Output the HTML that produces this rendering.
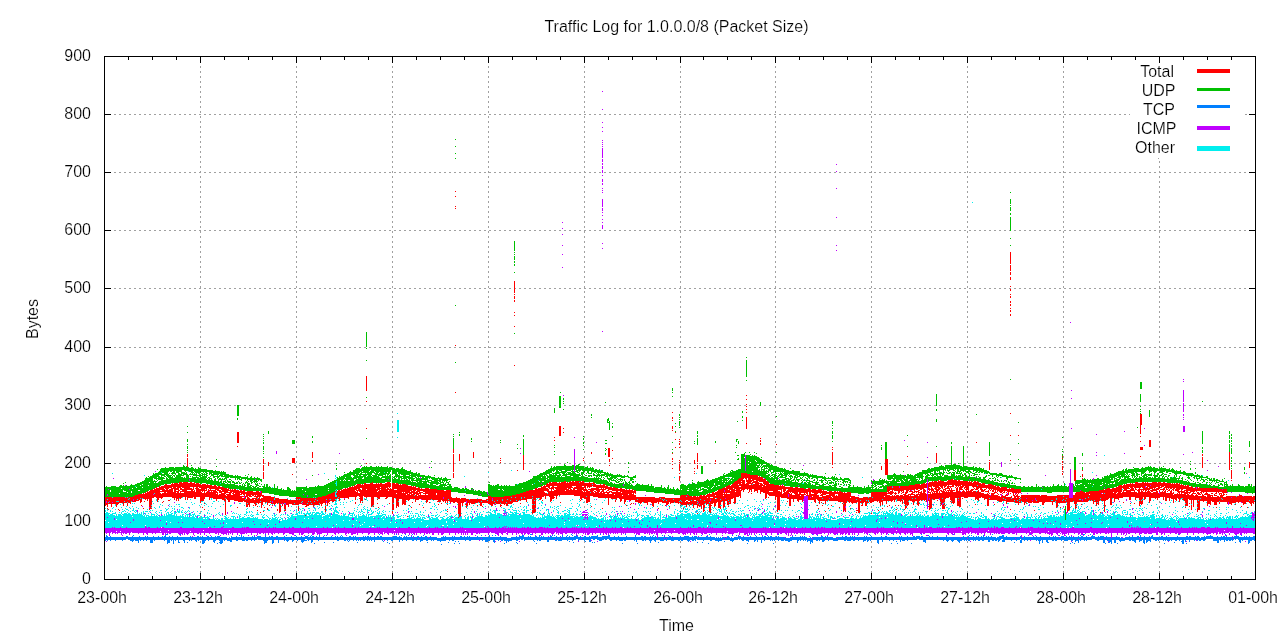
<!DOCTYPE html>
<html><head><meta charset="utf-8"><title>Traffic Log for 1.0.0.0/8 (Packet Size)</title>
<style>
html,body{margin:0;padding:0;background:#fff;overflow:hidden}
svg{display:block}
text{font-family:"Liberation Sans",Arial,Helvetica,sans-serif;font-size:16px;fill:#000;stroke:#fff;stroke-width:.2px}
</style></head><body>
<svg width="1280" height="640" viewBox="0 0 1280 640">
<rect width="1280" height="640" fill="#fff"/>
<g shape-rendering="crispEdges">
<path d="M114 521.5H1255M114 463.5H1255M114 405.5H1255M114 347.5H1255M114 288.5H1255M114 230.5H1255M114 172.5H1255M114 114.5H1255" stroke="#a0a0a0" stroke-dasharray="2 3" fill="none"/>
<path d="M200.5 61V579M296.5 61V579M392.5 61V579M488.5 61V579M584.5 61V579M680.5 61V579M775.5 61V579M871.5 61V579M967.5 61V579M1063.5 61V579M1159.5 61V579" stroke="#a0a0a0" stroke-dasharray="2 3" fill="none"/>
<rect x="1130" y="57" width="115" height="101" fill="#fff"/><path d="M1245 114.5h2M1158 158.5h1" stroke="#a0a0a0" fill="none"/>
<path d="M200.5 579v-6M200.5 57v6M296.5 579v-6M296.5 57v6M392.5 579v-6M392.5 57v6M488.5 579v-6M488.5 57v6M584.5 579v-6M584.5 57v6M680.5 579v-6M680.5 57v6M775.5 579v-6M775.5 57v6M871.5 579v-6M871.5 57v6M967.5 579v-6M967.5 57v6M1063.5 579v-6M1063.5 57v6M1159.5 579v-6M1159.5 57v6M128.5 579v-3M128.5 57v3M152.5 579v-3M152.5 57v3M176.5 579v-3M176.5 57v3M224.5 579v-3M224.5 57v3M248.5 579v-3M248.5 57v3M272.5 579v-3M272.5 57v3M320.5 579v-3M320.5 57v3M344.5 579v-3M344.5 57v3M368.5 579v-3M368.5 57v3M416.5 579v-3M416.5 57v3M440.5 579v-3M440.5 57v3M464.5 579v-3M464.5 57v3M512.5 579v-3M512.5 57v3M536.5 579v-3M536.5 57v3M560.5 579v-3M560.5 57v3M608.5 579v-3M608.5 57v3M632.5 579v-3M632.5 57v3M656.5 579v-3M656.5 57v3M703.5 579v-3M703.5 57v3M727.5 579v-3M727.5 57v3M751.5 579v-3M751.5 57v3M799.5 579v-3M799.5 57v3M823.5 579v-3M823.5 57v3M847.5 579v-3M847.5 57v3M895.5 579v-3M895.5 57v3M919.5 579v-3M919.5 57v3M943.5 579v-3M943.5 57v3M991.5 579v-3M991.5 57v3M1015.5 579v-3M1015.5 57v3M1039.5 579v-3M1039.5 57v3M1087.5 579v-3M1087.5 57v3M1111.5 579v-3M1111.5 57v3M1135.5 579v-3M1135.5 57v3M1183.5 579v-3M1183.5 57v3M1207.5 579v-3M1207.5 57v3M1231.5 579v-3M1231.5 57v3M105 521.5h6M1255 521.5h-6M105 463.5h6M1255 463.5h-6M105 405.5h6M1255 405.5h-6M105 347.5h6M1255 347.5h-6M105 288.5h6M1255 288.5h-6M105 230.5h6M1255 230.5h-6M105 172.5h6M1255 172.5h-6M105 114.5h6M1255 114.5h-6" stroke="#000" fill="none"/>
<g fill="none" stroke-width="1">
<path stroke="#ff0000" d="M105.5 497v9M106.5 497v4m0 2v2M107.5 497v2m0 1v7m0 1v1M108.5 497v5m0 1v1m0 5v1M109.5 497v4m0 1v2M110.5 497v7M111.5 497v10M112.5 498v4m0 1v1M113.5 497v7M114.5 497v7M115.5 497v7M116.5 497v4m0 1v5M117.5 497v4m0 1v3M118.5 497v4m0 1v2m0 5v1M119.5 497v6m0 7v1M120.5 497v6M121.5 497v6M122.5 497v6M123.5 497v9M124.5 497v4m0 1v1M125.5 498v5M126.5 497v6M127.5 498v4m0 1v3M128.5 497v2m0 1v3M129.5 497v1m0 1v4M130.5 497v7M131.5 497v4M132.5 497v5M133.5 496v3m0 2v1M134.5 496v6M135.5 495v7M136.5 495v6M137.5 495v4m0 1v1M138.5 494v7M139.5 494v6M140.5 494v4m0 1v4M141.5 494v8m0 3v1M142.5 494v4M143.5 493v6m0 9v1M144.5 494v5m0 2v1M145.5 492v8M146.5 493v6M147.5 491v10M148.5 492v7M149.5 491v16m0 1v2M150.5 490v19M151.5 490v15m0 1v1m0 1v1M152.5 489v9M153.5 490v4m0 1v3M154.5 488v5m0 1v3M155.5 489v8M156.5 487v11M157.5 488v14M158.5 488v12M159.5 486v12M160.5 487v3m0 1v1m0 1v5M161.5 486v4m0 1v1m0 2v5M162.5 486v6m0 1v5m0 4v1M163.5 486v6m0 1v4m0 4v1M164.5 485v3m0 1v8M165.5 484v5m0 1v7M166.5 484v8m0 1v4M167.5 485v12M168.5 485v4m0 1v7m0 3v1M169.5 485v3m0 1v8m0 3v1M170.5 485v3m0 1v8M171.5 484v13M172.5 483v4m0 1v10M173.5 484v5m0 3v6M174.5 483v17M175.5 483v15M176.5 483v4m0 1v2m0 1v1m0 1v8M177.5 483v7m0 1v8M178.5 484v17M179.5 482v6m0 2v1m0 2v5M180.5 482v8m0 1v8M181.5 482v5m0 1v2m0 1v1m0 1v5M182.5 483v5m0 1v3m0 1v4M183.5 482v6m0 1v3m0 1v4M184.5 482v15M185.5 482v18M186.5 482v15M187.5 454v3m0 1v9m0 15v8m0 1v9M188.5 483v7m0 1v7M189.5 483v7m0 1v7M190.5 482v5m0 1v2m0 1v7M191.5 482v5m0 1v10M192.5 483v4m0 2v9M193.5 483v7m0 1v6M194.5 482v5m0 3v9M195.5 484v3m0 1v1m0 3v7M196.5 483v14M197.5 483v14M198.5 483v4m0 1v9M199.5 484v4m0 1v8M200.5 484v4m0 1v14M201.5 485v6m0 1v9M202.5 484v8m0 1v8m0 6v1M203.5 484v7m0 2v8M204.5 484v15m0 4v1m0 5v1M205.5 484v5m0 1v1m0 2v4M206.5 485v6m0 1v5M207.5 484v4m0 3v6M208.5 485v3m0 1v8M209.5 485v4m0 1v1m0 1v8M210.5 485v6m0 1v6M211.5 485v4m0 1v8M212.5 486v3m0 1v1m0 1v6M213.5 486v3m0 1v9M214.5 485v4m0 1v9M215.5 485v14M216.5 486v4m0 1v2m0 1v7M217.5 487v4m0 1v7M218.5 486v5m0 4v4M219.5 486v3m0 1v3m0 1v5M220.5 487v2m0 1v3m0 1v5M221.5 487v3m0 1v8M222.5 487v5m0 1v7M223.5 487v5m0 1v7M224.5 488v13M225.5 488v6m0 1v3m0 1v16M226.5 488v5m0 1v1m0 1v3M227.5 489v4m0 1v6M228.5 488v3m0 1v1m0 1v8M229.5 490v1m0 1v10M230.5 489v11M231.5 490v3m0 2v5M232.5 489v3m0 1v1m0 1v5M233.5 490v10M234.5 489v4m0 1v7M235.5 489v12M236.5 490v11M237.5 432v11m0 3v1m0 43v11m0 6v1M238.5 432v11m0 47v12M239.5 491v11M240.5 490v3m0 1v1m0 1v6M241.5 490v5m0 1v6M242.5 491v3m0 2v1m0 1v4M243.5 490v5m0 1v1m0 1v3M244.5 490v6m0 2v4M245.5 492v2m0 2v3m0 1v2M246.5 492v5m0 2v8M247.5 491v12m0 1v3M248.5 491v5m0 1v8M249.5 491v6m0 1v9M250.5 491v6m0 2v4M251.5 491v4m0 1v1m0 2v4M252.5 491v5m0 2v5M253.5 492v4m0 2v5m0 2v1M254.5 492v3m0 1v1m0 1v1m0 1v4M255.5 492v5m0 1v8M256.5 491v4m0 1v7m0 1v1M257.5 491v7m0 1v4m0 3v1m0 3v1M258.5 491v6m0 1v6M259.5 492v11M260.5 493v4m0 2v2m0 1v1m0 9v1M261.5 491v5m0 2v10M262.5 495v2m0 1v7M263.5 459v5m0 1v6m0 1v7m0 16v7m0 9v1M264.5 496v6m0 5v1M265.5 496v7M266.5 496v6M267.5 496v9m0 3v2M268.5 462v4m0 30v7M269.5 496v7m0 2v1M270.5 496v5m0 1v1M271.5 497v7M272.5 497v4m0 2v1m0 1v1M273.5 497v7M274.5 497v1m0 2v5M275.5 498v6M276.5 498v5M277.5 498v6m0 5v2M278.5 498v5M279.5 499v14M280.5 499v5m0 1v7M281.5 499v5M282.5 499v4m0 1v2M283.5 499v5M284.5 499v4m0 1v5m0 1v1M285.5 499v4m0 2v6M286.5 499v6M287.5 499v6M288.5 500v7M289.5 500v4M290.5 500v4M291.5 500v4M292.5 458v5m0 11v1m0 25v5M293.5 458v5m0 37v5M294.5 458v5m0 37v3m0 1v1M295.5 500v5M296.5 497v8M297.5 497v2m0 1v5M298.5 497v8m0 1v5M299.5 497v2m0 1v4M300.5 497v7M301.5 498v4m0 1v1M302.5 498v3m0 1v1m0 1v1M303.5 498v7M304.5 498v7M305.5 498v7m0 1v1m0 8v1M306.5 498v9M307.5 498v5m0 1v2M308.5 498v3m0 1v4M309.5 498v7M310.5 498v3m0 1v3M311.5 498v5m0 1v1M312.5 452v6m0 2v2m0 36v7M313.5 498v9M314.5 498v3m0 1v3M315.5 498v1m0 1v5M316.5 498v7M317.5 498v2m0 1v4M318.5 497v8M319.5 497v6m0 1v1M320.5 497v7M321.5 497v9M322.5 496v8M323.5 496v7M324.5 496v7M325.5 496v9m0 1v6M326.5 495v4m0 1v1M327.5 495v11M328.5 494v9M329.5 494v5m0 1v2m0 1v1M330.5 494v5m0 1v1M331.5 493v8M332.5 493v9M333.5 492v10M334.5 492v9M335.5 491v1m0 5v2m0 1v1M336.5 493v2m0 2v2M337.5 491v7M338.5 490v7m0 1v1M339.5 490v11M340.5 491v7M341.5 489v9M342.5 490v8M343.5 489v9M344.5 489v9m0 1v1M345.5 488v10M346.5 489v9M347.5 488v10M348.5 488v11M349.5 487v10M350.5 487v10M351.5 487v10M352.5 486v11M353.5 487v10M354.5 485v12M355.5 486v4m0 1v9m0 2v2M356.5 485v6m0 1v5M357.5 484v5m0 1v6M358.5 484v7m0 2v3M359.5 484v8m0 1v4m0 1v1M360.5 484v4m0 1v14M361.5 485v3m0 2v11M362.5 484v17m0 1v1M363.5 485v11M364.5 483v14M365.5 483v14m0 2v1M366.5 376v15m0 10v1m0 26v1m0 34v1m0 20v5m0 1v8M367.5 484v13M368.5 484v13M369.5 484v13M370.5 483v14M371.5 483v24M372.5 482v24M373.5 484v21m0 1v1M374.5 484v13M375.5 484v13M376.5 483v5m0 1v8M377.5 484v7m0 1v6m0 1v1m0 3v1M378.5 483v7m0 1v8m0 8v1M379.5 484v15M380.5 483v4m0 1v1m0 1v7M381.5 483v14M382.5 484v13M383.5 484v13M384.5 484v13M385.5 483v14m0 1v1M386.5 483v5m0 1v10M387.5 482v16M388.5 482v5m0 1v2m0 1v6M389.5 482v6m0 1v8m0 6v1M390.5 483v4m0 1v9M391.5 489v8M392.5 483v27m0 1v3M393.5 483v20m0 1v6M394.5 483v6m0 1v8M395.5 484v5m0 1v8M396.5 483v6m0 1v3m0 1v14M397.5 483v23M398.5 484v17m0 1v5M399.5 485v14M400.5 484v15M401.5 485v14M402.5 484v8m0 1v12M403.5 484v20M404.5 484v8m0 1v12M405.5 484v21M406.5 485v9m0 1v5M407.5 485v15m0 16v1M408.5 486v7m0 1v7M409.5 486v14m0 5v1M410.5 486v5m0 1v2m0 1v4M411.5 486v13m0 8v1M412.5 487v3m0 1v2m0 1v5m0 3v1M413.5 486v13M414.5 487v8m0 1v3M415.5 486v5m0 1v2m0 1v7M416.5 488v2m0 1v9M417.5 488v7m0 1v4M418.5 487v5m0 1v7M419.5 488v6m0 1v4m0 5v1M420.5 489v2m0 1v7M421.5 488v3m0 1v1m0 2v4M422.5 489v2m0 1v1m0 2v5M423.5 489v3m0 1v1m0 1v5m0 7v1M424.5 489v3m0 1v1m0 1v5M425.5 488v12M426.5 488v6m0 1v8M427.5 488v6m0 1v7M428.5 488v12M429.5 489v11m0 2v1M430.5 489v11M431.5 489v10M432.5 489v11M433.5 489v11M434.5 489v11M435.5 489v11M436.5 489v4m0 2v5M437.5 490v10m0 1v1M438.5 490v12m0 2v1M439.5 490v12M440.5 490v12M441.5 490v10m0 3v1M442.5 490v11M443.5 490v7m0 2v3M444.5 491v10M445.5 491v12M446.5 490v11M447.5 490v13m0 1v1m0 4v1m0 1v1M448.5 490v9m0 1v1M449.5 490v11M450.5 490v13M451.5 497v5M452.5 498v4M453.5 449v4m0 1v18m0 1v5m0 20v5M454.5 498v5M455.5 191v1m0 4v1m0 9v1m0 1v1m0 136v1m0 46v1m0 105v4M456.5 497v5M457.5 498v5M458.5 498v16m0 3v1M459.5 454v7m0 37v19M460.5 499v17M461.5 498v5M462.5 498v8M463.5 498v5M464.5 498v4M465.5 498v4m0 2v1M466.5 499v2m0 2v5M467.5 499v7M468.5 499v4M469.5 500v5M470.5 499v4M471.5 499v5M472.5 499v5M473.5 452v6m0 41v5M474.5 499v5M475.5 499v4M476.5 499v4M477.5 499v4m0 2v1M478.5 499v3M479.5 499v4M480.5 499v7M481.5 499v2m0 1v4M482.5 500v3m0 3v1M483.5 500v3M484.5 500v3M485.5 500v3M486.5 499v4M487.5 499v1m0 1v2M488.5 496v8M489.5 496v8M490.5 496v9M491.5 497v9M492.5 497v1m0 3v5M493.5 497v7M494.5 497v4m0 1v2M495.5 497v6m0 1v1M496.5 497v7M497.5 497v3m0 1v3M498.5 497v7M499.5 497v7M500.5 458v1m0 1v1m0 1v1m0 34v6m0 1v3M501.5 497v7m0 1v1M502.5 497v2m0 2v3M503.5 497v7M504.5 496v9M505.5 496v8M506.5 496v6m0 1v3M507.5 496v3m0 1v6M508.5 496v8M509.5 496v8M510.5 496v4m0 1v3M511.5 496v1m0 1v6M512.5 495v8M513.5 495v7M514.5 281v12m0 1v1m0 1v3m0 1v2m0 10v1m0 2v1m0 10v1m0 38v1m0 129v7M515.5 495v2m0 1v4M516.5 494v6m0 1v1M517.5 470v1m0 23v8M518.5 494v7M519.5 494v6M520.5 493v8m0 2v1M521.5 493v4m0 2v1M522.5 493v7M523.5 455v15m0 22v8M524.5 492v5m0 1v2M525.5 492v8M526.5 491v11M527.5 491v8M528.5 491v8M529.5 490v9M530.5 490v9M531.5 490v9M532.5 490v6m0 1v1m0 1v5m0 1v4m0 1v4M533.5 490v23M534.5 490v10m0 1v3m0 1v8M535.5 488v20m0 1v3M536.5 488v10M537.5 489v9M538.5 488v10M539.5 488v10m0 1v1M540.5 488v12M541.5 486v13M542.5 487v10m0 3v1M543.5 486v11M544.5 485v6m0 1v4M545.5 486v5m0 2v6M546.5 484v3m0 1v3m0 2v3M547.5 483v4m0 1v4m0 2v2M548.5 484v4m0 1v7M549.5 482v7m0 2v6M550.5 482v4m0 2v1m0 2v11M551.5 483v3m0 1v14M552.5 482v7m0 2v8M553.5 482v8m0 1v8M554.5 437v1m0 2v1m0 41v4m0 1v1m0 2v6m0 1v1M555.5 482v4m0 1v2m0 1v6M556.5 482v4m0 1v12M557.5 483v13M558.5 483v12M559.5 426v10m0 46v14M560.5 426v10m0 47v12m0 7v1M561.5 482v13M562.5 482v13M563.5 428v1m0 3v1m0 49v13M564.5 481v14M565.5 481v9m0 1v4M566.5 483v12M567.5 482v6m0 1v6M568.5 483v12M569.5 482v7m0 1v5M570.5 481v14M571.5 482v6m0 1v6M572.5 481v5m0 1v1m0 2v5M573.5 481v5m0 2v7M574.5 482v4m0 1v9M575.5 481v5m0 1v2m0 1v6M576.5 481v8m0 1v6M577.5 481v15M578.5 481v15M579.5 481v1m0 1v13M580.5 481v18m0 1v1M581.5 482v18M582.5 481v5m0 1v3m0 1v7M583.5 458v1m0 1v1m0 20v5m0 1v4m0 1v6M584.5 483v5m0 1v10M585.5 483v8m0 1v7M586.5 483v3m0 3v7m0 1v6M587.5 483v5m0 2v13M588.5 483v4m0 2v1m0 1v11M589.5 482v6m0 1v1m0 1v11M590.5 483v4m0 2v3m0 1v3M591.5 452v2m0 29v4m0 1v8m0 10v1M592.5 483v1m0 1v1m0 2v8M593.5 482v5m0 1v3m0 1v5M594.5 483v4m0 1v2m0 1v1m0 1v4M595.5 484v3m0 1v2m0 1v6M596.5 485v6m0 1v5M597.5 485v12M598.5 485v13M599.5 485v3m0 1v3m0 1v5M600.5 484v4m0 1v1m0 2v6M601.5 485v5m0 1v7M602.5 485v3m0 1v3m0 1v5m0 10v1M603.5 484v14M604.5 484v4m0 1v1m0 2v6M605.5 486v4m0 2v1m0 1v4M606.5 485v4m0 2v2m0 1v4M607.5 486v3m0 1v1m0 1v6M608.5 448v9m0 30v4m0 1v13M609.5 448v9m0 2v3m0 3v1m0 21v3m0 1v2m0 1v4M610.5 487v3m0 1v1m0 2v4M611.5 487v3m0 1v2m0 1v5M612.5 450v1m0 7v1m0 29v3m0 1v7M613.5 487v4m0 1v7M614.5 487v4m0 1v2m0 1v4M615.5 488v3m0 1v7m0 1v2M616.5 488v12M617.5 488v10M618.5 489v2m0 1v6M619.5 489v2m0 1v7M620.5 488v14M621.5 488v4m0 1v8M622.5 489v6m0 1v3M623.5 489v10M624.5 489v15M625.5 490v12M626.5 489v11m0 5v1M627.5 490v10M628.5 490v4m0 1v5M629.5 489v11M630.5 490v11m0 3v1M631.5 490v10m0 3v1M632.5 489v4m0 1v6M633.5 491v9m0 3v1M634.5 490v3m0 2v5M635.5 490v4m0 1v7M636.5 497v5M637.5 497v2m0 1v2M638.5 497v6M639.5 497v6M640.5 497v7M641.5 497v6M642.5 497v5M643.5 497v5M644.5 497v6M645.5 497v6M646.5 497v6M647.5 497v8M648.5 497v5M649.5 497v5M650.5 497v5M651.5 497v6M652.5 497v9M653.5 497v10M654.5 497v6M655.5 498v5M656.5 498v5M657.5 498v4M658.5 498v6m0 4v1M659.5 497v5M660.5 497v1m0 1v3M661.5 497v5M662.5 497v2m0 1v3M663.5 497v3m0 1v2M664.5 497v2m0 1v3M665.5 498v5m0 2v1M666.5 498v2m0 1v4M667.5 498v7M668.5 498v6M669.5 498v4m0 4v1M670.5 498v6M671.5 498v5M672.5 412v1m0 4v2m0 1v1m0 5v3m0 1v1m0 22v1m0 4v2m0 1v1m0 2v1m0 3v1m0 29v5M673.5 498v1m0 1v3M674.5 498v4M675.5 432v1m0 6v1m0 7v1m0 50v5M676.5 498v5M677.5 498v5M678.5 498v6M679.5 439v1m0 1v1m0 1v2m0 2v1m0 12v1m0 1v1m0 1v7m0 2v1m0 2v5m0 17v3m0 1v1M680.5 496v4m0 1v3m0 1v1M681.5 495v6m0 1v3M682.5 495v10M683.5 495v10m0 3v1M684.5 495v10M685.5 495v6m0 1v3M686.5 495v1m0 1v3m0 1v6M687.5 495v5m0 1v3M688.5 495v6m0 1v3M689.5 496v5m0 1v2m0 1v1M690.5 496v9M691.5 496v4m0 1v4M692.5 497v7M693.5 496v12M694.5 460v4m0 4v1m0 2v1m0 1v1m0 22v4m0 1v4M695.5 496v4m0 1v4M696.5 497v8M697.5 453v9m0 1v1m0 1v4m0 27v5m0 1v1m0 1v4m0 5v1M698.5 497v5m0 1v3M699.5 496v8m0 1v2M700.5 495v4m0 1v6M701.5 495v14M702.5 496v9M703.5 495v17M704.5 495v5m0 1v3m0 1v3m0 2v1M705.5 496v7M706.5 495v10M707.5 494v3m0 1v6M708.5 494v10M709.5 493v9m0 1v9M710.5 494v3m0 1v1m0 2v12M711.5 494v3m0 1v6m0 1v1M712.5 492v5m0 1v6M713.5 492v11M714.5 493v14M715.5 460v2m0 1v1m0 28v3m0 1v2m0 1v7M716.5 492v6m0 1v4M717.5 491v11M718.5 490v18M719.5 489v19M720.5 489v10m0 1v5m0 1v3M721.5 489v13M722.5 488v13M723.5 488v5m0 1v1m0 1v12M724.5 487v3m0 2v15M725.5 488v5m0 1v4m0 1v2M726.5 486v15m0 9v1M727.5 486v7m0 1v11M728.5 485v4m0 1v3m0 1v6m0 1v4m0 1v1M729.5 485v8m0 1v8m0 1v1M730.5 486v4m0 1v13M731.5 485v14M732.5 484v15M733.5 483v5m0 1v9m0 4v1M734.5 482v22M735.5 481v8m0 1v1m0 1v11M736.5 481v16M737.5 480v17M738.5 479v5m0 1v12M739.5 478v8m0 1v9M740.5 478v8m0 1v2m0 1v8M741.5 473v8m0 1v1m0 1v7M742.5 473v17M743.5 473v6m0 1v12M744.5 473v5m0 2v10M745.5 473v6m0 5v5M746.5 395v1m0 3v1m0 4v1m0 1v1m0 2v1m0 2v1m0 4v12m0 14v1m0 29v9m0 1v6M747.5 474v4m0 2v10M748.5 474v15m0 3v1M749.5 474v10m0 1v7M750.5 475v9m0 1v5M751.5 475v4m0 1v2m0 1v9m0 1v1M752.5 475v6m0 1v2m0 1v4M753.5 475v8m0 1v5M754.5 475v5m0 1v2m0 1v8M755.5 475v5m0 1v10M756.5 475v16M757.5 475v18M758.5 477v4m0 1v8M759.5 476v6m0 1v1m0 1v5M760.5 438v1m0 1v2m0 1v2m0 32v5m0 1v11M761.5 477v5m0 1v9M762.5 477v5m0 2v2m0 1v5M763.5 479v5m0 1v8M764.5 479v14M765.5 479v6m0 1v13M766.5 481v17M767.5 481v13M768.5 482v13m0 2v1M769.5 484v7m0 1v4M770.5 484v7m0 1v4M771.5 484v7m0 1v4M772.5 484v7m0 1v4M773.5 484v12M774.5 485v11M775.5 485v15M776.5 444v1m0 40v12M777.5 485v27M778.5 485v5m0 1v19M779.5 486v4m0 1v19M780.5 485v5m0 2v5M781.5 486v12M782.5 485v4m0 5v4M783.5 486v6m0 1v5M784.5 486v12M785.5 487v4m0 1v6M786.5 487v2m0 2v7M787.5 487v2m0 1v9m0 2v1M788.5 487v7m0 3v2M789.5 487v5m0 1v13M790.5 487v6m0 1v12M791.5 487v5m0 1v6M792.5 487v6m0 2v4M793.5 488v5m0 2v7M794.5 488v6m0 1v4M795.5 487v12M796.5 487v12M797.5 487v14M798.5 488v4m0 2v8M799.5 488v12M800.5 488v7m0 1v4M801.5 488v5m0 1v6M802.5 488v5m0 1v8M803.5 488v5m0 1v5M804.5 489v6M805.5 489v4m0 1v1M806.5 489v5m0 1v1M807.5 489v7M808.5 488v4m0 3v5M809.5 488v12M810.5 489v8m0 1v2M811.5 490v2m0 2v6M812.5 489v4m0 1v2m0 1v3M813.5 489v4m0 1v6M814.5 489v13M815.5 489v14M816.5 490v9M817.5 490v4m0 1v5m0 5v1M818.5 489v4m0 2v6m0 7v1M819.5 489v4m0 4v7M820.5 489v5m0 1v1m0 1v4M821.5 489v4m0 1v2m0 1v4m0 1v1M822.5 491v7m0 1v2m0 4v1M823.5 490v5m0 1v5m0 2v1M824.5 491v4m0 1v5M825.5 491v4m0 1v8m0 7v1M826.5 491v3m0 1v6M827.5 492v2m0 1v6M828.5 492v2m0 1v5m0 8v1M829.5 491v7m0 1v2M830.5 491v10M831.5 491v5m0 1v4m0 4v1M832.5 447v1m0 1v1m0 2v13m0 2v1m0 24v5m0 1v3M833.5 492v9M834.5 491v10M835.5 491v3m0 2v5M836.5 492v2m0 1v6M837.5 491v3m0 2v5M838.5 492v10M839.5 491v11m0 5v1M840.5 491v11M841.5 492v10M842.5 492v10m0 1v1M843.5 493v10m0 1v8M844.5 492v18M845.5 493v13m0 2v4M846.5 493v10M847.5 492v9M848.5 492v10M849.5 492v11M850.5 492v5m0 1v4m0 6v1M851.5 496v7M852.5 496v8M853.5 496v7M854.5 496v7M855.5 497v6M856.5 497v2m0 1v3m0 7v1m0 1v1M857.5 497v5m0 8v1M858.5 497v16M859.5 498v15M860.5 498v2m0 1v2M861.5 498v5m0 2v1M862.5 498v8M863.5 497v6M864.5 497v5M865.5 497v9M866.5 497v3m0 1v5M867.5 497v6M868.5 498v2m0 2v1M869.5 497v5M870.5 497v6M871.5 492v11m0 10v1M872.5 492v5m0 1v4M873.5 492v10M874.5 492v9M875.5 492v9M876.5 492v9M877.5 492v10M878.5 492v9m0 9v1M879.5 492v11M880.5 492v14M881.5 466v4m0 22v10M882.5 492v7m0 1v5m0 3v1M883.5 492v9M884.5 492v4m0 1v4M885.5 459v16m0 17v9M886.5 459v16m0 17v12M887.5 459v16m0 11v6m0 1v1m0 1v6m0 5v1M888.5 487v7m0 1v6M889.5 486v5m0 1v2m0 1v6m0 4v1M890.5 486v4m0 1v4m0 1v5M891.5 486v4m0 1v4m0 1v6M892.5 488v6m0 1v6M893.5 486v4m0 2v1m0 3v4M894.5 486v5m0 2v1m0 1v7M895.5 486v5m0 1v3m0 1v4m0 5v1M896.5 486v5m0 2v1m0 1v4m0 10v1M897.5 486v5m0 4v6M898.5 486v8m0 1v6m0 4v1M899.5 488v5m0 3v5M900.5 486v5m0 4v7M901.5 486v6m0 1v1m0 1v6M902.5 486v5m0 1v1m0 2v4m0 1v4M903.5 486v7m0 1v1m0 1v4M904.5 486v4m0 4v10m0 5v1M905.5 486v4m0 2v17M906.5 486v8m0 1v10m0 1v2M907.5 456v1m0 7v1m0 21v7m0 2v11M908.5 486v5m0 3v7m0 1v3M909.5 485v5m0 1v1m0 2v1m0 1v4M910.5 485v7m0 2v7M911.5 485v5m0 1v1m0 1v2m0 1v5M912.5 485v5m0 1v4m0 1v2m0 1v3M913.5 485v5m0 2v1m0 1v1m0 1v9M914.5 485v8m0 1v8M915.5 484v5m0 2v1m0 3v3m0 1v2M916.5 484v6m0 1v2m0 1v7M917.5 484v6m0 1v1m0 2v11M918.5 484v5m0 1v5m0 1v10M919.5 484v5m0 1v1m0 1v1m0 1v7m0 2v1M920.5 485v5m0 2v8M921.5 484v6m0 1v10M922.5 484v5m0 4v7M923.5 483v17M924.5 483v5m0 1v12M925.5 484v4m0 2v2m0 1v7M926.5 483v5m0 6v8M928.5 483v7m0 1v2m0 1v7m0 5v1M929.5 482v5m0 1v3m0 1v1m0 1v4m0 2v10M930.5 482v5m0 2v1m0 2v17M931.5 482v10m0 2v14M932.5 481v5m0 2v3m0 1v7M933.5 482v5m0 2v3m0 1v7M934.5 481v6m0 1v1m0 2v9M935.5 481v9m0 1v1m0 1v6M936.5 453v10m0 18v18M937.5 482v6m0 1v10m0 1v1M938.5 480v11m0 2v6M939.5 481v5m0 1v3m0 1v7M940.5 480v7m0 1v1m0 1v1m0 2v9m0 1v1m0 1v1M941.5 481v7m0 2v2m0 1v12M942.5 481v8m0 2v7m0 1v4m0 2v4M943.5 481v5m0 3v14m0 1v5M944.5 482v6m0 1v1m0 1v11m0 1v2m0 1v3M945.5 482v5m0 1v3m0 1v7m0 6v1M946.5 482v4m0 2v1m0 2v7M947.5 481v4m0 1v3m0 1v1m0 1v6M948.5 480v9m0 1v8M949.5 480v5m0 1v1m0 1v3m0 1v5M950.5 480v5m0 1v2m0 2v10m0 1v1M951.5 479v6m0 1v1m0 1v13m0 1v1M952.5 479v8m0 3v13M953.5 480v7m0 3v1m0 1v12M954.5 480v5m0 5v1m0 1v11M955.5 480v6m0 1v1m0 4v6M956.5 480v7m0 1v10M957.5 481v5m0 1v19M958.5 480v7m0 4v7m0 1v1m0 1v5M959.5 480v6m0 1v20M960.5 481v9m0 2v15M961.5 481v4m0 1v4m0 2v5M962.5 481v7m0 1v1m0 1v6m0 1v1M963.5 481v6m0 3v7M964.5 481v5m0 1v2m0 2v7M965.5 481v7m0 1v1m0 2v6M966.5 481v17M967.5 481v9m0 1v7M968.5 482v15M969.5 481v5m0 5v6M970.5 482v4m0 4v7M971.5 481v5m0 3v8M972.5 483v4m0 2v2m0 1v5M973.5 482v6m0 1v1m0 1v6M974.5 481v6m0 1v1m0 2v6M975.5 481v6m0 2v1m0 1v9m0 4v1M976.5 442v1m0 39v8m0 2v7M977.5 481v4m0 1v4m0 1v9M978.5 482v7m0 1v11M979.5 483v5m0 4v6M980.5 483v7m0 2v6M981.5 484v8m0 1v4M982.5 483v5m0 1v3m0 1v5M983.5 483v5m0 2v2m0 1v5M984.5 483v5m0 1v2m0 3v6M985.5 485v3m0 1v1m0 1v1m0 2v5M986.5 485v4m0 2v1m0 2v5M987.5 485v3m0 3v1m0 1v13M988.5 484v5m0 1v3m0 1v12M989.5 460v1m0 1v8m0 14v6m0 3v1m0 1v3m0 1v1M990.5 484v5m0 1v1m0 5v4M991.5 484v6m0 3v7M992.5 485v4m0 1v2m0 1v7M993.5 485v7m0 1v7M994.5 486v4m0 2v2m0 1v5m0 4v1M995.5 485v8m0 2v5M996.5 487v3m0 2v1m0 2v5M997.5 486v6m0 1v1m0 1v6M998.5 486v5m0 3v1m0 1v5M999.5 487v5m0 4v6M1000.5 488v5m0 1v1m0 2v5M1001.5 487v6m0 3v6M1002.5 487v5m0 1v1m0 1v6M1003.5 487v4m0 1v1m0 3v2m0 1v2M1004.5 487v6m0 3v5M1005.5 487v4m0 4v4m0 1v1M1006.5 487v4m0 1v1m0 1v2m0 1v7M1007.5 489v3m0 3v1m0 1v5M1008.5 489v6m0 2v5M1009.5 488v4m0 5v5M1010.5 252v12m0 1v6m0 1v3m0 2v3m0 6v1m0 2v2m0 3v1m0 1v2m0 3v2m0 1v2m0 2v1m0 1v2m0 2v2m0 97v1m0 21v1m0 24v1m0 28v3m0 1v1m0 3v5m0 7v1M1011.5 488v4m0 4v2m0 1v3M1012.5 488v5m0 5v4M1013.5 488v8m0 2v4M1014.5 489v4m0 2v5m0 1v1M1015.5 489v4m0 1v1m0 1v7M1016.5 489v5m0 1v2m0 1v5M1017.5 489v4m0 1v6m0 1v2M1018.5 435v1m0 53v5m0 2v9M1019.5 489v4m0 3v1m0 1v1m0 1v1m0 1v1M1020.5 489v4m0 4v1m0 1v4M1021.5 495v6M1022.5 495v7M1023.5 495v7M1024.5 495v10M1025.5 495v8M1026.5 495v3m0 1v3m0 1v1M1027.5 495v7M1028.5 495v8M1029.5 495v8M1030.5 495v8M1031.5 495v8M1032.5 495v5m0 1v1M1033.5 495v8M1034.5 495v8m0 7v1M1035.5 495v3m0 2v3M1036.5 495v5m0 1v2M1037.5 495v8M1038.5 495v8M1039.5 495v7M1040.5 496v6M1041.5 495v7M1042.5 495v10M1043.5 495v10M1044.5 495v8M1045.5 495v7M1046.5 495v7M1047.5 496v6M1048.5 496v6M1049.5 496v6M1050.5 496v6M1051.5 496v4m0 1v1M1052.5 496v4m0 1v4M1053.5 496v6M1054.5 496v6M1055.5 496v5M1056.5 496v2m0 2v8M1057.5 495v12M1058.5 495v8M1059.5 495v8M1060.5 495v8m0 4v1M1061.5 495v8M1062.5 456v1m0 1v1m0 2v2m0 1v1m0 1v4m0 1v1m0 1v2m0 20v5m0 1v2M1063.5 495v1m0 1v2m0 1v3M1064.5 495v8m0 6v1M1065.5 495v5m0 1v2M1066.5 495v3m0 1v3M1067.5 495v17M1068.5 495v16M1069.5 498v12M1070.5 498v4M1071.5 498v4M1072.5 498v4M1073.5 495v6M1074.5 470v11m0 14v9M1075.5 470v11m0 12v16M1076.5 492v12m0 1v1m0 1v1M1077.5 492v10M1078.5 492v10M1079.5 492v7m0 1v2M1080.5 491v8m0 1v2M1081.5 491v11m0 2v1M1082.5 470v1m0 3v3m0 1v1m0 12v8m0 2v1M1083.5 492v10M1084.5 492v10M1085.5 493v5m0 1v3M1086.5 492v10M1087.5 492v10M1088.5 492v5m0 1v3M1089.5 491v3m0 1v5M1090.5 491v10M1091.5 491v9M1092.5 491v10M1093.5 491v13M1094.5 491v9m0 1v1M1095.5 491v11M1096.5 491v15M1097.5 491v11m0 1v1M1098.5 491v14M1099.5 490v11M1100.5 490v8m0 1v1m0 12v1M1101.5 490v3m0 1v7M1102.5 490v3m0 1v7M1103.5 489v12M1104.5 490v3m0 1v18M1105.5 489v12m0 4v1M1106.5 489v11M1107.5 488v12M1108.5 488v11M1109.5 488v10M1110.5 489v16M1111.5 489v16M1112.5 488v10M1113.5 488v4m0 1v5M1114.5 488v14M1115.5 488v11M1116.5 487v6m0 1v5M1117.5 487v5m0 1v6M1118.5 486v14M1119.5 485v13M1120.5 485v13M1121.5 485v7m0 1v5M1122.5 486v2m0 4v6M1123.5 485v4m0 1v7m0 5v1M1124.5 484v7m0 1v5M1125.5 485v6m0 1v5M1126.5 484v13M1127.5 484v5m0 1v7M1128.5 484v5m0 1v7M1129.5 484v3m0 1v1m0 1v10M1130.5 483v5m0 1v11m0 3v1M1131.5 484v7m0 1v5M1132.5 483v8m0 1v5M1133.5 484v3m0 1v3m0 1v5M1134.5 484v4m0 2v7m0 6v1M1135.5 482v8m0 2v8M1136.5 482v6m0 1v1m0 2v6M1137.5 482v6m0 2v1m0 2v5M1138.5 483v5m0 1v9M1139.5 483v17m0 1v5M1140.5 414v20m0 2v1m0 4v1m0 5v3m0 6v1m0 26v5m0 1v1m0 2v12M1141.5 414v11m0 22v3m0 33v4m0 2v11m0 1v4M1142.5 447v3m0 32v6m0 1v1m0 1v8m0 1v4M1143.5 482v9m0 1v5M1144.5 483v7m0 2v8M1145.5 482v4m0 2v11M1146.5 483v3m0 1v4m0 1v5M1147.5 482v8m0 1v6M1148.5 483v4m0 1v9M1149.5 440v7m0 36v7m0 1v12M1150.5 440v7m0 36v2m0 1v3m0 1v1m0 1v9M1151.5 483v6m0 1v2m0 1v5M1152.5 482v10m0 1v5M1153.5 482v6m0 1v2m0 1v6M1154.5 482v9m0 1v6M1155.5 482v6m0 1v2m0 1v7M1156.5 482v5m0 1v10M1157.5 483v4m0 1v2m0 1v9M1158.5 482v8m0 3v5M1159.5 482v7m0 1v2m0 2v4M1160.5 482v4m0 1v1m0 1v1m0 2v5M1161.5 483v5m0 1v1m0 2v5M1162.5 483v4m0 2v1m0 1v6M1163.5 482v5m0 1v3m0 1v8M1164.5 482v4m0 1v3m0 1v6M1165.5 483v5m0 2v11M1166.5 483v7m0 3v8M1167.5 483v5m0 1v1m0 1v1m0 1v5M1168.5 483v6m0 1v1m0 2v5M1169.5 483v5m0 1v2m0 2v8M1170.5 483v6m0 2v7M1171.5 484v5m0 1v9M1172.5 483v5m0 1v1m0 3v6M1173.5 484v7m0 1v2m0 1v8M1174.5 483v6m0 5v5M1175.5 484v4m0 1v2m0 3v6M1176.5 483v8m0 3v7M1177.5 483v9m0 1v5M1178.5 484v9m0 1v5M1179.5 483v7m0 1v11M1180.5 485v4m0 2v1m0 2v5M1181.5 484v14M1182.5 485v5m0 1v2m0 1v4m0 1v1M1183.5 485v4m0 2v2m0 1v6M1184.5 486v3m0 1v11M1185.5 485v4m0 1v1m0 1v11m0 1v2m0 1v1M1186.5 486v8m0 1v11M1187.5 485v21M1188.5 485v6m0 1v1m0 1v5M1189.5 487v4m0 1v2m0 1v5m0 3v1m0 2v1M1190.5 487v6m0 2v5M1191.5 486v6m0 2v10m0 1v5M1192.5 487v5m0 1v7M1193.5 488v6m0 1v12M1194.5 488v4m0 1v1m0 2v4M1195.5 487v4m0 2v1m0 1v5M1196.5 489v3m0 2v6M1197.5 487v4m0 1v2m0 1v8m0 1v3m0 1v4M1198.5 488v3m0 1v3m0 1v4m0 1v9M1199.5 487v4m0 2v2m0 1v14M1200.5 488v3m0 1v1m0 1v1m0 1v2m0 1v2M1201.5 488v6m0 2v5M1202.5 454v2m0 1v11m0 20v4m0 2v7M1203.5 488v5m0 2v7M1204.5 488v4m0 2v1m0 1v5M1205.5 488v4m0 1v2m0 1v5M1206.5 488v7m0 2v4M1207.5 488v4m0 1v13M1208.5 488v4m0 2v10M1209.5 488v4m0 2v10M1210.5 488v4m0 3v10M1211.5 488v4m0 1v1m0 1v1m0 1v4M1212.5 488v4m0 1v1m0 1v7M1213.5 488v4m0 5v5M1214.5 488v4m0 2v2m0 1v8M1215.5 488v4m0 1v1m0 1v1m0 1v8M1216.5 488v6m0 1v1m0 1v8m0 2v1M1217.5 488v4m0 4v6M1218.5 489v4m0 3v6M1219.5 489v3m0 1v2m0 2v4m0 1v2M1220.5 489v3m0 1v1m0 1v7M1221.5 489v3m0 1v5m0 1v3M1222.5 490v3m0 2v4m0 1v2M1223.5 489v7m0 1v5M1224.5 489v4m0 1v1m0 2v5M1225.5 489v4m0 4v5M1226.5 489v4m0 1v1m0 1v6M1227.5 496v8M1228.5 496v6M1229.5 452v18m0 26v8M1230.5 496v8M1231.5 470v9m0 1v1m0 15v1m0 1v7M1232.5 496v7M1233.5 496v7M1234.5 496v7M1235.5 496v7m0 1v1M1236.5 497v5M1237.5 496v6M1238.5 496v7M1239.5 495v7M1240.5 495v7M1241.5 495v7m0 4v1M1242.5 496v7M1243.5 497v8M1244.5 496v8M1245.5 496v8M1246.5 496v6M1247.5 496v6m0 5v1M1248.5 496v6M1249.5 462v6m0 28v4m0 1v2M1250.5 496v8M1251.5 496v10M1252.5 497v6M1253.5 496v8M1254.5 496v4m0 1v1"/>
<path stroke="#00c000" d="M105.5 487v10M106.5 486v11M107.5 487v7m0 2v1M108.5 487v2m0 1v7M109.5 487v10M110.5 487v3m0 2v5M111.5 486v11M112.5 486v11M113.5 486v11M114.5 486v11M115.5 486v11M116.5 487v10M117.5 487v10M118.5 487v10M119.5 486v7m0 1v3M120.5 485v12M121.5 485v3m0 1v8M122.5 486v11M123.5 483v1m0 1v5m0 2v5M124.5 486v5m0 1v5M125.5 482v1m0 3v5m0 1v5M126.5 485v12M127.5 486v6m0 1v4M128.5 486v11M129.5 486v3m0 1v7M130.5 485v12M131.5 484v7m0 2v4M132.5 485v3m0 1v8M133.5 485v11M134.5 485v11M135.5 484v2m0 1v8M136.5 484v3m0 1v7M137.5 483v12M138.5 483v7m0 1v3M139.5 483v7m0 1v3M140.5 482v3m0 1v8M141.5 482v12M142.5 481v3m0 1v2m0 1v5M143.5 481v12M144.5 480v13M145.5 478v14M146.5 477v15M147.5 478v13M148.5 476v1m0 1v7m0 1v5M149.5 477v5m0 1v7M150.5 476v14M151.5 476v14M152.5 475v14M153.5 473v5m0 3v8M154.5 474v5m0 1v2m0 1v5M155.5 473v6m0 2v7M156.5 473v7m0 1v1m0 1v4M157.5 469v1m0 3v4m0 1v1m0 1v1m0 2v4M158.5 472v8m0 2v5M159.5 471v4m0 1v4m0 1v5M160.5 469v6m0 2v3m0 1v5M161.5 468v4m0 1v12M162.5 468v5m0 1v2m0 1v8M163.5 468v5m0 1v2m0 1v2m0 1v5M164.5 468v9m0 1v1m0 1v4M165.5 467v8m0 1v1m0 3v4M166.5 468v8m0 1v7M167.5 468v9m0 1v6M168.5 468v4m0 2v4m0 1v5M169.5 467v4m0 2v1m0 1v9M170.5 467v5m0 3v9M171.5 467v5m0 1v1m0 1v1m0 1v6M172.5 467v4m0 1v3m0 1v7M173.5 467v7m0 1v1m0 2v5M174.5 468v6m0 1v2m0 1v5M175.5 467v4m0 2v2m0 2v6M176.5 467v6m0 2v8M177.5 467v6m0 2v8M178.5 467v16M179.5 467v5m0 1v9M180.5 467v5m0 2v8M181.5 467v9m0 1v5M182.5 467v3m0 2v2m0 1v1m0 1v5M183.5 465v5m0 2v4m0 2v4M184.5 466v5m0 1v3m0 2v5M185.5 467v5m0 1v2m0 3v4M186.5 466v5m0 1v10M187.5 426v1m0 5v1m0 6v3m0 2v1m0 1v3m0 1v1m0 1v1m0 14v4m0 3v8M188.5 467v4m0 4v7M189.5 468v4m0 2v1m0 3v1m0 2v1M190.5 468v4m0 1v2m0 1v1m0 1v4M191.5 465v1m0 1v6m0 1v1m0 3v4M192.5 467v8m0 1v6M193.5 468v3m0 1v1m0 1v2m0 1v5M194.5 469v3m0 1v3m0 1v5M195.5 468v5m0 1v2m0 1v6M196.5 469v9m0 1v4M197.5 469v4m0 2v1m0 1v6M198.5 467v7m0 1v1m0 1v6M199.5 468v9m0 1v5M200.5 468v5m0 1v10M201.5 469v3m0 1v1m0 1v1m0 1v7M202.5 469v3m0 1v10M203.5 469v4m0 1v1m0 1v7M204.5 469v3m0 1v10M205.5 469v4m0 1v1m0 1v7M206.5 469v9m0 1v5M207.5 470v2m0 1v1m0 1v1m0 2v1m0 1v4M208.5 470v2m0 5v1m0 1v5M209.5 470v5m0 2v7M210.5 470v4m0 2v1m0 1v1m0 1v5M211.5 470v6m0 2v7M212.5 470v3m0 1v2m0 4v5M213.5 471v7m0 3v4M214.5 471v4m0 1v2m0 1v6M215.5 470v5m0 1v1m0 1v7M216.5 459v1m0 6v1m0 4v4m0 1v1m0 4v4M217.5 471v8m0 2v5M218.5 471v4m0 1v2m0 1v7M219.5 471v3m0 1v2m0 1v2m0 2v4M220.5 472v4m0 2v2m0 1v2m0 1v2M221.5 471v6m0 2v7M222.5 472v5m0 1v2m0 3v4M223.5 471v4m0 1v1m0 2v1m0 1v6M224.5 472v5m0 1v2m0 1v1m0 1v5M225.5 472v7m0 1v3m0 1v4M226.5 474v6m0 2v1m0 1v4M227.5 474v4m0 2v2m0 1v5M228.5 474v4m0 3v2m0 1v4M229.5 475v2m0 2v1m0 1v2m0 1v5M230.5 475v3m0 1v1m0 1v8M231.5 475v3m0 2v1m0 3v5M232.5 475v3m0 3v2m0 1v5M233.5 476v2m0 3v2m0 1v5M234.5 476v2m0 4v7M235.5 475v5m0 3v1m0 1v4M236.5 476v2m0 4v2m0 1v4M237.5 405v11m0 2v2m0 55v5m0 2v2m0 1v4M238.5 405v11m0 60v3m0 2v1m0 4v3M239.5 476v4m0 2v2m0 1v5M240.5 476v2m0 1v1m0 3v1m0 1v5M241.5 477v4m0 1v1m0 3v4M242.5 477v2m0 5v6M243.5 477v2m0 4v1m0 2v4M244.5 477v2m0 5v6M245.5 475v1m0 1v3m0 2v2m0 1v1m0 1v4M246.5 477v2m0 2v2m0 4v4M247.5 476v5m0 1v9M248.5 474v1m0 3v2m0 1v1m0 1v8M249.5 478v2m0 3v2m0 1v5M250.5 477v5m0 3v6M251.5 476v8m0 1v1m0 1v4M252.5 478v3m0 1v1m0 3v1m0 1v3M253.5 478v2m0 1v1m0 4v5M254.5 477v6m0 4v4M255.5 478v1m0 1v2m0 1v2m0 1v5M256.5 478v5m0 1v3m0 1v3M257.5 477v3m0 1v1m0 1v3m0 1v4M258.5 478v3m0 4v1m0 1v4M259.5 478v2m0 3v1m0 2v1m0 1v3M260.5 479v2m0 5v1m0 1v3M261.5 479v3m0 2v1m0 3v3M262.5 486v1m0 1v5M263.5 434v1m0 1v1m0 1v1m0 1v1m0 1v2m0 2v4m0 1v1m0 1v1m0 3v1m0 28v7M264.5 484v9M265.5 487v6M266.5 484v9M267.5 484v9M268.5 431v3m0 53v6M269.5 486v8M270.5 487v7M271.5 488v6M272.5 488v6M273.5 488v6M274.5 484v11M275.5 488v7M276.5 488v7M277.5 486v9M278.5 489v6M279.5 489v7M280.5 489v7M281.5 488v8M282.5 490v6M283.5 489v7M284.5 490v6M285.5 490v6M286.5 490v6M287.5 487v9M288.5 487v9M289.5 488v9M290.5 489v8M291.5 491v6M292.5 440v4m0 46v7M293.5 440v4m0 47v6M294.5 440v4m0 46v7M295.5 491v6M296.5 487v10M297.5 487v10M298.5 487v10M299.5 487v10M300.5 487v10M301.5 487v11M302.5 487v2m0 1v8M303.5 487v7m0 1v3M304.5 487v11M305.5 487v4m0 1v6M306.5 486v12M307.5 488v7m0 2v1M308.5 488v10M309.5 487v11M310.5 487v11M311.5 487v11M312.5 436v2m0 3v2m0 32v1m0 11v11M313.5 487v10M314.5 487v11M315.5 486v8m0 1v2M316.5 487v7m0 1v3M317.5 486v12M318.5 485v12M319.5 486v11M320.5 486v11M321.5 486v11M322.5 486v10M323.5 486v10M324.5 485v11M325.5 485v11M326.5 484v11M327.5 484v11M328.5 479v1m0 3v5m0 1v1m0 1v3M329.5 483v11M330.5 482v12M331.5 482v11M332.5 481v12M333.5 481v11M334.5 480v12M335.5 480v3m0 1v6M336.5 463v1m0 1v1m0 2v2m0 10v1m0 5v3m0 1v1M337.5 477v13M338.5 478v12M339.5 476v14M340.5 477v3m0 1v9M341.5 476v13M342.5 476v13M343.5 475v5m0 1v7M344.5 472v1m0 1v5m0 1v8M345.5 474v3m0 1v2m0 1v7M346.5 474v14M347.5 473v15M348.5 473v7m0 1v6M349.5 472v8m0 1v6M350.5 471v16M351.5 472v3m0 2v9M352.5 472v3m0 3v8M353.5 470v6m0 1v9M354.5 470v9m0 2v4M355.5 469v5m0 1v4m0 1v5M356.5 468v16M357.5 468v10m0 1v5M358.5 468v7m0 1v8M359.5 468v5m0 1v10M360.5 469v3m0 1v11M361.5 465v1m0 2v7m0 1v8M362.5 467v4m0 1v1m0 1v1m0 1v2m0 1v5M363.5 467v6m0 1v3m0 2v5M364.5 466v7m0 1v9M365.5 467v16M366.5 332v15m0 1v1m0 11v1m0 36v1m0 40v1m0 27v7m0 1v2m0 1v6M367.5 467v8m0 1v7M368.5 467v16M369.5 467v4m0 1v11M370.5 466v4m0 1v12M371.5 466v9m0 1v7M372.5 467v6m0 2v1m0 1v5M373.5 467v6m0 2v8M374.5 467v4m0 1v2m0 1v8M375.5 467v5m0 1v10M376.5 466v17M377.5 467v8m0 1v7M378.5 466v7m0 1v9M379.5 467v5m0 1v3m0 1v6M380.5 467v9m0 2v5M381.5 466v10m0 1v6M382.5 467v11m0 1v4M383.5 467v8m0 1v2m0 1v4M384.5 467v5m0 1v2m0 1v2m0 1v4M385.5 467v15M386.5 467v7m0 2v6M387.5 466v6m0 1v9M388.5 468v7m0 1v3m0 1v2M389.5 467v7m0 1v7M390.5 467v5m0 2v8M391.5 467v3M392.5 468v7m0 1v1m0 1v5M393.5 468v6m0 3v1m0 1v4M394.5 468v6m0 2v7M395.5 469v8m0 1v5M396.5 468v10m0 1v4M397.5 468v4m0 2v3m0 2v4M398.5 468v6m0 1v9M399.5 469v15M400.5 469v5m0 2v2m0 2v4M401.5 468v7m0 1v8M402.5 467v8m0 1v1m0 1v1m0 1v4M403.5 469v10m0 1v4M404.5 469v15M405.5 470v9m0 1v4M406.5 470v5m0 1v9M407.5 471v4m0 1v2m0 1v6M408.5 471v4m0 1v3m0 1v5M409.5 471v14M410.5 470v4m0 1v1m0 1v2m0 2v4M411.5 472v9m0 1v4M412.5 472v14M413.5 473v4m0 1v3m0 1v4M414.5 473v4m0 1v1m0 1v1m0 1v4M415.5 473v5m0 2v1m0 1v4M416.5 472v4m0 1v5m0 1v4M417.5 474v3m0 1v9M418.5 473v8m0 1v5M419.5 473v4m0 1v10M420.5 475v2m0 2v9M421.5 475v2m0 1v10M422.5 475v5m0 1v1m0 1v5M423.5 475v5m0 1v7M424.5 475v2m0 1v2m0 1v7M425.5 476v12M426.5 476v4m0 1v7M427.5 476v6m0 2v4M428.5 475v3m0 2v3m0 1v4M429.5 476v3m0 1v1m0 1v1m0 2v3M430.5 476v2m0 2v1m0 1v7M431.5 461v1m0 5v1m0 9v2m0 1v9M432.5 477v3m0 1v8M433.5 477v3m0 1v3m0 1v4M434.5 475v1m0 1v7m0 1v4M435.5 478v6m0 1v4M436.5 478v7m0 1v3M437.5 478v7m0 1v4M438.5 477v2m0 1v1m0 1v2m0 2v4M439.5 478v4m0 1v1m0 1v5M440.5 478v12M441.5 477v3m0 2v1m0 1v6M442.5 479v4m0 1v6M443.5 478v3m0 1v4m0 1v3M444.5 478v4m0 2v6M445.5 477v4m0 2v3m0 1v3M446.5 478v5m0 2v1m0 1v3M447.5 479v2m0 1v1m0 1v1m0 1v4M448.5 479v1m0 2v3m0 1v4M449.5 479v1m0 1v1m0 2v6M450.5 479v1m0 4v6M451.5 486v6M452.5 488v4M453.5 434v1m0 1v1m0 1v11m0 39v4M454.5 487v5M455.5 139v1m0 6v1m0 6v1m0 4v1m0 146v1m0 56v1m0 124v5M456.5 487v5M457.5 487v5M458.5 488v5M459.5 432v1m0 1v2m0 52v5M460.5 489v4M461.5 489v4M462.5 488v5M463.5 488v5M464.5 489v4M465.5 488v2m0 1v2M466.5 488v6M467.5 489v5M468.5 489v5M469.5 490v4M470.5 490v4M471.5 438v2m0 1v1m0 46v6M472.5 488v1m0 1v4M473.5 489v6M474.5 491v4M475.5 490v5M476.5 491v4M477.5 491v4M478.5 490v6M479.5 490v6M480.5 491v3m0 1v1M481.5 491v5M482.5 492v5M483.5 491v6M484.5 491v6M485.5 492v5M486.5 492v5M487.5 494v3M488.5 484v10m0 1v1M489.5 482v1m0 1v12M490.5 485v11M491.5 485v12M492.5 486v11M493.5 485v12M494.5 486v11M495.5 485v12M496.5 485v12M497.5 484v13M498.5 484v5m0 1v7M499.5 486v3m0 1v7M500.5 440v1m0 1v1m0 43v11M501.5 485v12M502.5 486v3m0 1v7M503.5 486v4m0 1v6M504.5 485v11M505.5 486v10M506.5 485v11M507.5 486v10M508.5 486v10M509.5 485v11M510.5 486v10M511.5 486v10M512.5 486v9M513.5 486v9M514.5 241v10m0 1v1m0 1v1m0 1v4m0 1v2m0 1v2m0 6v1m0 60v1m0 152v9M515.5 484v11M516.5 484v10M517.5 444v1m0 3v1m0 36v9M518.5 484v10M519.5 483v11M520.5 483v10M521.5 483v10M522.5 483v5m0 1v4M523.5 435v2m0 2v16m0 27v10M524.5 482v10M525.5 482v10M526.5 481v10M527.5 481v10M528.5 480v11M529.5 480v10M530.5 479v11M531.5 479v11M532.5 478v6m0 1v5M533.5 476v13M534.5 476v7m0 1v5M535.5 476v12M536.5 476v12M537.5 475v13M538.5 475v5m0 1v6M539.5 474v7m0 1v5M540.5 473v14M541.5 473v4m0 1v5m0 1v2M542.5 473v8m0 1v4M543.5 472v3m0 1v5m0 1v3M544.5 472v13M545.5 471v4m0 1v9M546.5 470v6m0 2v1m0 1v4M547.5 470v4m0 1v8M548.5 469v5m0 2v2m0 1v4M549.5 469v13M550.5 468v5m0 1v8M551.5 466v7m0 1v8M552.5 468v3m0 2v1m0 1v7M553.5 467v5m0 1v9M554.5 408v5m0 32v1m0 1v1m0 3v1m0 2v1m0 11v5m0 2v1m0 1v7M555.5 467v3m0 2v10M556.5 466v10m0 1v5M557.5 466v8m0 1v7M558.5 466v4m0 1v3m0 1v7M559.5 396v12m0 58v5m0 1v10M560.5 392v1m0 3v12m0 58v5m0 1v1m0 1v2m0 1v5M561.5 466v7m0 3v6M562.5 466v4m0 1v3m0 1v1m0 1v5M563.5 398v2m0 1v1m0 1v1m0 5v1m0 56v4m0 1v5m0 1v5M564.5 464v6m0 1v5m0 1v4M565.5 465v8m0 1v7M566.5 466v6m0 1v9M567.5 462v1m0 3v5m0 1v1m0 1v1m0 1v6M568.5 466v5m0 1v3m0 1v6M569.5 466v5m0 1v3m0 1v6M570.5 466v5m0 1v9M571.5 466v4m0 1v1m0 1v3m0 1v4M572.5 465v11m0 1v4M573.5 465v5m0 1v10M574.5 472v9M575.5 466v4m0 1v1m0 1v8M576.5 465v7m0 2v7M577.5 465v4m0 1v3m0 1v7M578.5 464v7m0 1v1m0 1v7M579.5 464v1m0 1v6m0 1v3m0 1v4M580.5 466v5m0 4v1m0 1v4M581.5 466v4m0 2v3m0 1v5M582.5 466v5m0 1v9M583.5 436v1m0 1v2m0 2v2m0 1v1m0 3v1m0 16v8m0 2v5M584.5 468v4m0 2v1m0 2v5M585.5 467v4m0 4v1m0 1v5M586.5 467v4m0 2v1m0 1v1m0 1v5M587.5 466v7m0 4v5M588.5 468v6m0 1v2m0 1v4M589.5 468v3m0 2v1m0 1v2m0 1v4M590.5 467v4m0 2v1m0 1v1m0 2v4M591.5 414v2m0 1v1m0 50v6m0 1v2m0 1v4M592.5 467v5m0 6v4M593.5 468v4m0 1v3m0 2v4M594.5 470v3m0 1v2m0 1v6M595.5 469v4m0 2v1m0 2v5M596.5 469v3m0 1v1m0 1v9M597.5 470v3m0 1v3m0 1v6M598.5 470v6m0 1v7M599.5 469v4m0 1v3m0 1v1m0 1v4M600.5 471v3m0 1v1m0 2v6M601.5 470v3m0 1v4m0 1v5M602.5 470v3m0 1v2m0 4v4M603.5 472v1m0 1v2m0 1v1m0 1v5M604.5 472v4m0 2v1m0 1v4M605.5 402v1m0 37v1m0 2v1m0 4v1m0 1v1m0 2v2m0 17v3m0 1v1m0 3v5M606.5 440v1m0 2v1m0 5v1m0 23v4m0 3v5M607.5 419v4m0 49v7m0 2v5M608.5 418v3m0 1v1m0 50v3m0 2v2m0 2v4M609.5 421v9m0 44v3m0 1v4m0 1v3M610.5 473v3m0 1v3m0 2v5M611.5 474v7m0 1v5M612.5 423v1m0 2v2m0 8v1m0 37v5m0 1v1m0 2v4M613.5 475v3m0 1v2m0 3v3M614.5 475v4m0 1v1m0 2v4M615.5 475v4m0 1v2m0 2v4M616.5 475v3m0 1v1m0 1v2m0 1v4M617.5 474v3m0 1v1m0 1v1m0 1v1m0 1v4M618.5 475v2m0 2v1m0 1v2m0 1v4M619.5 474v3m0 2v1m0 1v1m0 1v5M620.5 475v2m0 1v3m0 2v5M621.5 475v3m0 1v1m0 1v1m0 1v5M622.5 476v2m0 1v2m0 2v5M623.5 476v2m0 4v2m0 2v2M624.5 475v3m0 1v2m0 3v4M625.5 476v1m0 4v8M626.5 476v1m0 5v7M627.5 475v2m0 6v6M628.5 462v2m0 3v1m0 3v2m0 3v2m0 4v1m0 1v5M629.5 477v1m0 3v8M630.5 477v4m0 2v1m0 1v4M631.5 477v4m0 3v5M632.5 477v3m0 1v2m0 2v4M633.5 476v2m0 1v1m0 1v2m0 3v4M634.5 476v2m0 8v4M635.5 475v3m0 3v1m0 3v5M636.5 484v7M637.5 483v8M638.5 484v7M639.5 484v7M640.5 485v6M641.5 485v6M642.5 484v7M643.5 485v6M644.5 485v6M645.5 485v6M646.5 485v7M647.5 485v7M648.5 484v8M649.5 486v6M650.5 486v6M651.5 484v8M652.5 486v6M653.5 486v6M654.5 488v5M655.5 487v6M656.5 487v6M657.5 487v6M658.5 487v6M659.5 487v6M660.5 487v6M661.5 485v8M662.5 488v5M663.5 488v5M664.5 487v6M665.5 488v6M666.5 489v5M667.5 487v7M668.5 485v9M669.5 489v5M670.5 488v6M671.5 489v5M672.5 388v3m0 1v1m0 3v1m0 45v1m0 6v1m0 2v1m0 36v5M673.5 487v7M674.5 489v6M675.5 423v1m0 2v1m0 4v1m0 58v5M676.5 489v6M677.5 488v7M678.5 489v6M679.5 414v2m0 1v1m0 1v1m0 1v5m0 1v1m0 62v5M680.5 485v11M681.5 484v5m0 1v5M682.5 484v11M683.5 484v11M684.5 485v10M685.5 485v10M686.5 486v9M687.5 485v5m0 1v3M688.5 484v4m0 1v1m0 1v4M689.5 484v12M690.5 484v12M691.5 484v12M692.5 480v1m0 1v8m0 1v5M693.5 483v13M694.5 441v1m0 1v1m0 39v13M695.5 484v12M696.5 484v4m0 1v7M697.5 431v3m0 1v2m0 1v7m0 37v14M698.5 481v8m0 1v6M699.5 482v6m0 2v1m0 1v4M700.5 482v9m0 1v3M701.5 466v8m0 8v5m0 2v1m0 2v3M702.5 466v8m0 8v5m0 1v2m0 1v4M703.5 482v5m0 1v7M704.5 481v7m0 1v6M705.5 481v7m0 1v6M706.5 480v8m0 1v5M707.5 479v10m0 1v4M708.5 480v6m0 1v6M709.5 481v12M710.5 480v13M711.5 480v8m0 1v4M712.5 479v8m0 1v4M713.5 479v7m0 1v5M714.5 479v4m0 2v7M715.5 441v2m0 35v13M716.5 478v8m0 1v4M717.5 478v12M718.5 477v3m0 1v4m0 1v4M719.5 477v8m0 1v3M720.5 476v13M721.5 476v13M722.5 476v3m0 1v1m0 1v6M723.5 474v14M724.5 473v1m0 1v8m0 1v3M725.5 475v2m0 1v3m0 1v5M726.5 474v3m0 1v8M727.5 474v3m0 1v1m0 1v1m0 1v4M728.5 473v4m0 1v2m0 1v4M729.5 473v4m0 1v1m0 1v5M730.5 471v6m0 2v6M731.5 470v1m0 1v5m0 1v2m0 1v3M732.5 470v14M733.5 471v7m0 1v4M734.5 471v11M735.5 452v1m0 18v10M736.5 439v3m0 3v1m0 1v1m0 22v11M737.5 421v1m0 17v1m0 15v1m0 3v1m0 10v10M738.5 441v3m0 11v1m0 2v2m0 9v10M739.5 469v9M740.5 469v9M741.5 454v19M742.5 411v2m0 3v2m0 2v1m0 33v19M743.5 454v19M744.5 453v4m0 1v15M745.5 452v1m0 18v2M746.5 357v1m0 2v17m0 3v1m0 74v18M747.5 455v19M748.5 455v6m0 1v2m0 1v9M749.5 452v1m0 2v19M750.5 454v1m0 1v6m0 1v12M751.5 456v19M752.5 455v16m0 1v3M753.5 456v19M754.5 452v1m0 2v20M755.5 456v4m0 1v14M756.5 453v1m0 2v5m0 1v4m0 1v8M757.5 457v7m0 1v10M758.5 457v7m0 1v3m0 2v6M759.5 458v8m0 1v1m0 1v7M760.5 402v4m0 53v5m0 2v1m0 4v5M761.5 457v1m0 1v7m0 1v10M762.5 460v5m0 1v2m0 1v1m0 1v6M763.5 460v4m0 1v2m0 2v9M764.5 461v3m0 1v13M765.5 462v2m0 1v2m0 1v1m0 2v8M766.5 462v7m0 1v4m0 1v5M767.5 463v4m0 1v1m0 2v1m0 1v1m0 1v6M768.5 463v5m0 1v4m0 1v8M769.5 464v7m0 3v2m0 1v6M770.5 465v7m0 4v1m0 1v6M771.5 464v6m0 2v2m0 1v1m0 1v7M772.5 465v5m0 2v1m0 1v2m0 1v7M773.5 466v7m0 1v1m0 1v1m0 1v6M774.5 466v6m0 2v11M775.5 466v13m0 1v5M776.5 416v1m0 35v1m0 13v6m0 1v1m0 1v1m0 1v8M777.5 467v5m0 4v9M778.5 467v5m0 1v1m0 1v2m0 3v5M779.5 468v4m0 2v2m0 1v1m0 1v6M780.5 468v7m0 1v2m0 2v5M781.5 468v4m0 1v5m0 2v5M782.5 468v5m0 1v4m0 1v5M783.5 469v3m0 1v1m0 1v1m0 1v1m0 1v6M784.5 468v8m0 1v1m0 1v7M785.5 469v11m0 1v2m0 1v2M786.5 470v7m0 1v8M787.5 470v5m0 3v1m0 1v6M788.5 470v4m0 1v1m0 2v8M789.5 471v4m0 1v1m0 2v7M790.5 468v1m0 2v3m0 1v5m0 1v6M791.5 471v3m0 1v2m0 1v1m0 1v7M792.5 470v4m0 2v2m0 2v1m0 1v5M793.5 470v5m0 4v2m0 1v5M794.5 471v4m0 1v4m0 2v5M795.5 471v7m0 2v7M796.5 471v5m0 1v3m0 2v5M797.5 471v7m0 1v2m0 1v5M798.5 471v4m0 1v1m0 2v3m0 1v2m0 1v1M799.5 471v6m0 2v1m0 3v4M800.5 473v3m0 1v2m0 4v5M801.5 473v3m0 2v1m0 1v1m0 1v6M802.5 469v1m0 3v3m0 1v1m0 1v1m0 1v2m0 1v4M803.5 473v4m0 3v1m0 3v4M804.5 472v4m0 3v2m0 1v7M805.5 473v3m0 1v1m0 4v7M806.5 473v3m0 2v1m0 1v2m0 1v5M807.5 473v4m0 1v3m0 1v1m0 1v4M808.5 474v4m0 2v1m0 1v6M809.5 475v4m0 1v8M810.5 474v3m0 4v1m0 1v6M811.5 475v2m0 1v1m0 2v1m0 3v4M812.5 474v5m0 2v2m0 1v5M813.5 475v3m0 2v1m0 1v1m0 2v4M814.5 475v3m0 1v2m0 1v1m0 2v4M815.5 475v3m0 4v7M816.5 475v4m0 2v4m0 1v3M817.5 476v5m0 1v3m0 1v3M818.5 476v2m0 4v1m0 1v1m0 1v3M819.5 476v2m0 2v1m0 3v5M820.5 476v2m0 2v1m0 4v4M821.5 476v2m0 1v4m0 2v4M822.5 476v3m0 1v3m0 1v6M823.5 477v2m0 1v1m0 2v7M824.5 476v4m0 4v1m0 1v4M825.5 473v1m0 3v4m0 1v1m0 1v1m0 1v4M826.5 478v1m0 1v1m0 2v1m0 2v4M827.5 478v1m0 2v3m0 2v5M828.5 477v2m0 1v1m0 3v1m0 1v5M829.5 478v1m0 1v1m0 1v2m0 1v6M830.5 478v1m0 1v1m0 1v2m0 1v6M831.5 477v2m0 2v3m0 2v5M832.5 421v3m0 1v1m0 2v1m0 2v3m0 1v4m0 2v1m0 34v4m0 2v1m0 2v1m0 1v4M833.5 477v4m0 1v2m0 1v1m0 1v4M834.5 476v5m0 3v7M835.5 474v1m0 3v2m0 1v10M836.5 477v3m0 1v1m0 1v3m0 1v4M837.5 478v3m0 7v3M838.5 479v1m0 1v1m0 1v2m0 3v3M839.5 479v1m0 6v1m0 1v3M840.5 477v3m0 1v1m0 2v1m0 1v1m0 1v3M841.5 478v2m0 4v1m0 2v5M842.5 479v2m0 1v1m0 4v5M843.5 479v5m0 1v1m0 2v4M844.5 478v4m0 2v1m0 3v4M845.5 478v2m0 1v2m0 5v4M846.5 478v2m0 1v1m0 2v2m0 2v4M847.5 478v2m0 1v2m0 5v4M848.5 478v3m0 3v1m0 1v6M849.5 479v2m0 1v1m0 1v8M850.5 480v4m0 1v1m0 1v5M851.5 487v6M852.5 487v6M853.5 485v8M854.5 487v6M855.5 487v6M856.5 487v6M857.5 486v7M858.5 487v7M859.5 487v7M860.5 487v7M861.5 487v7M862.5 488v6M863.5 488v6M864.5 486v7M865.5 488v5M866.5 487v7M867.5 487v7M868.5 485v9M869.5 487v6M870.5 487v6M871.5 480v2m0 3v1m0 1v1m0 1v3M872.5 481v11M873.5 481v3m0 1v1m0 1v1m0 1v3M874.5 480v5m0 1v1m0 2v3M875.5 481v6m0 1v4M876.5 481v3m0 1v1m0 1v5M877.5 481v4m0 4v3M878.5 481v4m0 1v1m0 1v4M879.5 479v6m0 2v1m0 1v3M880.5 478v1m0 1v5m0 1v2m0 1v3M881.5 445v1m0 1v3m0 30v5m0 1v2m0 1v3M882.5 479v8m0 2v3M883.5 480v4m0 1v7M884.5 479v4m0 3v6M885.5 442v17m0 22v2m0 2v7M886.5 442v17m0 21v4m0 1v7M887.5 475v4m0 2v5M888.5 475v5m0 1v6M889.5 475v5m0 1v1m0 1v3M890.5 475v5m0 1v5M891.5 475v4m0 2v5M892.5 475v4m0 1v6M893.5 474v3m0 1v8M894.5 473v13M895.5 474v5m0 2v5M896.5 475v11M897.5 475v7m0 1v3M898.5 475v7m0 1v3M899.5 475v5m0 1v1m0 1v3M900.5 474v7m0 2v3M901.5 475v11M902.5 475v4m0 1v6M903.5 471v1m0 3v5m0 1v5M904.5 476v5m0 1v4M905.5 475v3m0 1v7M906.5 476v10M907.5 435v1m0 10v1m0 27v12M908.5 474v5m0 2v5M909.5 475v4m0 1v5M910.5 474v7m0 1v3M911.5 475v10M912.5 475v10M913.5 476v9M914.5 475v10M915.5 474v10M916.5 474v2m0 1v1m0 1v5M917.5 473v5m0 1v1m0 1v3M918.5 473v5m0 2v4M919.5 472v8m0 1v3M920.5 472v6m0 3v3M921.5 472v7m0 1v4M922.5 470v14M923.5 470v4m0 2v1m0 3v3M924.5 470v4m0 5v4M925.5 470v5m0 1v7M926.5 470v4m0 1v7M927.5 469v10M928.5 468v5m0 1v2m0 1v5M929.5 468v5m0 2v1m0 1v4M930.5 469v6m0 2v4M931.5 468v4m0 1v1m0 1v1m0 1v4M932.5 468v4m0 1v8M933.5 468v3m0 3v2m0 1v4M934.5 467v8m0 1v5M935.5 467v8m0 1v5M936.5 394v12m0 3v2m0 8v3m0 24v1m0 20v4m0 2v3m0 1v4M937.5 467v5m0 1v8M938.5 467v4m0 2v1m0 2v4M939.5 466v9m0 1v4M940.5 466v4m0 2v8M941.5 465v5m0 2v2m0 2v5M942.5 466v4m0 3v3m0 1v4M943.5 466v9m0 2v4M944.5 467v3m0 2v1m0 2v6M945.5 465v6m0 4v6M946.5 465v4m0 3v1m0 2v6M947.5 465v6m0 2v1m0 1v5M948.5 465v4m0 1v2m0 1v1m0 2v4M949.5 465v6m0 1v2m0 2v4M950.5 465v5m0 2v1m0 3v4M951.5 442v2m0 2v24m0 3v6M952.5 465v5m0 2v1m0 1v5M953.5 464v7m0 1v7M954.5 464v5m0 1v1m0 1v8M955.5 464v6m0 1v1m0 4v2m0 1v1M956.5 465v4m0 3v2m0 1v5M957.5 465v9m0 2v4M958.5 463v1m0 1v7m0 1v1m0 1v5M959.5 465v4m0 2v3m0 1v5M960.5 466v6m0 1v7M961.5 466v5m0 1v2m0 2v4M962.5 467v4m0 3v6M963.5 446v26m0 3v1m0 1v4M964.5 466v5m0 2v2m0 2v4M965.5 466v6m0 1v8M966.5 466v4m0 1v2m0 2v6M967.5 467v3m0 1v2m0 4v4M968.5 467v7m0 2v5M969.5 467v5m0 1v6m0 1v1M970.5 467v3m0 1v2m0 4v4M971.5 467v3m0 2v1m0 2v1m0 1v4M972.5 467v3m0 3v1m0 3v5M973.5 466v6m0 1v1m0 1v1m0 1v4M974.5 468v3m0 2v3m0 1v4M975.5 467v4m0 1v1m0 1v1m0 3v3M976.5 414v1m0 52v6m0 1v1m0 1v5M977.5 468v4m0 2v1m0 3v3M978.5 468v3m0 1v1m0 3v1m0 1v4M979.5 467v6m0 1v1m0 2v5M980.5 468v4m0 5v5M981.5 468v5m0 6v4M982.5 469v4m0 6v4M983.5 468v4m0 5v6M984.5 470v4m0 3v6M985.5 470v3m0 3v2m0 1v5M986.5 470v4m0 1v2m0 3v4M987.5 471v3m0 6v4M988.5 471v2m0 2v1m0 3v5M989.5 442v14m0 16v2m0 1v1m0 2v1m0 1v4M990.5 473v2m0 3v1m0 2v3M991.5 473v2m0 6v3M992.5 473v4m0 1v1m0 1v5M993.5 473v2m0 3v1m0 2v4M994.5 473v2m0 2v1m0 2v1m0 1v3M995.5 473v2m0 3v3m0 1v3M996.5 473v4m0 5v4M997.5 474v2m0 1v1m0 1v2m0 1v4M998.5 474v3m0 3v1m0 2v3M999.5 473v3m0 5v1m0 1v3M1000.5 473v3m0 1v1m0 5v4M1001.5 473v3m0 4v2m0 1v4M1002.5 474v3m0 6v4M1003.5 475v2m0 4v1m0 1v4M1004.5 475v2m0 3v1m0 2v4M1005.5 475v2m0 7v3M1006.5 475v4m0 1v2m0 2v3M1007.5 476v4m0 3v5M1008.5 476v2m0 3v2m0 1v4M1009.5 475v3m0 4v6M1010.5 192v1m0 6v5m0 1v1m0 1v4m0 2v2m0 2v14m0 7v1m0 6v1m0 133v1m0 74v1m0 21v2m0 2v1m0 4v3M1011.5 475v3m0 5v1m0 1v3M1012.5 476v2m0 4v2m0 1v3M1013.5 477v1m0 7v3M1014.5 477v2m0 4v1m0 1v4M1015.5 477v3m0 5v4M1016.5 477v2m0 7v3M1017.5 478v1m0 7v3M1018.5 422v1m0 20v1m0 15v1m0 5v1m0 12v1m0 7v3M1019.5 478v1m0 7v3M1020.5 478v2m0 2v1m0 3v3M1021.5 487v5M1022.5 487v5M1023.5 486v6M1024.5 486v6M1025.5 487v5M1026.5 487v5M1027.5 487v5M1028.5 486v6M1029.5 487v5M1030.5 487v5M1031.5 486v6M1032.5 486v6M1033.5 487v5M1034.5 487v5M1035.5 487v5M1036.5 484v8M1037.5 487v5M1038.5 486v6M1039.5 487v5M1040.5 487v5M1041.5 487v2m0 1v2M1042.5 486v1m0 1v4M1043.5 486v6M1044.5 486v6M1045.5 487v5M1046.5 487v5M1047.5 486v7M1048.5 487v6M1049.5 487v6M1050.5 486v7M1051.5 487v6M1052.5 486v6M1053.5 484v8M1054.5 486v6M1055.5 486v6M1056.5 486v6M1057.5 485v7M1058.5 484v8M1059.5 486v6M1060.5 486v6M1061.5 485v7M1062.5 437v1m0 11v1m0 1v1m0 2v2m0 1v1m0 1v1m0 26v6M1063.5 486v6M1064.5 483v9M1065.5 486v6m0 14v14M1066.5 486v6M1067.5 487v5M1068.5 486v6M1073.5 484v8M1074.5 457v13m0 16v6M1075.5 457v13m0 11v5m0 1v5M1076.5 480v4m0 1v7M1077.5 480v12M1078.5 480v4m0 1v7M1079.5 480v4m0 1v7M1080.5 476v1m0 3v3m0 1v6M1081.5 480v3m0 1v7M1082.5 453v3m0 7v1m0 3v3m0 9v12M1083.5 479v13M1084.5 478v7m0 1v6M1085.5 479v8m0 1v4M1086.5 480v7m0 1v4M1087.5 479v13M1088.5 480v3m0 1v8M1089.5 480v11M1090.5 479v4m0 1v7M1091.5 480v11M1092.5 479v7m0 1v4M1093.5 480v4m0 1v6M1094.5 479v12M1095.5 479v12M1096.5 479v12M1097.5 478v13M1098.5 478v13M1099.5 479v11M1100.5 479v6m0 1v4M1101.5 479v6m0 1v4M1102.5 477v5m0 1v1m0 1v5M1103.5 478v11M1104.5 476v11m0 1v1M1105.5 476v7m0 1v5M1106.5 476v13M1107.5 475v13M1108.5 476v8m0 1v3M1109.5 475v13M1110.5 473v5m0 1v4m0 1v4M1111.5 474v6m0 1v2m0 1v4M1112.5 474v6m0 1v7M1113.5 474v4m0 3v2m0 1v4M1114.5 473v9m0 2v3M1115.5 473v4m0 1v1m0 1v7M1116.5 472v5m0 1v9M1117.5 472v4m0 1v1m0 1v7M1118.5 471v7m0 1v2m0 1v4M1119.5 471v9m0 1v4M1120.5 471v4m0 1v3m0 1v5M1121.5 471v6m0 2v6M1122.5 470v8m0 1v6M1123.5 469v8m0 2v5M1124.5 471v13M1125.5 469v4m0 1v1m0 1v8M1126.5 468v6m0 1v3m0 1v5M1127.5 470v5m0 1v7M1128.5 469v4m0 2v8M1129.5 469v4m0 1v1m0 1v1m0 1v5M1130.5 469v4m0 5v5M1131.5 469v5m0 1v1m0 3v4M1132.5 469v9m0 1v4M1133.5 467v1m0 1v7m0 2v5M1134.5 468v4m0 1v5m0 1v4M1135.5 468v5m0 3v1m0 1v4M1136.5 468v8m0 1v5M1137.5 427v1m0 40v4m0 1v4m0 1v4M1138.5 468v4m0 2v1m0 3v4M1139.5 469v3m0 2v1m0 1v6M1140.5 382v7m0 5v8m0 4v1m0 2v1m0 1v1m0 1v1m0 55v3m0 5v5M1141.5 382v7m0 79v8m0 1v5M1142.5 467v7m0 2v1m0 1v4M1143.5 468v6m0 1v7M1144.5 468v5m0 1v8M1145.5 467v5m0 1v3m0 1v5M1146.5 467v4m0 3v8M1147.5 467v3m0 4v1m0 1v1m0 1v4M1148.5 466v5m0 3v2m0 1v5M1149.5 410v7m0 50v6m0 1v2m0 1v5M1150.5 466v6m0 2v2m0 1v5M1151.5 467v5m0 1v3m0 2v4M1152.5 468v3m0 6v5M1153.5 467v5m0 3v1m0 2v4M1154.5 467v15M1155.5 468v5m0 2v7M1156.5 468v4m0 3v2m0 1v4M1157.5 468v3m0 2v4m0 1v4M1158.5 469v2m0 2v2m0 2v5M1159.5 467v4m0 1v1m0 2v7M1160.5 468v5m0 2v1m0 2v4M1161.5 467v6m0 1v2m0 2v4M1162.5 468v7m0 1v6M1163.5 466v1m0 1v4m0 1v1m0 1v2m0 1v4M1164.5 468v4m0 2v1m0 2v5M1165.5 468v3m0 3v1m0 1v1m0 2v3M1166.5 469v4m0 1v1m0 1v1m0 2v3M1167.5 469v4m0 4v6M1168.5 469v3m0 3v2m0 1v5M1169.5 468v4m0 1v1m0 1v1m0 3v4M1170.5 470v2m0 1v1m0 3v6M1171.5 469v3m0 5v6M1172.5 468v5m0 5v5M1173.5 469v4m0 4v6M1174.5 470v4m0 1v8M1175.5 471v4m0 2v6M1176.5 470v7m0 1v5M1177.5 471v3m0 4v1m0 1v3M1178.5 471v3m0 4v5M1179.5 471v3m0 2v3m0 1v3M1180.5 467v1m0 2v4m0 1v1m0 4v4M1181.5 472v2m0 4v1m0 1v4M1182.5 472v2m0 3v7M1183.5 471v4m0 6v4M1184.5 471v4m0 6v4M1185.5 472v3m0 4v1m0 1v4M1186.5 473v3m0 5v4M1187.5 473v3m0 1v1m0 2v1m0 1v3M1188.5 473v6m0 2v4M1189.5 473v3m0 1v2m0 3v4M1190.5 461v1m0 2v1m0 3v2m0 3v3m0 3v1m0 3v3M1191.5 473v4m0 3v1m0 2v3M1192.5 473v3m0 7v4M1193.5 474v2m0 1v1m0 3v1m0 1v4M1194.5 475v4m0 4v4M1195.5 468v1m0 3v2m0 1v2m0 5v5M1196.5 475v4m0 5v3M1197.5 474v3m0 1v3m0 1v1m0 1v3M1198.5 475v2m0 1v1m0 3v1m0 1v3M1199.5 475v4m0 4v4M1200.5 476v2m0 2v1m0 2v5M1201.5 475v5m0 4v4M1202.5 401v1m0 29v13m0 3v2m0 1v3m0 23v2m0 1v1m0 2v1m0 1v4M1203.5 477v1m0 1v3m0 2v4M1204.5 477v1m0 2v2m0 2v4M1205.5 477v1m0 1v1m0 4v4M1206.5 476v2m0 1v1m0 2v6M1207.5 476v3m0 1v1m0 1v1m0 2v3M1208.5 478v1m0 6v3M1209.5 478v3m0 1v1m0 1v4M1210.5 479v2m0 2v1m0 1v3M1211.5 478v3m0 1v1m0 1v1m0 1v2M1212.5 480v2m0 4v2M1213.5 478v3m0 4v3M1214.5 478v4m0 3v3M1215.5 480v1m0 2v1m0 2v2M1216.5 479v4m0 3v2M1217.5 479v2m0 1v1m0 3v2M1218.5 480v1m0 1v1m0 1v5M1219.5 480v2m0 3v1m0 1v2M1220.5 481v1m0 1v2m0 2v2M1221.5 481v1m0 1v2m0 2v2M1222.5 479v3m0 2v2m0 1v2M1223.5 481v1m0 5v2M1224.5 478v1m0 3v7M1225.5 482v1m0 1v1m0 1v3M1226.5 481v8M1227.5 484v8M1228.5 486v6M1229.5 431v3m0 1v4m0 1v3m0 1v8m0 34v6M1230.5 485v7M1231.5 434v2m0 1v2m0 1v2m0 1v1m0 1v2m0 1v6m0 3v2m0 1v2m0 1v1m0 1v2m0 1v1m0 17v6M1232.5 484v8M1233.5 486v6M1234.5 486v6M1235.5 486v6M1236.5 486v6M1237.5 486v6M1238.5 484v8M1239.5 485v7M1240.5 486v6M1241.5 486v6M1242.5 486v6M1243.5 486v6M1244.5 467v3m0 2v2m0 13v5M1245.5 486v7M1246.5 486v7M1247.5 486v7M1248.5 484v9M1249.5 441v6m0 4v1m0 32v9M1250.5 486v7M1251.5 484v9M1252.5 487v7M1253.5 486v7M1254.5 486v7"/>
<path stroke="#0080ff" d="M105.5 537v4M106.5 535v5M107.5 536v5M108.5 537v3M109.5 537v3M110.5 536v5M111.5 537v3M112.5 537v3M113.5 537v3M114.5 537v3M115.5 537v4M116.5 537v3M117.5 537v3M118.5 537v3M119.5 537v3M120.5 537v3M121.5 537v3M122.5 537v4M123.5 537v3M124.5 537v3M125.5 537v3M126.5 536v3M127.5 536v3M128.5 537v3M129.5 537v3M130.5 537v4M131.5 537v4M132.5 536v6M133.5 535v1m0 1v4M134.5 537v3M135.5 537v4M136.5 537v4M137.5 537v4M138.5 537v6M139.5 536v4M140.5 537v4M141.5 537v3M142.5 537v3M143.5 537v4M144.5 537v3M145.5 536v4M146.5 537v4M147.5 536v4M148.5 537v3M149.5 537v3M150.5 537v6M151.5 537v6M152.5 537v6M153.5 536v4M154.5 537v4M155.5 537v3M156.5 537v3M157.5 537v3M158.5 536v4M159.5 537v3M160.5 537v2M161.5 537v3M162.5 536v4M163.5 537v3M164.5 536v5M165.5 535v5M166.5 534v1m0 2v3M167.5 534v1m0 2v7M168.5 537v6M169.5 536v7M170.5 537v3M171.5 537v4M172.5 536v4M173.5 537v7M174.5 537v3M175.5 537v4M176.5 537v3M177.5 536v4M178.5 537v6M179.5 537v3m0 2v1M180.5 534v1m0 2v3M181.5 537v3M182.5 537v3M183.5 537v4M184.5 537v6M185.5 537v3M186.5 537v3M187.5 537v3m0 2v1M188.5 537v3M189.5 537v4M190.5 536v4M191.5 537v4M192.5 537v3M193.5 537v3M194.5 537v3M195.5 537v4M196.5 537v5M197.5 536v4M198.5 536v5M199.5 537v3M200.5 537v3M201.5 537v3M202.5 536v8M203.5 537v7M204.5 537v6M205.5 537v4M206.5 537v3M207.5 536v4M208.5 536v5M209.5 537v3M210.5 537v3M211.5 536v4M212.5 537v3M213.5 537v5M214.5 537v6M215.5 536v5M216.5 537v3M217.5 536v4m0 3v1M218.5 536v4M219.5 536v5m0 1v1M220.5 537v7M221.5 537v7M222.5 537v6M223.5 537v3M224.5 537v4M225.5 537v3M226.5 537v3M227.5 538v3M228.5 538v3M229.5 537v4M230.5 538v4M231.5 536v6M232.5 537v3M233.5 537v3M234.5 537v3M235.5 537v3M236.5 536v5M237.5 537v4M238.5 537v3M239.5 535v1m0 1v3M240.5 537v3M241.5 535v5M242.5 537v4M243.5 536v5M244.5 537v4M245.5 537v3M246.5 537v4M247.5 537v4M248.5 537v3M249.5 537v3M250.5 537v3M251.5 537v4M252.5 536v4M253.5 537v3M254.5 536v5M255.5 537v3M256.5 537v3M257.5 536v3M258.5 536v4M259.5 536v4M260.5 536v4M261.5 537v3M262.5 537v3M263.5 537v4M264.5 537v7M265.5 534v1m0 1v7M266.5 537v6M267.5 537v4M268.5 537v3M269.5 536v4M270.5 537v3M271.5 536v4M272.5 536v8M273.5 537v6M274.5 537v3M275.5 537v2M276.5 536v4M277.5 536v4M278.5 537v6M279.5 537v3M280.5 537v3M281.5 537v3M282.5 537v3M283.5 537v2M284.5 536v5M285.5 537v3M286.5 535v1m0 1v4M287.5 537v5M288.5 537v4M289.5 537v3M290.5 537v3M291.5 536v4M292.5 537v5M293.5 537v4M294.5 537v3M295.5 535v1m0 1v3M296.5 536v4M297.5 537v4M298.5 537v3M299.5 537v3M300.5 537v3M301.5 536v6M302.5 537v6M303.5 537v5M304.5 537v4M305.5 536v3m0 1v1M306.5 536v3m0 1v1M307.5 536v4M308.5 535v1m0 1v4M309.5 537v3M310.5 536v4M311.5 535v1m0 1v6M312.5 536v6M313.5 536v4M314.5 537v1m0 1v1m0 3v1M315.5 537v3M316.5 536v4M317.5 537v3M318.5 537v4M319.5 535v5M320.5 537v3M321.5 537v3M322.5 537v3M323.5 536v4M324.5 537v3m0 2v1M325.5 537v3M326.5 535v1m0 1v3M327.5 537v3M328.5 537v3M329.5 537v3M330.5 537v3M331.5 536v4M332.5 537v3M333.5 537v3m0 2v1M334.5 537v3M335.5 536v4M336.5 537v3M337.5 536v5M338.5 537v4M339.5 537v3M340.5 536v4M341.5 535v1m0 1v3M342.5 536v4M343.5 537v3M344.5 537v4M345.5 537v4M346.5 537v3M347.5 537v4M348.5 537v3m0 1v1M349.5 536v5M350.5 536v4M351.5 537v3M352.5 537v3M353.5 536v5M354.5 537v3M355.5 536v4M356.5 537v4M357.5 537v3m0 2v1M358.5 537v4M359.5 537v1m0 1v1M360.5 537v4M361.5 537v3M362.5 537v3M363.5 536v5M364.5 537v4M365.5 536v4M366.5 537v3M367.5 536v5M368.5 536v4M369.5 537v4M370.5 536v4M371.5 537v4M372.5 537v3M373.5 537v3M374.5 536v6M375.5 537v3M376.5 537v3M377.5 536v4M378.5 536v4M379.5 534v1m0 2v3M380.5 536v4M381.5 536v4M382.5 537v4M383.5 537v3m0 1v1M384.5 537v3M385.5 537v3M386.5 537v3M387.5 537v4m0 1v1M388.5 537v3M389.5 537v3m0 3v1M390.5 537v3M391.5 537v4M392.5 537v4M393.5 536v4M394.5 536v4M395.5 536v4M396.5 534v1m0 1v4M397.5 537v3M398.5 537v3M399.5 536v6M400.5 537v3M401.5 535v1m0 1v3M402.5 538v3M403.5 537v3M404.5 536v4M405.5 534v1m0 2v3M406.5 536v5M407.5 537v3M408.5 535v1m0 1v3M409.5 537v3M410.5 537v3M411.5 536v4M412.5 534v1m0 2v4M413.5 536v1m0 1v3M414.5 537v3M415.5 537v3M416.5 537v4M417.5 536v4M418.5 536v2m0 1v1M419.5 537v3M420.5 537v5M421.5 536v5M422.5 537v4M423.5 535v1m0 1v3M424.5 537v3M425.5 536v4M426.5 536v5M427.5 537v4m0 1v1M428.5 538v2M429.5 537v3M430.5 536v4M431.5 537v4M432.5 537v3M433.5 537v4M434.5 537v3M435.5 537v3M436.5 537v3M437.5 538v3M438.5 538v3M439.5 538v3M440.5 538v4M441.5 537v4m0 3v1M442.5 537v4M443.5 536v5M444.5 537v4M445.5 536v5M446.5 537v3M447.5 537v3M448.5 537v3m0 2v1M449.5 537v4M450.5 537v3M451.5 537v3M452.5 536v5M453.5 537v4M454.5 536v4m0 3v1M455.5 537v3m0 1v1M456.5 537v3M457.5 537v3M458.5 537v3m0 1v1M459.5 537v3m0 3v1M460.5 536v4M461.5 536v4M462.5 537v3M463.5 537v3M464.5 536v4M465.5 537v4M466.5 537v3M467.5 536v4M468.5 537v3M469.5 536v5M470.5 537v4M471.5 537v3M472.5 537v3M473.5 537v3M474.5 537v3M475.5 537v3M476.5 537v3M477.5 536v4M478.5 537v3M479.5 537v3M480.5 537v3M481.5 535v1m0 1v1m0 1v1M482.5 537v4M483.5 537v3M484.5 537v3M485.5 537v5M486.5 537v5M487.5 537v5M488.5 537v4M489.5 535v6M490.5 537v3M491.5 537v3M492.5 535v1m0 1v3M493.5 537v5M494.5 537v6M495.5 535v1m0 1v3M496.5 537v3M497.5 537v3M498.5 537v4M499.5 537v3M500.5 536v4M501.5 537v4M502.5 537v4M503.5 537v3M504.5 537v4m0 2v1M505.5 537v4M506.5 537v6M507.5 538v3M508.5 538v4M509.5 538v3M510.5 538v3M511.5 537v4M512.5 537v3M513.5 537v3M514.5 537v3M515.5 537v3M516.5 536v5m0 1v1M517.5 537v4m0 2v1M518.5 537v3M519.5 536v4M520.5 536v3M521.5 536v4M522.5 535v5M523.5 535v4M524.5 537v4M525.5 537v3M526.5 537v3M527.5 537v3M528.5 536v4M529.5 537v3M530.5 534v1m0 1v4M531.5 534v1m0 2v3M532.5 537v3M533.5 537v4M534.5 537v3m0 1v1M535.5 536v4M536.5 536v4m0 3v1M537.5 537v4M538.5 537v3M539.5 535v6M540.5 537v4M541.5 536v4M542.5 537v3M543.5 536v4M544.5 537v3M545.5 537v3M546.5 537v3M547.5 537v5M548.5 537v5M549.5 537v3M550.5 536v4M551.5 536v4M552.5 535v1m0 1v3M553.5 537v3M554.5 535v1m0 1v3M555.5 537v2m0 1v1M556.5 536v5M557.5 537v3M558.5 537v4M559.5 537v4M560.5 536v1m0 1v3M561.5 537v4M562.5 535v5M563.5 537v3M564.5 537v3M565.5 537v3M566.5 536v4M567.5 535v1m0 1v4M568.5 537v3M569.5 536v4m0 1v1M570.5 537v3M571.5 534v1m0 2v3M572.5 535v1m0 1v4M573.5 537v3m0 2v1M574.5 536v4M575.5 536v4M576.5 535v4M577.5 536v3M578.5 537v4M579.5 537v3M580.5 536v4M581.5 537v1m0 1v1M582.5 537v3M583.5 537v3M584.5 536v5M585.5 536v4m0 1v1M586.5 537v3M587.5 537v3M588.5 537v3M589.5 536v6M590.5 537v5M591.5 536v3M592.5 536v3m0 3v1M593.5 536v4M594.5 536v4m0 2v1M595.5 536v3M596.5 536v3M597.5 535v5M598.5 537v3M599.5 537v4M600.5 534v1m0 2v4M601.5 537v4M602.5 536v4M603.5 536v4M604.5 536v3M605.5 536v4M606.5 536v4M607.5 536v3M608.5 535v4M609.5 535v5M610.5 537v4M611.5 537v4M612.5 537v3M613.5 537v3M614.5 536v4M615.5 537v3M616.5 537v4M617.5 537v3M618.5 536v4M619.5 537v4M620.5 537v4M621.5 537v4M622.5 537v4m0 2v1M623.5 537v3M624.5 537v4M625.5 534v1m0 2v4M626.5 536v4M627.5 537v3M628.5 537v3M629.5 537v3M630.5 537v3M631.5 537v3M632.5 537v3M633.5 537v3M634.5 537v4M635.5 535v5M636.5 537v5M637.5 537v3m0 3v1M638.5 537v3M639.5 537v3M640.5 537v3M641.5 536v4M642.5 536v5M643.5 537v4M644.5 536v4M645.5 536v5M646.5 537v3M647.5 537v3M648.5 537v3M649.5 537v4M650.5 536v7M651.5 537v4M652.5 536v4M653.5 535v1m0 1v3M654.5 537v4M655.5 536v6M656.5 537v3M657.5 538v2M658.5 537v3m0 2v1M659.5 537v3M660.5 537v4M661.5 537v4M662.5 535v1m0 1v4M663.5 537v4M664.5 536v2m0 1v1M665.5 537v3M666.5 537v1m0 1v2M667.5 537v3M668.5 535v1m0 1v3M669.5 536v4M670.5 536v4M671.5 537v4M672.5 537v4M673.5 537v4M674.5 537v3M675.5 537v3M676.5 537v3M677.5 537v3M678.5 537v4M679.5 537v4M680.5 536v4M681.5 537v4M682.5 537v4M683.5 537v3M684.5 536v4M685.5 536v4M686.5 536v4M687.5 536v5M688.5 536v6M689.5 537v4M690.5 537v3M691.5 537v3M692.5 536v5M693.5 537v4M694.5 536v4M695.5 536v5M696.5 536v3M697.5 537v3m0 2v1M698.5 537v3M699.5 537v3M700.5 537v3M701.5 535v1m0 1v3M702.5 537v3m0 2v1M703.5 537v4M704.5 537v3M705.5 537v3M706.5 536v4M707.5 536v4M708.5 537v3m0 3v1M709.5 534v1m0 2v3M710.5 536v5M711.5 537v4M712.5 537v3M713.5 537v3M714.5 537v3M715.5 538v3M716.5 537v4M717.5 538v3M718.5 537v5M719.5 538v3M720.5 537v4M721.5 538v3M722.5 537v3M723.5 537v2M724.5 538v2m0 1v1M725.5 537v3M726.5 538v2M727.5 536v4M728.5 536v4M729.5 537v3M730.5 538v3M731.5 537v4M732.5 535v1m0 2v4M733.5 538v3M734.5 537v3M735.5 537v3M736.5 535v1m0 1v3M737.5 537v3M738.5 536v3M739.5 536v4M740.5 536v3M741.5 537v3M742.5 537v4M743.5 536v5M744.5 537v3M745.5 537v3M746.5 537v4M747.5 537v4m0 2v1M748.5 537v5M749.5 534v1m0 2v3M750.5 536v4M751.5 537v3M752.5 537v3M753.5 537v3M754.5 537v5M755.5 535v1m0 1v4M756.5 536v4M757.5 537v5M758.5 537v3M759.5 534v1m0 2v3M760.5 537v3M761.5 537v6M762.5 536v4M763.5 537v3M764.5 536v5M765.5 536v4M766.5 537v3M767.5 535v1m0 1v3M768.5 536v4M769.5 537v3M770.5 536v5M771.5 536v4M772.5 537v4M773.5 537v3m0 3v1M774.5 537v4M775.5 537v3M776.5 536v4M777.5 537v3M778.5 534v1m0 1v5M779.5 537v3M780.5 537v3M781.5 537v4M782.5 537v4M783.5 537v4M784.5 538v2M785.5 537v4M786.5 538v3M787.5 538v3M788.5 538v4M789.5 538v4M790.5 537v4M791.5 537v4M792.5 536v4M793.5 537v3M794.5 537v3M795.5 535v1m0 1v3M796.5 537v3M797.5 537v6M798.5 537v4M799.5 537v3M800.5 536v5M801.5 537v3M802.5 536v4M803.5 537v4M804.5 536v4M805.5 537v4M806.5 537v3M807.5 538v4M808.5 538v3M809.5 538v3M810.5 537v7M811.5 538v4M812.5 534v1m0 2v1m0 1v4M813.5 537v3M814.5 537v3M815.5 537v3M816.5 537v4M817.5 535v1m0 1v4M818.5 537v3M819.5 537v4M820.5 537v3M821.5 536v4M822.5 536v6M823.5 537v5M824.5 537v4M825.5 536v2m0 1v1M826.5 537v3M827.5 536v4M828.5 537v4M829.5 537v3M830.5 537v3M831.5 537v3M832.5 537v3M833.5 538v3M834.5 538v3M835.5 538v3M836.5 537v4M837.5 534v1m0 2v1m0 1v2M838.5 537v3M839.5 537v3M840.5 537v3M841.5 537v3M842.5 536v4M843.5 537v3M844.5 537v4M845.5 536v5M846.5 536v4M847.5 537v4M848.5 537v4M849.5 537v4M850.5 536v5M851.5 537v3M852.5 536v4M853.5 537v4M854.5 536v2m0 1v2M855.5 537v3M856.5 537v3M857.5 535v1m0 1v3M858.5 537v4M859.5 537v3M860.5 537v3M861.5 537v3M862.5 537v3M863.5 537v5M864.5 536v5M865.5 537v4M866.5 536v4M867.5 537v5M868.5 537v4M869.5 534v1m0 2v3M870.5 535v1m0 1v4M871.5 536v4M872.5 537v3M873.5 537v3M874.5 537v3M875.5 537v3M876.5 537v3M877.5 537v6M878.5 537v7M879.5 537v3M880.5 537v3M881.5 536v4M882.5 537v5M883.5 537v3M884.5 537v3M885.5 536v4M886.5 536v4M887.5 537v3M888.5 534v1m0 2v3M889.5 537v4M890.5 537v3M891.5 537v3m0 3v1M892.5 537v3M893.5 534v1m0 2v4M894.5 537v3M895.5 537v3M896.5 537v3m0 1v1M897.5 537v2m0 4v1M898.5 537v3M899.5 536v4M900.5 537v5M901.5 536v4M902.5 537v4M903.5 537v4M904.5 537v4M905.5 537v3M906.5 537v3M907.5 536v5M908.5 537v3M909.5 537v3M910.5 537v3M911.5 537v3m0 3v1M912.5 537v3M913.5 536v4M914.5 536v4M915.5 537v3M916.5 536v4M917.5 536v3M918.5 536v3M919.5 536v4M920.5 537v3M921.5 534v1m0 1v4M922.5 536v4M923.5 537v5M924.5 537v5M925.5 537v6M926.5 537v3M927.5 537v3M928.5 535v1m0 1v3M929.5 536v4M930.5 537v3M931.5 537v3M932.5 536v4M933.5 537v3M934.5 537v3M935.5 537v3M936.5 537v3M937.5 536v4M938.5 537v3M939.5 537v2M940.5 537v3M941.5 537v3M942.5 537v3M943.5 537v4M944.5 537v3M945.5 537v3M946.5 536v5M947.5 537v5M948.5 537v4M949.5 537v3M950.5 537v3M951.5 537v4M952.5 537v5M953.5 534v1m0 2v4M954.5 537v3M955.5 537v3M956.5 537v3M957.5 537v4M958.5 537v5M959.5 537v6M960.5 538v3M961.5 537v4M962.5 537v3M963.5 536v4M964.5 537v4M965.5 537v3M966.5 537v4M967.5 537v1m0 1v1M968.5 536v5M969.5 535v1m0 1v4M970.5 537v3M971.5 535v1m0 1v3M972.5 537v3M973.5 536v5M974.5 537v3M975.5 537v4M976.5 536v4M977.5 537v3M978.5 536v5M979.5 537v4M980.5 537v3M981.5 536v4M982.5 537v4M983.5 535v6M984.5 537v3M985.5 537v3M986.5 536v4M987.5 537v3M988.5 536v6M989.5 537v5M990.5 537v3M991.5 536v4M992.5 534v1m0 2v4M993.5 537v4M994.5 537v3M995.5 537v4M996.5 538v3M997.5 537v3M998.5 537v5M999.5 536v5M1000.5 536v4M1001.5 536v3M1002.5 535v4m0 1v2M1003.5 535v7M1004.5 537v5M1005.5 537v3M1006.5 536v4M1007.5 537v3M1008.5 537v3M1009.5 537v3M1010.5 537v3M1011.5 537v4M1012.5 537v3M1013.5 537v3M1014.5 537v3m0 2v1M1015.5 537v1m0 1v1M1016.5 537v4M1017.5 537v3M1018.5 537v3M1019.5 537v3M1020.5 536v3m0 1v3M1021.5 537v6M1022.5 538v2M1023.5 537v3M1024.5 536v5M1025.5 537v3M1026.5 537v3M1027.5 537v4M1028.5 537v3M1029.5 537v3M1030.5 534v1m0 2v3M1031.5 537v3M1032.5 537v3M1033.5 536v4M1034.5 537v3M1035.5 537v3M1036.5 536v5M1037.5 537v3M1038.5 537v4M1039.5 537v7M1040.5 536v5M1041.5 537v3M1042.5 537v6M1043.5 537v3M1044.5 537v3M1045.5 537v3M1046.5 537v5M1047.5 537v6M1048.5 537v3m0 2v1M1049.5 536v4M1050.5 537v3M1051.5 537v3M1052.5 537v4M1053.5 536v5M1054.5 537v3M1055.5 536v5M1056.5 537v4M1057.5 537v3M1058.5 537v3M1059.5 535v1m0 2v2M1060.5 537v3M1061.5 536v5M1062.5 536v4M1063.5 536v4M1064.5 537v4M1065.5 537v4M1066.5 536v5M1067.5 537v4M1068.5 537v3M1069.5 536v4M1070.5 537v3m0 3v1M1071.5 536v5M1072.5 537v4m0 1v1M1073.5 537v3M1074.5 537v3m0 3v1M1075.5 537v5M1076.5 537v4M1077.5 537v4M1078.5 536v3m0 1v3M1079.5 537v3M1080.5 535v1m0 1v4M1081.5 536v4M1082.5 536v4M1083.5 534v1m0 2v3M1084.5 534v1m0 2v4M1085.5 537v3M1086.5 536v5M1087.5 537v3M1088.5 537v3M1089.5 537v3M1090.5 534v1m0 2v3M1091.5 536v4M1092.5 535v4M1093.5 536v3M1094.5 536v3M1095.5 537v3M1096.5 537v3M1097.5 537v4M1098.5 536v5M1099.5 537v3M1100.5 536v4M1101.5 536v4M1102.5 536v4M1103.5 536v7M1104.5 537v1m0 1v4M1105.5 537v3m0 3v1M1106.5 536v4M1107.5 537v4M1108.5 537v4m0 1v1M1109.5 537v6M1110.5 537v5M1111.5 538v6M1112.5 537v3M1113.5 537v3M1114.5 537v6M1115.5 537v6M1116.5 536v4M1117.5 537v3m0 3v1M1118.5 537v3M1119.5 537v4M1120.5 538v4M1121.5 537v4M1122.5 538v3M1123.5 538v3M1124.5 538v3M1125.5 537v3M1126.5 537v3M1127.5 537v3M1128.5 537v3M1129.5 536v5M1130.5 537v4M1131.5 537v3M1132.5 536v5M1133.5 537v4M1134.5 537v5M1135.5 537v6M1136.5 537v3M1137.5 536v4M1138.5 536v4M1139.5 537v1m0 1v3M1140.5 535v6M1141.5 537v4M1142.5 537v3M1143.5 537v6M1144.5 536v8M1145.5 537v3M1146.5 537v6M1147.5 537v5M1148.5 537v4M1149.5 536v5M1150.5 537v5M1151.5 536v3M1152.5 535v4M1153.5 537v3M1154.5 537v3M1155.5 537v4M1156.5 537v4M1157.5 537v3M1158.5 537v4M1159.5 537v3M1160.5 537v3M1161.5 536v4M1162.5 536v4M1163.5 537v4M1164.5 537v3m0 3v1M1165.5 537v4M1166.5 536v4M1167.5 537v4M1168.5 537v4M1169.5 537v4M1170.5 537v3M1171.5 537v4M1172.5 537v3M1173.5 537v3M1174.5 537v3m0 2v1M1175.5 537v4M1176.5 537v4M1177.5 536v4M1178.5 534v1m0 2v3M1179.5 537v4M1180.5 537v3M1181.5 537v3m0 1v1M1182.5 537v7M1183.5 537v7M1184.5 537v3M1185.5 537v5M1186.5 536v4m0 3v1M1187.5 536v4M1188.5 537v3M1189.5 536v6M1190.5 536v4M1191.5 537v3M1192.5 537v3M1193.5 537v3M1194.5 537v4M1195.5 536v4M1196.5 537v3M1197.5 536v5M1198.5 536v4M1199.5 537v4M1200.5 538v3M1201.5 537v3M1202.5 537v3M1203.5 537v4M1204.5 536v5M1205.5 537v3M1206.5 536v3M1207.5 536v3M1208.5 536v3M1209.5 536v3M1210.5 535v4M1211.5 536v3M1212.5 536v3M1213.5 537v4M1214.5 537v4M1215.5 537v4M1216.5 537v4M1217.5 536v7M1218.5 537v6M1219.5 537v3M1220.5 537v4M1221.5 536v4M1222.5 537v3M1223.5 536v4M1224.5 536v6M1225.5 534v1m0 2v3M1226.5 536v5M1227.5 537v4M1228.5 537v3M1229.5 537v4M1230.5 537v4M1231.5 537v3M1232.5 537v4M1233.5 537v1m0 1v1M1234.5 536v3M1235.5 536v4m0 2v1M1236.5 535v4M1237.5 536v3M1238.5 536v4M1239.5 537v5M1240.5 537v6M1241.5 535v1m0 1v3M1242.5 537v4M1243.5 537v3M1244.5 536v4M1245.5 537v3M1246.5 536v4M1247.5 537v3M1248.5 537v7M1249.5 536v7M1250.5 537v4M1251.5 537v4M1252.5 537v3M1253.5 536v4M1254.5 536v5"/>
<path stroke="#c000ff" d="M105.5 528v5M106.5 501v2m0 25v6m0 7v1M107.5 494v2m0 21v1m0 10v5M108.5 489v1m0 38v5M109.5 501v1m0 26v8M110.5 528v5M111.5 528v4M112.5 502v1m0 24v7M113.5 478v1m0 49v5M114.5 518v2m0 7v6M115.5 528v6M116.5 528v3m0 1v1M117.5 528v6M118.5 528v5M119.5 528v5M120.5 527v4m0 1v1M121.5 528v7M122.5 528v5m0 2v1M123.5 528v6M124.5 528v5M125.5 485v1m0 42v6M126.5 527v7M127.5 528v5M128.5 528v5M129.5 489v1m0 38v7M130.5 522v1m0 5v5M131.5 528v4M132.5 528v5M133.5 499v2m0 18v2m0 7v5M134.5 528v5M135.5 528v5M136.5 528v5M137.5 510v2m0 16v5M138.5 528v6M139.5 528v5M140.5 528v5M141.5 528v5M142.5 506v1m0 21v5M143.5 528v7M144.5 513v1m0 14v5M145.5 526v7M146.5 527v7M147.5 528v7M148.5 527v6M149.5 507v1m0 19v6M150.5 512v1m0 15v5M151.5 528v5M152.5 528v6M153.5 494v1m0 33v5M154.5 528v5M155.5 471v1m0 56v6M156.5 528v5M157.5 527v6M158.5 528v5M159.5 515v1m0 12v5M160.5 520v1m0 6v4m0 1v1m0 6v1M161.5 514v2m0 12v5M162.5 527v8M163.5 527v8M164.5 528v5M165.5 528v7M166.5 523v2m0 3v5M167.5 528v6M168.5 505v1m0 22v2m0 1v2M169.5 528v6M170.5 528v6M171.5 528v5M172.5 528v5M173.5 528v5M174.5 502v1m0 25v5M175.5 511v1m0 16v5M176.5 528v5M177.5 509v1m0 18v5M178.5 522v1m0 5v6M179.5 528v7M180.5 527v7m0 1v1M181.5 527v7M182.5 522v1m0 5v7M183.5 528v5M184.5 528v7M185.5 513v1m0 14v5M186.5 528v6M187.5 528v7M188.5 507v1m0 20v6M189.5 479v2m0 32v2m0 1v1m0 11v5M190.5 528v3m0 1v1M191.5 528v5M192.5 512v1m0 15v5m0 3v1M193.5 527v8M194.5 528v5m0 2v1M195.5 528v5M196.5 528v5M197.5 516v2m0 10v6M198.5 528v6M199.5 528v5M200.5 528v7M201.5 528v5M202.5 521v1m0 6v5M203.5 528v2m0 1v2M204.5 515v2m0 6v1m0 4v7M205.5 528v5M206.5 528v5m0 2v1M207.5 528v5M208.5 528v5M209.5 491v1m0 27v1m0 7v7M210.5 527v6m0 2v1M211.5 528v5M212.5 528v5M213.5 515v2m0 11v5M214.5 526v1m0 1v5M215.5 528v6M216.5 528v6M217.5 528v5M218.5 528v7M219.5 528v5M220.5 523v1m0 4v5m0 2v1M221.5 527v7M222.5 513v2m0 12v7M223.5 522v2m0 2v1m0 1v7M224.5 528v6M225.5 528v6M226.5 528v7M227.5 512v2m0 14v5M228.5 528v7M229.5 528v2m0 1v2M230.5 528v6M231.5 511v1m0 16v5M232.5 527v8M233.5 527v6M234.5 502v2m0 24v5M235.5 528v5M236.5 528v5M237.5 517v1m0 10v7M238.5 528v5M239.5 528v5M240.5 528v6M241.5 528v7M242.5 527v7M243.5 528v6M244.5 496v2m0 29v7M245.5 528v5M246.5 527v7M247.5 527v6M248.5 527v6m0 2v1M249.5 528v5M250.5 528v5M251.5 528v7M252.5 528v5M253.5 521v1m0 6v5M254.5 524v1m0 3v5m0 2v1M255.5 479v1m0 48v5M256.5 528v5m0 2v1M257.5 528v7M258.5 528v5M259.5 528v6M260.5 491v2m0 31v1m0 3v6M261.5 528v5M262.5 528v5M263.5 528v6M264.5 528v5M265.5 527v7m0 1v1M266.5 528v5M267.5 525v1m0 2v5M268.5 528v7M269.5 527v6M270.5 528v5M271.5 507v1m0 20v6M272.5 501v2m0 25v7M273.5 527v6M274.5 505v1m0 7v1m0 14v6M275.5 524v1m0 2v6m0 6v1M276.5 451v3m0 74v5M277.5 528v5M278.5 528v6M279.5 521v2m0 5v5M280.5 528v5M281.5 528v5M282.5 503v1m0 24v5M283.5 528v7m0 4v1M284.5 527v7M285.5 503v2m0 7v2m0 4v1m0 9v5M286.5 528v5M287.5 528v5M288.5 528v5M289.5 527v7M290.5 528v6M291.5 513v1m0 14v6M292.5 527v8M293.5 527v8M294.5 510v1m0 17v5m0 2v1M295.5 518v2m0 8v5M296.5 528v5M297.5 528v5M298.5 528v5M299.5 528v7M300.5 527v6M301.5 528v7M302.5 503v1m0 18v1m0 5v7M303.5 494v1m0 33v6M304.5 509v2m0 17v5m0 2v1M305.5 528v5M306.5 479v1m0 47v6M307.5 495v2m0 31v5M308.5 527v7M309.5 528v5M310.5 528v5M311.5 528v5M312.5 518v1m0 9v7M313.5 528v7M314.5 507v1m0 20v6m0 4v1M315.5 528v4M316.5 528v5M317.5 528v7M318.5 474v1m0 53v6M319.5 528v7M320.5 528v6M321.5 528v6M322.5 528v5M323.5 527v6M324.5 528v5m0 2v1M325.5 528v5M326.5 501v2m0 25v5M327.5 527v8M328.5 528v5M329.5 499v1m0 28v5M330.5 528v5M331.5 508v1m0 4v2m0 13v5M332.5 528v5m0 2v1M333.5 525v1m0 2v5M334.5 528v6M335.5 527v8M336.5 528v5M337.5 528v5M338.5 527v7M339.5 453v1m0 74v5M340.5 528v5M341.5 513v1m0 14v5M342.5 528v5M343.5 528v5M344.5 498v1m0 28v6M345.5 528v7M346.5 528v6m0 1v1M347.5 528v5M348.5 528v6M349.5 512v2m0 14v5M350.5 528v5M351.5 528v7M352.5 518v2m0 5v2m0 1v7M353.5 518v2m0 8v6M354.5 528v6M355.5 527v7M356.5 528v5M357.5 528v7M358.5 527v6M359.5 522v1m0 5v5m0 5v1M360.5 466v1m0 61v5M361.5 528v5M362.5 528v6M363.5 459v1m0 68v5M364.5 528v5M365.5 528v5M366.5 528v5M367.5 528v5M368.5 512v1m0 15v7M369.5 528v6M370.5 527v6M371.5 528v5M372.5 528v5M373.5 528v5M374.5 518v1m0 6v1m0 2v7M375.5 528v5M376.5 528v5M377.5 527v6M378.5 518v1m0 9v6M379.5 527v6M380.5 528v6M381.5 528v6M382.5 528v7M383.5 528v4M384.5 506v1m0 21v6m0 6v1M385.5 528v5M386.5 517v1m0 10v5M387.5 527v7M388.5 479v1m0 48v7M389.5 528v5M390.5 528v5M391.5 518v1m0 1v1m0 7v5M392.5 528v6M393.5 514v2m0 12v5M394.5 528v2m0 1v4M395.5 528v5M396.5 522v1m0 5v6M397.5 512v1m0 15v5M398.5 528v7M399.5 527v6M400.5 520v1m0 7v5M401.5 528v5M402.5 522v2m0 4v6M403.5 528v5M404.5 528v6M405.5 528v6M406.5 528v5M407.5 528v5M408.5 511v2m0 14v6M409.5 527v8M410.5 528v5M411.5 528v6m0 1v1M412.5 528v5M413.5 528v6m0 3v1M414.5 528v7M415.5 528v5M416.5 528v7M417.5 528v5M418.5 527v6m0 5v1M419.5 528v5M420.5 477v2m0 49v6M421.5 499v1m0 28v5M422.5 528v5M423.5 528v5M424.5 528v7M425.5 528v5M426.5 528v6M427.5 528v6M428.5 515v2m0 11v5m0 4v1M429.5 467v1m0 59v7M430.5 512v1m0 15v5M431.5 528v5M432.5 528v7M433.5 528v7M434.5 528v5M435.5 527v6M436.5 528v5M437.5 527v6M438.5 528v7M439.5 528v5M440.5 528v5M441.5 526v1m0 1v7M442.5 528v7M443.5 497v2m0 28v7M444.5 528v5M445.5 528v5M446.5 528v5M447.5 527v6M448.5 528v5M449.5 528v7M450.5 503v1m0 24v5M451.5 517v1m0 10v5M452.5 517v1m0 10v5M453.5 506v1m0 21v5M454.5 520v2m0 6v5M455.5 506v2m0 20v7M456.5 528v5M457.5 528v5M458.5 528v6M459.5 528v5M460.5 516v1m0 10v6M461.5 528v7M462.5 527v6M463.5 528v7M464.5 495v1m0 32v5M465.5 486v2m0 40v2m0 1v4M466.5 501v2m0 25v5M467.5 528v7M468.5 528v5M469.5 528v5M470.5 528v5M471.5 520v1m0 7v7M472.5 489v1m0 26v2m0 10v7M473.5 528v5M474.5 511v2m0 15v5M475.5 528v5m0 2v1M476.5 528v6M477.5 514v1m0 13v6M478.5 528v5M479.5 528v6m0 6v1M480.5 494v1m0 33v5M481.5 528v5m0 5v1M482.5 528v5M483.5 528v5M484.5 528v5M485.5 508v1m0 18v6m0 2v1M486.5 528v5M487.5 492v2m0 32v1m0 1v5M488.5 494v1m0 32v8M489.5 528v5M490.5 528v4M491.5 528v5M492.5 498v2m0 28v5M493.5 528v5M494.5 504v1m0 23v5M495.5 527v7m0 7v1M496.5 508v3m0 17v6M497.5 528v7M498.5 528v8M499.5 517v1m0 9v6M500.5 528v5m0 8v1M501.5 528v6M502.5 527v8M503.5 510v1m0 2v1m0 1v1m0 11v6M504.5 513v2m0 11v1m0 1v5M505.5 511v1m0 1v1m0 1v1m0 11v6M506.5 512v1m0 1v1m0 11v1m0 1v4m0 1v1M507.5 528v7M508.5 527v6M509.5 528v5M510.5 527v6M511.5 528v5M512.5 527v8M513.5 528v5M514.5 527v6M515.5 528v5M516.5 527v8M517.5 528v5M518.5 528v6M519.5 514v1m0 13v5m0 2v1m0 5v1M520.5 448v1m0 4v1m0 74v5M521.5 528v6M522.5 527v8M523.5 528v5M524.5 527v8M525.5 528v6M526.5 528v5M527.5 527v7M528.5 505v1m0 21v8M529.5 471v1m0 56v6M530.5 527v6M531.5 528v5M532.5 528v7M533.5 528v5M534.5 528v5M535.5 527v7m0 1v1M536.5 528v5M537.5 508v1m0 19v5M538.5 528v5M539.5 527v6M540.5 527v6m0 2v1M541.5 483v1m0 43v8M542.5 527v8M543.5 513v1m0 14v5M544.5 527v6M545.5 504v1m0 23v6M546.5 528v5M547.5 527v6M548.5 509v1m0 18v6m0 2v1M549.5 525v1m0 2v5M550.5 528v5m0 2v1M551.5 512v1m0 15v6M552.5 528v7M553.5 528v6M554.5 528v5M555.5 528v4m0 7v1M556.5 527v7M557.5 527v6M558.5 528v7M559.5 528v5M560.5 528v6m0 3v1M561.5 527v7M562.5 222v1m0 5v1m0 5v1m0 10v1m0 8v1m0 12v1m0 250v1m0 9v7M563.5 395v1m0 132v5M564.5 528v5M565.5 520v1m0 7v6M566.5 527v7M567.5 528v5M568.5 518v1m0 9v5M569.5 528v5M570.5 528v5M571.5 528v5M572.5 527v7M573.5 528v5M574.5 437v1m0 11v23m0 55v7M575.5 528v5M576.5 527v8M577.5 525v1m0 2v5m0 2v1M578.5 528v6m0 7v1M579.5 528v5M580.5 528v5M581.5 527v6m0 5v1M582.5 512v1m0 1v2m0 12v5m0 2v1M583.5 511v2m0 1v2m0 3v1m0 8v6M584.5 511v2m0 1v1m0 2v1m0 1v1m0 7v6M585.5 510v1m0 1v1m0 1v2m0 1v2m0 9v7M586.5 510v1m0 1v1m0 1v2m0 1v1m0 10v5M587.5 512v1m0 1v1m0 1v4m0 8v7M588.5 528v7M589.5 527v7M590.5 528v5M591.5 528v5m0 7v1M592.5 528v7M593.5 528v5M594.5 528v5M595.5 528v6M596.5 442v1m0 56v1m0 15v1m0 11v6M597.5 528v5m0 8v1M598.5 528v5M599.5 525v2m0 1v5M600.5 528v6M601.5 521v1m0 6v5M602.5 91v1m0 17v1m0 12v1m0 4v1m0 3v1m0 8v1m0 1v1m0 1v1m0 1v1m0 1v10m0 1v3m0 1v2m0 1v3m0 1v3m0 2v1m0 3v3m0 1v2m0 3v1m0 1v1m0 1v1m0 6v8m0 1v3m0 1v1m0 2v1m0 3v1m0 2v1m0 2v4m0 14v1m0 4v1m0 82v1m0 196v5M603.5 527v8M604.5 528v5M605.5 528v6M606.5 513v2m0 12v8M607.5 528v5M608.5 528v7M609.5 516v1m0 11v5M610.5 520v1m0 7v6M611.5 528v5M612.5 527v6M613.5 528v6M614.5 516v1m0 11v5M615.5 520v2m0 5v7M616.5 511v1m0 16v5M617.5 513v2m0 13v6M618.5 528v5M619.5 506v1m0 21v5M620.5 513v1m0 13v6M621.5 519v1m0 7v8M622.5 511v1m0 16v5M623.5 484v2m0 42v6M624.5 513v1m0 14v5M625.5 528v6M626.5 528v5M627.5 527v6M628.5 521v1m0 6v5M629.5 500v2m0 26v5M630.5 507v1m0 19v6M631.5 528v5M632.5 528v5M633.5 528v5M634.5 509v1m0 16v1m0 1v6M635.5 503v2m0 23v5M636.5 519v2m0 7v7M637.5 528v6M638.5 528v7M639.5 522v2m0 4v7M640.5 527v6M641.5 524v1m0 3v5M642.5 520v1m0 7v5M643.5 528v5M644.5 507v1m0 20v6M645.5 495v1m0 32v6M646.5 528v5M647.5 525v2m0 1v6M648.5 528v5M649.5 521v1m0 5v8M650.5 504v1m0 12v1m0 9v6M651.5 528v6M652.5 528v6M653.5 528v5M654.5 528v2m0 1v3M655.5 528v5M656.5 528v7M657.5 509v2m0 14v13M658.5 528v5M659.5 528v5M660.5 527v6M661.5 528v6M662.5 528v5M663.5 528v5M664.5 528v5m0 2v1m0 2v1M665.5 528v6M666.5 505v1m0 9v2m0 11v5m0 5v1M667.5 509v1m0 18v3m0 1v1M668.5 528v5M669.5 528v5M670.5 528v5M671.5 528v6M672.5 528v5m0 3v1M673.5 528v5M674.5 528v2m0 1v2M675.5 528v5M676.5 517v2m0 9v5M677.5 528v5M678.5 528v6M679.5 528v6M680.5 527v6M681.5 528v5M682.5 528v6M683.5 528v7M684.5 528v6M685.5 528v7M686.5 528v5M687.5 494v1m0 33v6M688.5 527v6M689.5 528v5M690.5 527v8m0 6v1M691.5 528v5M692.5 528v5M693.5 525v2m0 1v6M694.5 528v7M695.5 528v5M696.5 511v1m0 16v7M697.5 528v5M698.5 502v1m0 24v6m0 3v1M699.5 527v6M700.5 527v6M701.5 528v6M702.5 528v7M703.5 527v6M704.5 528v6M705.5 528v6M706.5 528v6M707.5 527v6m0 2v1M708.5 526v1m0 1v5M709.5 522v1m0 5v5M710.5 499v2m0 21v2m0 3v6M711.5 528v6M712.5 527v6M713.5 528v5M714.5 528v5M715.5 528v5M716.5 524v1m0 3v7M717.5 528v5M718.5 517v2m0 9v5M719.5 528v5M720.5 528v5M721.5 528v5M722.5 528v6m0 1v1M723.5 526v1m0 1v5m0 6v1M724.5 490v2m0 36v5m0 4v1M725.5 498v1m0 28v7M726.5 528v5m0 4v1M727.5 528v3m0 1v1M728.5 528v6M729.5 528v6M730.5 528v6M731.5 528v6M732.5 528v7M733.5 528v6M734.5 528v5M735.5 519v2m0 7v5M736.5 528v5M737.5 528v5M738.5 528v4m0 3v1M739.5 528v7M740.5 525v1m0 2v5M741.5 525v1m0 2v5M742.5 527v6M743.5 528v5M744.5 528v7M745.5 455v16m0 57v7M746.5 528v6M747.5 515v2m0 11v8M748.5 528v5m0 2v1M749.5 510v1m0 16v7M750.5 527v6M751.5 528v7M752.5 528v5M753.5 528v5M754.5 528v7M755.5 508v1m0 19v5M756.5 528v6M757.5 528v5M758.5 509v2m0 17v5M759.5 528v5M760.5 528v5M761.5 528v7M762.5 504v1m0 3v1m0 3v2m0 14v5m0 2v1M763.5 499v1m0 27v6M764.5 478v1m0 31v2m0 16v5M765.5 527v8M766.5 528v7M767.5 528v5M768.5 528v5M769.5 528v5M770.5 527v6M771.5 528v7M772.5 519v1m0 8v5M773.5 509v1m0 7v1m0 10v5M774.5 523v2m0 3v5M775.5 505v2m0 21v5M776.5 528v5M777.5 517v1m0 10v7M778.5 478v1m0 49v6M779.5 528v5M780.5 527v7M781.5 527v7M782.5 484v1m0 43v5M783.5 527v6M784.5 528v5m0 4v1M785.5 528v6M786.5 527v8M787.5 528v5M788.5 494v3m0 20v1m0 10v8M789.5 528v5M790.5 527v6m0 2v1M791.5 528v7M792.5 528v5m0 2v1M793.5 528v5M794.5 527v7M795.5 528v5M796.5 516v1m0 11v6M797.5 528v6M798.5 485v1m0 30v1m0 11v5M799.5 528v5M800.5 528v6M801.5 507v1m0 20v5M802.5 527v7M803.5 465v1m0 33v2m0 11v2m0 14v5M804.5 496v23m0 9v7M805.5 496v23m0 8v6M806.5 496v23m0 9v5M807.5 496v23m0 9v5M808.5 528v5M809.5 514v1m0 13v5m0 3v1M810.5 497v1m0 29v6M811.5 528v6M812.5 528v6m0 4v1M813.5 528v7M814.5 528v6M815.5 527v7M816.5 528v7M817.5 514v1m0 13v7M818.5 527v7M819.5 511v1m0 16v6M820.5 528v6M821.5 514v1m0 12v7m0 1v1M822.5 527v6M823.5 528v5M824.5 527v7M825.5 528v5m0 5v1M826.5 521v1m0 6v5M827.5 528v5m0 2v1M828.5 528v7M829.5 498v1m0 29v5M830.5 528v6M831.5 528v5M832.5 527v6M833.5 518v1m0 9v6M834.5 528v7M835.5 527v8M836.5 164v1m0 6v1m0 16v1m0 28v1m0 27v1m0 4v1m0 260v2m0 15v6M837.5 528v6m0 4v1M838.5 528v5M839.5 523v2m0 2v6M840.5 528v7M841.5 513v1m0 14v6M842.5 528v7M843.5 516v1m0 11v6M844.5 510v1m0 17v5M845.5 506v2m0 20v7M846.5 528v6M847.5 528v5M848.5 527v8M849.5 515v1m0 12v7M850.5 528v5M851.5 521v1m0 6v5M852.5 514v1m0 12v8M853.5 528v5M854.5 528v7m0 3v1M855.5 527v6M856.5 508v1m0 19v5M857.5 528v5M858.5 495v1m0 32v7M859.5 528v5M860.5 528v5M861.5 528v5M862.5 528v5M863.5 528v4M864.5 527v7M865.5 528v5M866.5 528v6M867.5 528v7M868.5 528v5M869.5 528v5M870.5 528v5M871.5 482v2m0 44v4M872.5 510v1m0 17v5M873.5 479v2m0 47v5M874.5 528v6M875.5 528v7M876.5 520v2m0 6v5M877.5 515v1m0 3v1m0 7v7M878.5 528v5M879.5 528v4M880.5 528v5M881.5 518v1m0 8v8M882.5 528v5M883.5 527v7M884.5 528v5M885.5 517v2m0 9v5M886.5 528v7M887.5 528v6M888.5 528v5M889.5 528v5M890.5 528v5M891.5 507v1m0 20v6M892.5 486v1m0 41v6M893.5 521v1m0 6v6M894.5 527v6M895.5 528v5M896.5 528v2m0 1v3M897.5 522v2m0 3v6m0 6v1M898.5 528v5M899.5 486v2m0 40v6M900.5 528v7M901.5 514v2m0 11v6M902.5 522v1m0 5v5M903.5 528v5M904.5 440v1m0 34v1m0 52v6M905.5 524v1m0 3v7M906.5 528v5M907.5 528v6M908.5 528v5M909.5 528v5M910.5 515v1m0 12v7M911.5 490v1m0 37v6M912.5 528v8M913.5 528v5M914.5 528v5M915.5 528v5M916.5 525v2m0 1v5M917.5 528v5M918.5 528v5M919.5 527v6M920.5 528v6M921.5 528v6M922.5 528v5M923.5 528v6M924.5 525v9M925.5 528v5M926.5 527v6m0 2v1M927.5 442v1m0 14v1m0 21v30m0 19v5m0 2v1M928.5 528v5M929.5 498v2m0 27v6M930.5 527v7M931.5 527v6M932.5 528v6M933.5 504v1m0 23v5M934.5 528v5M935.5 528v5M936.5 528v5M937.5 519v1m0 7v6M938.5 524v1m0 3v5M939.5 498v2m0 27v6m0 6v1M940.5 528v5M941.5 528v5M942.5 503v2m0 11v2m0 9v6M943.5 528v5M944.5 528v5M945.5 528v5M946.5 528v5m0 2v1M947.5 528v6M948.5 525v1m0 2v7M949.5 528v5M950.5 528v5M951.5 510v2m0 16v6M952.5 515v1m0 12v7M953.5 528v5M954.5 528v7M955.5 528v5M956.5 527v6M957.5 528v5M958.5 500v1m0 26v6M959.5 527v6M960.5 491v1m0 36v5m0 4v1M961.5 522v1m0 5v3m0 1v1M962.5 527v8M963.5 528v7M964.5 528v6M965.5 528v7M966.5 521v1m0 6v5M967.5 528v5m0 5v1M968.5 527v7M969.5 479v1m0 48v5M970.5 527v5m0 9v1M971.5 527v7M972.5 528v5M973.5 528v5M974.5 528v5M975.5 477v1m0 50v6M976.5 512v1m0 15v5M977.5 528v7M978.5 528v7M979.5 523v1m0 3v6M980.5 528v5M981.5 528v6M982.5 528v5M983.5 528v5M984.5 528v8M985.5 528v5M986.5 528v4M987.5 528v5M988.5 521v1m0 5v3m0 1v2M989.5 528v5M990.5 495v1m0 32v7M991.5 513v1m0 13v6M992.5 528v5M993.5 502v1m0 25v5M994.5 515v2m0 9v8M995.5 528v5M996.5 527v7M997.5 527v6M998.5 528v6M999.5 528v6M1000.5 528v5M1001.5 462v5m0 27v2m0 31v7M1002.5 527v7M1003.5 504v2m0 21v7M1004.5 528v6M1005.5 480v1m0 47v5M1006.5 528v5M1007.5 493v2m0 11v2m0 20v5M1008.5 528v6M1009.5 527v7M1010.5 528v5M1011.5 519v1m0 8v5M1012.5 528v6M1013.5 528v6M1014.5 520v1m0 7v6M1015.5 493v1m0 33v6m0 5v1M1016.5 526v1m0 1v7M1017.5 528v5M1018.5 528v5M1019.5 527v6M1020.5 528v5M1021.5 493v1m0 33v6m0 2v2M1022.5 528v5m0 4v1M1023.5 528v5M1024.5 516v2m0 10v5M1025.5 528v5M1026.5 498v1m0 29v6M1027.5 493v1m0 34v5M1028.5 527v6m0 2v1M1029.5 504v2m0 22v7M1030.5 527v4m0 1v2m0 6v1M1031.5 527v8M1032.5 500v1m0 26v7m0 1v1M1033.5 520v1m0 7v5M1034.5 528v5M1035.5 498v2m0 28v5m0 2v1M1036.5 528v5M1037.5 528v5M1038.5 527v6M1039.5 521v1m0 6v6M1040.5 515v1m0 12v6M1041.5 528v5M1042.5 487v1m0 40v5M1043.5 523v1m0 4v5M1044.5 528v5M1045.5 475v1m0 51v7M1046.5 528v5M1047.5 523v1m0 4v6M1048.5 528v3m0 1v2M1049.5 528v7M1050.5 523v1m0 4v6M1051.5 528v8M1052.5 528v7M1053.5 528v5M1054.5 528v5M1055.5 512v1m0 8v1m0 6v5M1056.5 527v7M1057.5 528v7M1058.5 512v1m0 15v5m0 2v1M1059.5 528v5m0 4v1M1060.5 523v2m0 2v5m0 1v1M1061.5 528v5M1062.5 528v7M1063.5 506v1m0 21v6M1064.5 528v8M1065.5 528v6m0 1v1M1066.5 512v2m0 14v6M1067.5 512v1m0 15v5M1068.5 528v7M1069.5 483v15m0 30v5M1070.5 322v1m0 146v29m0 30v5M1071.5 390v1m0 7v1m0 29v1m0 54v15m0 30v5m0 2v1m0 5v1M1072.5 483v15m0 29v6M1073.5 527v6m0 3v1M1074.5 528v6M1075.5 528v5M1076.5 520v1m0 7v5M1077.5 524v1m0 3v5M1078.5 528v7m0 4v1M1079.5 518v1m0 9v6M1080.5 490v1m0 21v1m0 15v5M1081.5 528v7M1082.5 499v2m0 27v7M1083.5 528v5m0 2v1M1084.5 528v5M1085.5 512v2m0 9v1m0 4v6M1086.5 528v5M1087.5 528v5M1088.5 528v5m0 2v1M1089.5 528v5M1090.5 527v5M1091.5 518v1m0 3v1m0 4v6M1092.5 528v5M1093.5 478v2m0 30v2m0 1v2m0 13v7M1094.5 528v7M1095.5 528v5M1096.5 434v1m0 17v1m0 2v1m0 19v1m0 52v6M1097.5 528v6M1098.5 528v5M1099.5 528v5M1100.5 528v6M1101.5 493v1m0 29v1m0 4v5M1102.5 512v2m0 8v1m0 5v5M1103.5 528v5M1104.5 487v1m0 40v5m0 5v1M1105.5 528v6M1106.5 528v6M1107.5 511v2m0 15v5M1108.5 528v6m0 7v1M1109.5 527v6M1110.5 517v1m0 10v5M1111.5 528v10M1112.5 528v5M1113.5 502v1m0 25v5M1114.5 512v1m0 15v5M1115.5 528v5M1116.5 528v5M1117.5 518v1m0 9v7M1118.5 528v5M1119.5 501v1m0 26v5M1120.5 528v5M1121.5 528v7M1122.5 527v6m0 4v1M1123.5 528v7M1124.5 431v1m0 21v1m0 74v6M1125.5 528v5m0 2v1M1126.5 499v2m0 27v7M1127.5 521v2m0 5v5M1128.5 528v6M1129.5 525v2m0 1v6M1130.5 501v1m0 14v1m0 11v5M1131.5 525v1m0 1v6M1132.5 508v2m0 17v6m0 2v1M1133.5 512v1m0 15v5M1134.5 527v6M1135.5 528v6M1136.5 527v6M1137.5 526v1m0 1v5M1138.5 527v6M1139.5 528v7m0 3v1M1140.5 527v7M1141.5 528v6M1142.5 512v1m0 15v5M1143.5 528v5M1144.5 428v1m0 16v1m0 82v6M1145.5 486v2m0 40v6M1146.5 528v6M1147.5 528v5M1148.5 528v6M1149.5 527v7M1150.5 485v1m0 42v6M1151.5 524v1m0 3v6M1152.5 528v5M1153.5 528v5M1154.5 527v6M1155.5 528v5M1156.5 528v7M1157.5 522v1m0 4v8M1158.5 527v5M1159.5 492v2m0 34v5M1160.5 528v5M1161.5 503v1m0 24v7M1162.5 528v6M1163.5 528v5M1164.5 528v7M1165.5 528v5M1166.5 528v5M1167.5 527v6M1168.5 528v5m0 2v1m0 5v1M1169.5 528v5M1170.5 527v7M1171.5 528v5M1172.5 514v1m0 13v5M1173.5 528v5M1174.5 527v6M1175.5 528v6M1176.5 528v6M1177.5 528v5M1178.5 521v2m0 5v6M1179.5 524v1m0 3v7M1180.5 528v6M1181.5 527v6M1182.5 528v5M1183.5 379v1m0 1v1m0 8v12m0 1v9m0 2v2m0 1v1m0 1v1m0 6v6m0 22v1m0 73v5M1184.5 426v6m0 96v5M1185.5 518v1m0 9v5M1186.5 528v5m0 8v1M1187.5 513v1m0 14v7M1188.5 528v5M1189.5 527v6M1190.5 528v5M1191.5 528v5M1192.5 452v1m0 74v6M1193.5 528v7M1194.5 527v6M1195.5 528v5M1196.5 487v2m0 38v6m0 7v1M1197.5 528v5M1198.5 528v6M1199.5 528v5M1200.5 528v5M1201.5 514v1m0 12v6M1202.5 512v1m0 2v2m0 10v6M1203.5 527v7M1204.5 509v1m0 17v6M1205.5 528v5M1206.5 528v6M1207.5 460v1m0 9v1m0 56v8M1208.5 527v7M1209.5 506v1m0 20v7M1210.5 519v1m0 8v6M1211.5 528v5M1212.5 528v5M1213.5 528v6M1214.5 528v5M1215.5 527v6M1216.5 528v7M1217.5 527v7M1218.5 466v1m0 61v4M1219.5 528v6M1220.5 528v6M1221.5 528v5M1222.5 489v1m0 38v7M1223.5 528v5M1224.5 528v2m0 1v3M1225.5 528v5m0 2v1M1226.5 522v2m0 4v5m0 2v1M1227.5 492v1m0 34v6M1228.5 502v3m0 23v5M1229.5 528v4m0 1v2M1230.5 528v5M1231.5 492v1m0 4v1m0 30v5M1232.5 526v7m0 3v1M1233.5 528v5m0 5v1M1234.5 528v6M1235.5 528v7M1236.5 528v7M1237.5 528v6M1238.5 528v6M1239.5 494v1m0 33v5M1240.5 523v1m0 3v8M1241.5 502v1m0 25v7M1242.5 528v5M1243.5 496v1m0 30v6M1244.5 528v6M1245.5 528v5m0 8v1M1246.5 473v1m0 51v1m0 2v6M1247.5 493v1m0 34v5M1248.5 528v5M1249.5 528v5M1250.5 528v5M1251.5 517v2m0 9v5M1252.5 512v6m0 1v1m0 8v5M1253.5 513v8m0 7v6M1254.5 512v1m0 1v2m0 1v1m0 10v6"/>
<path stroke="#00eeee" d="M105.5 508v1m0 1v2m0 1v7m0 1v7M106.5 512v16M107.5 499v1m0 9v2m0 1v5m0 1v10M108.5 502v1m0 10v9m0 1v5M109.5 513v1m0 1v13M110.5 510v2m0 2v14M111.5 514v14M112.5 473v1m0 23v1m0 10v1m0 2v1m0 1v14M113.5 507v1m0 5v1m0 1v13M114.5 513v1m0 1v3m0 2v7M115.5 504v2m0 3v1m0 2v2m0 2v12M116.5 501v1m0 12v5m0 1v8M117.5 501v1m0 14v12M118.5 501v1m0 12v14M119.5 512v1m0 1v14M120.5 504v1m0 9v13M121.5 507v1m0 4v2m0 1v13M122.5 503v1m0 5v1m0 1v1m0 2v1m0 1v9m0 1v2M123.5 511v1m0 2v14M124.5 501v1m0 8v1m0 2v15M125.5 497v1m0 10v1m0 2v1m0 1v15M126.5 506v1m0 2v1m0 3v14M127.5 497v1m0 4v1m0 6v1m0 2v1m0 1v14M128.5 499v1m0 10v1m0 2v15M129.5 498v1m0 8v1m0 5v15M130.5 508v1m0 2v1m0 2v8m0 1v5M131.5 501v1m0 13v13M132.5 503v1m0 2v1m0 3v1m0 2v3m0 1v11M133.5 508v3m0 2v6m0 2v7M134.5 503v1m0 7v1m0 2v14M135.5 486v1m0 23v1m0 1v1m0 1v14M136.5 507v1m0 2v2m0 2v14M137.5 499v1m0 12v16M138.5 508v1m0 5v14M139.5 513v15M140.5 498v1m0 15v14M141.5 512v16M142.5 498v1m0 16v13M143.5 511v4m0 1v12M144.5 475v1m0 39v13M145.5 511v1m0 1v2m0 2v8M146.5 511v1m0 3v12M147.5 509v1m0 1v1m0 3v1m0 1v11M148.5 513v1m0 1v12M149.5 511v1m0 4v11M150.5 510v1m0 5v12M151.5 505v1m0 1v1m0 5v15M152.5 501v1m0 8v1m0 3v1m0 1v12M153.5 503v1m0 10v1m0 1v12M154.5 493v1m0 13v1m0 6v14M155.5 508v1m0 3v1m0 3v12M156.5 499v2m0 10v1m0 1v1m0 1v13M157.5 514v1m0 1v11M158.5 501v1m0 13v1m0 1v11M159.5 506v2m0 4v1m0 3v12M160.5 504v1m0 5v1m0 5v4m0 1v6M161.5 472v1m0 37v1m0 1v2m0 2v11M162.5 505v1m0 9v12M163.5 516v11M164.5 514v14M165.5 508v1m0 2v1m0 4v12M166.5 509v2m0 2v8m0 1v1m0 2v3M167.5 509v1m0 2v1m0 2v13M168.5 508v1m0 3v16M169.5 504v1m0 1v1m0 7v14M170.5 499v1m0 12v1m0 1v8m0 1v5M171.5 506v1m0 4v1m0 1v15M172.5 508v1m0 1v1m0 2v1m0 1v13M173.5 515v13M174.5 506v1m0 1v2m0 1v17M175.5 512v2m0 2v12M176.5 504v1m0 7v1m0 1v14M177.5 510v2m0 4v12M178.5 504v1m0 6v2m0 3v6m0 1v5M179.5 498v1m0 5v1m0 1v1m0 2v4m0 3v12M180.5 515v12M181.5 507v1m0 3v2m0 3v2m0 1v8M182.5 497v1m0 9v1m0 2v1m0 1v1m0 1v8m0 1v5M183.5 508v1m0 5v1m0 1v12M184.5 512v1m0 4v11M185.5 511v1m0 3v13M186.5 502v1m0 9v1m0 1v1m0 2v11M187.5 511v1m0 2v14M188.5 471v1m0 38v1m0 3v1m0 2v11M189.5 507v2m0 2v1m0 3v1m0 1v11M190.5 499v1m0 13v3m0 1v11M191.5 502v1m0 9v1m0 2v1m0 1v11M192.5 504v1m0 9v1m0 1v12M193.5 511v1m0 2v13M194.5 503v1m0 9v2m0 2v11M195.5 515v2m0 1v10M196.5 516v12M197.5 511v1m0 3v1m0 2v10M198.5 515v1m0 2v10M199.5 505v1m0 7v1m0 1v1m0 1v11M200.5 513v1m0 4v10M201.5 501v1m0 2v1m0 6v1m0 4v12M202.5 501v1m0 15v4m0 1v6M203.5 517v1m0 1v9M204.5 502v1m0 2v1m0 8v1m0 2v1m0 1v4m0 1v4M205.5 503v1m0 11v1m0 1v11M206.5 504v1m0 12v1m0 1v9M207.5 512v2m0 2v12M208.5 506v1m0 3v1m0 6v10M209.5 513v1m0 2v1m0 1v1m0 1v7M210.5 516v1m0 2v8M211.5 498v2m0 6v1m0 7v1m0 4v9M212.5 503v1m0 15v9M213.5 501v1m0 15v11M214.5 501v1m0 17v7m0 1v1M215.5 508v1m0 6v1m0 2v1m0 1v8M216.5 514v1m0 4v9M217.5 518v1m0 1v8M218.5 501v1m0 11v1m0 5v9M219.5 512v1m0 1v1m0 4v9M220.5 483v1m0 22v1m0 8v1m0 4v3m0 1v4M221.5 518v9M222.5 515v1m0 2v9M223.5 504v1m0 15v2m0 2v2m0 1v1M224.5 501v1m0 14v1m0 1v1m0 1v8M225.5 498v1m0 17v12M226.5 515v1m0 1v6m0 1v4M227.5 518v10M228.5 517v1m0 1v9M229.5 519v9M230.5 505v2m0 11v10M231.5 505v1m0 10v1m0 2v9M232.5 513v1m0 2v1m0 2v8M233.5 512v1m0 3v11M234.5 513v1m0 2v1m0 2v9M235.5 517v11M236.5 513v1m0 5v9M237.5 489v1m0 26v1m0 2v9M238.5 514v1m0 4v9M239.5 503v1m0 11v13M240.5 503v1m0 10v1m0 1v1m0 1v10M241.5 518v10M242.5 517v5m0 1v4M243.5 517v11M244.5 505v1m0 8v1m0 1v1m0 1v9M245.5 499v1m0 14v1m0 3v10M246.5 509v1m0 1v3m0 1v1m0 2v9M247.5 503v1m0 4v1m0 3v1m0 4v10M248.5 515v1m0 1v10M249.5 511v2m0 4v11M250.5 515v1m0 2v10M251.5 511v1m0 2v1m0 1v1m0 1v10M252.5 512v1m0 2v2m0 1v10M253.5 507v1m0 7v1m0 1v4m0 1v6M254.5 518v6m0 1v3M255.5 517v11M256.5 503v1m0 10v1m0 3v10M257.5 498v1m0 13v3m0 2v11M258.5 514v1m0 4v9M259.5 506v1m0 12v9M260.5 501v1m0 17v5m0 1v3M261.5 514v1m0 4v9M262.5 516v2m0 1v9M263.5 505v1m0 4v1m0 4v1m0 1v2m0 1v8M264.5 510v1m0 3v1m0 2v1m0 1v9M265.5 503v1m0 15v8M266.5 502v1m0 12v1m0 3v9M267.5 516v1m0 2v6m0 1v2M268.5 509v2m0 6v1m0 2v3m0 1v4M269.5 510v1m0 7v9M270.5 501v1m0 2v1m0 13v1m0 1v8M271.5 519v9M272.5 487v1m0 16v1m0 10v1m0 1v11M273.5 513v1m0 4v9M274.5 496v1m0 1v2m0 14v3m0 1v10M275.5 505v2m0 8v1m0 1v7m0 1v2M276.5 514v1m0 2v1m0 1v9M277.5 518v10M278.5 503v1m0 13v1m0 2v8M279.5 519v2m0 2v5M280.5 504v1m0 10v1m0 1v1m0 1v1m0 1v7M281.5 506v1m0 7v1m0 3v1m0 2v7M282.5 518v10M283.5 514v1m0 5v8M284.5 503v1m0 5v1m0 1v1m0 5v1m0 2v7M285.5 514v1m0 4v9M286.5 520v8M287.5 498v1m0 15v2m0 1v1m0 1v9M288.5 515v1m0 1v11M289.5 516v1m0 1v9M290.5 499v1m0 10v1m0 2v1m0 3v11M291.5 506v1m0 8v13M292.5 514v13M293.5 511v1m0 2v1m0 1v11M294.5 503v1m0 12v12M295.5 498v1m0 15v1m0 1v2m0 2v8M296.5 509v3m0 1v2m0 1v12M297.5 499v1m0 13v15M298.5 505v1m0 6v1m0 2v13M299.5 499v1m0 8v1m0 2v3m0 1v13M300.5 509v1m0 5v12M301.5 502v1m0 8v3m0 1v13M302.5 501v1m0 6v1m0 1v1m0 4v7m0 1v5M303.5 508v1m0 4v1m0 1v13M304.5 513v5m0 1v9M305.5 514v1m0 1v12M306.5 513v14M307.5 503v1m0 7v3m0 2v12M308.5 501v1m0 6v1m0 4v2m0 1v2m0 1v8M309.5 508v1m0 1v1m0 2v15M310.5 501v1m0 10v2m0 1v13M311.5 503v1m0 10v14M312.5 512v6m0 1v9M313.5 497v1m0 9v1m0 2v1m0 1v1m0 2v13M314.5 501v1m0 3v1m0 2v1m0 3v1m0 1v14M315.5 497v1m0 1v1m0 8v3m0 2v15M316.5 512v14m0 1v1M317.5 500v1m0 5v1m0 5v2m0 1v13M318.5 508v1m0 3v2m0 1v13M319.5 503v1m0 1v1m0 1v1m0 5v15M320.5 513v1m0 1v13M321.5 511v2m0 1v14M322.5 507v1m0 3v4m0 2v1m0 1v9M323.5 513v2m0 1v11M324.5 473v1m0 35v1m0 4v1m0 1v12M325.5 505v1m0 6v2m0 1v6m0 1v6M326.5 499v1m0 5v1m0 3v2m0 4v13M327.5 514v13M328.5 515v13M329.5 506v1m0 2v1m0 3v4m0 1v10M330.5 499v1m0 8v2m0 3v15M331.5 505v1m0 4v1m0 5v12M332.5 502v1m0 3v1m0 7v13M333.5 508v2m0 2v13m0 1v2M334.5 504v1m0 5v18M335.5 475v2m0 1v1m0 4v1m0 6v1m0 1v5m0 2v1m0 1v4m0 2v5m0 2v13M336.5 477v1m0 1v1m0 1v5m0 3v1m0 1v2m0 2v2m0 2v3m0 1v2m0 1v2m0 2v3m0 1v10m0 1v3M337.5 498v1m0 8v1m0 3v2m0 1v14M338.5 497v1m0 2v1m0 11v2m0 1v12M339.5 510v1m0 4v13M340.5 499v1m0 2v1m0 1v1m0 11v12M341.5 515v13M342.5 511v1m0 4v12M343.5 502v1m0 1v1m0 8v7m0 1v7M344.5 507v1m0 6v13M345.5 513v2m0 1v12M346.5 502v1m0 13v12M347.5 516v12M348.5 511v1m0 2v14M349.5 514v1m0 2v3m0 1v7M350.5 501v1m0 11v1m0 1v1m0 1v11M351.5 513v1m0 1v1m0 1v11M352.5 500v1m0 12v5m0 2v5m0 2v1M353.5 512v2m0 3v1m0 2v4m0 1v3M354.5 508v1m0 1v1m0 3v2m0 1v11M355.5 516v11M356.5 511v1m0 3v5m0 1v7M357.5 499v1m0 7v1m0 1v1m0 8v10M358.5 505v1m0 6v1m0 1v13M359.5 504v1m0 6v1m0 4v5m0 2v5M360.5 512v1m0 1v1m0 1v9m0 1v2M361.5 504v1m0 4v3m0 4v12M362.5 501v1m0 9v1m0 1v1m0 1v9m0 1v3M363.5 507v1m0 1v1m0 2v1m0 1v14M364.5 498v2m0 6v1m0 1v1m0 3v1m0 2v7m0 1v5M365.5 509v1m0 6v12M366.5 498v2m0 14v14M367.5 500v1m0 6v1m0 1v5m0 3v11M368.5 510v1m0 3v14M369.5 510v1m0 3v1m0 2v9m0 1v1M370.5 508v2m0 4v1m0 1v11M371.5 510v2m0 1v2m0 1v12M372.5 506v1m0 5v2m0 2v10m0 1v1M373.5 505v1m0 5v2m0 3v1m0 1v8m0 1v1M374.5 516v2m0 1v6m0 1v2M375.5 508v1m0 2v1m0 4v12M376.5 508v1m0 6v13M377.5 498v1m0 11v1m0 1v2m0 1v12M378.5 509v1m0 3v5m0 1v9M379.5 508v1m0 2v3m0 1v12M380.5 515v13M381.5 513v1m0 1v2m0 1v10M382.5 505v1m0 5v1m0 2v2m0 1v11M383.5 510v1m0 1v1m0 1v1m0 1v3m0 1v8M384.5 472v1m0 41v1m0 1v12M385.5 511v1m0 2v2m0 2v10M386.5 516v1m0 1v10M387.5 504v1m0 12v10M388.5 515v13M389.5 511v1m0 5v11M390.5 515v7m0 1v5M391.5 517v1m0 1v1m0 1v7M392.5 510v1m0 5v1m0 1v10M393.5 503v1m0 12v12M394.5 515v1m0 1v11M395.5 498v1m0 13v1m0 7v2m0 1v5M396.5 515v1m0 3v3m0 1v4M397.5 413v1m0 6v12m0 5v1m0 77v3m0 1v9M398.5 420v12m0 69v1m0 12v1m0 1v2m0 1v9M399.5 516v1m0 2v8M400.5 516v1m0 1v2m0 1v7M401.5 515v1m0 3v9M402.5 519v3m0 2v4M403.5 510v1m0 4v1m0 1v1m0 1v9M404.5 513v1m0 5v9M405.5 515v1m0 3v9M406.5 501v1m0 8v1m0 2v1m0 5v9M407.5 518v10M408.5 505v1m0 2v2m0 6v1m0 1v9M409.5 511v1m0 3v12M410.5 506v1m0 6v1m0 4v10M411.5 511v1m0 3v1m0 1v11M412.5 513v1m0 3v1m0 1v9M413.5 499v1m0 15v3m0 1v9M414.5 495v1m0 22v4m0 1v5M415.5 513v1m0 1v2m0 2v9M416.5 509v1m0 3v1m0 4v10M417.5 513v1m0 3v11M418.5 514v3m0 1v9M419.5 516v1m0 1v10M420.5 511v2m0 1v1m0 2v11M421.5 501v1m0 13v1m0 3v2m0 1v6M422.5 505v1m0 8v1m0 2v11M423.5 503v1m0 8v1m0 2v1m0 1v1m0 1v9M424.5 515v1m0 1v2m0 1v8M425.5 501v1m0 8v1m0 7v1m0 1v8M426.5 516v1m0 3v6m0 1v1M427.5 517v1m0 2v5m0 1v2M428.5 514v1m0 2v1m0 2v8M429.5 516v11M430.5 502v1m0 5v1m0 9v10M431.5 499v1m0 8v1m0 4v1m0 1v1m0 1v1m0 1v9M432.5 506v1m0 8v1m0 1v11M433.5 500v1m0 14v1m0 2v10M434.5 503v2m0 1v1m0 2v1m0 8v10M435.5 505v1m0 9v2m0 1v9M436.5 507v1m0 4v1m0 2v1m0 1v11M437.5 509v1m0 4v1m0 2v10M438.5 516v1m0 2v9M439.5 502v1m0 12v1m0 4v8M440.5 512v1m0 4v1m0 2v8M441.5 511v1m0 5v1m0 1v7m0 1v1M442.5 517v8m0 1v2M443.5 510v1m0 5v1m0 1v7m0 1v1M444.5 516v1m0 2v9M445.5 509v2m0 2v1m0 5v9M446.5 503v1m0 6v1m0 2v1m0 1v1m0 2v3m0 2v5M447.5 503v1m0 10v1m0 2v8m0 1v1M448.5 499v1m0 17v1m0 1v9M449.5 501v1m0 1v1m0 3v1m0 8v1m0 1v10M450.5 513v1m0 2v12M451.5 515v2m0 1v10M452.5 516v1m0 2v9M453.5 517v1m0 1v1m0 1v3m0 1v3M454.5 511v1m0 4v1m0 1v2m0 2v6M455.5 515v1m0 1v11M456.5 508v1m0 5v1m0 2v4m0 1v6M457.5 504v1m0 12v11M458.5 514v3m0 1v10M459.5 517v11M460.5 517v10M461.5 513v1m0 2v12M462.5 506v1m0 12v8M463.5 519v9M464.5 476v1m0 39v1m0 2v9M465.5 490v1m0 12v1m0 2v1m0 8v1m0 1v11M466.5 512v1m0 6v9M467.5 506v1m0 1v1m0 5v1m0 2v11M468.5 516v12M469.5 499v1m0 20v8M470.5 513v1m0 2v2m0 2v8M471.5 507v1m0 3v1m0 1v1m0 3v3m0 1v7M472.5 509v1m0 4v2m0 2v10M473.5 505v1m0 10v1m0 2v9M474.5 518v10M475.5 503v1m0 9v1m0 3v11M476.5 511v1m0 3v1m0 1v11M477.5 498v1m0 7v1m0 2v1m0 3v1m0 1v13M478.5 502v1m0 13v12M479.5 504v1m0 8v9m0 1v5M480.5 512v1m0 3v12M481.5 501v1m0 12v14M482.5 514v1m0 1v12M483.5 504v1m0 2v1m0 3v1m0 5v11M484.5 517v9m0 1v1M485.5 506v1m0 8v12M486.5 512v1m0 2v13M487.5 500v1m0 11v1m0 3v10m0 1v1M488.5 472v1m0 38v1m0 2v13M489.5 504v1m0 7v1m0 2v13M490.5 509v2m0 1v16M491.5 506v1m0 6v15M492.5 500v1m0 10v1m0 2v14M493.5 510v1m0 3v14M494.5 501v1m0 8v3m0 1v14M495.5 503v1m0 2v1m0 3v17M496.5 515v13M497.5 500v1m0 9v1m0 2v15M498.5 513v15M499.5 510v1m0 2v4m0 1v9M500.5 503v1m0 10v14M501.5 507v1m0 6v14M502.5 499v2m0 14v12M503.5 508v1m0 7v11M504.5 508v1m0 1v3m0 2v11m0 1v1M505.5 509v2m0 1v1m0 3v11M506.5 502v1m0 10v1m0 1v11m0 1v1M507.5 499v1m0 12v1m0 2v13M508.5 505v1m0 3v1m0 3v14M509.5 509v1m0 4v1m0 1v12M510.5 500v1m0 5v2m0 3v2m0 1v13M511.5 470v1m0 26v1m0 7v2m0 5v1m0 1v14M512.5 507v1m0 1v1m0 2v15M513.5 504v1m0 5v1m0 2v15M514.5 510v1m0 1v1m0 1v13M515.5 497v1m0 10v1m0 1v1m0 1v16M516.5 500v1m0 9v17M517.5 484v1m0 28v1m0 1v13M518.5 507v1m0 2v1m0 2v1m0 1v13M519.5 500v1m0 10v1m0 3v13M520.5 506v1m0 6v5m0 1v9M521.5 497v2m0 10v1m0 5v13M522.5 512v1m0 2v12M523.5 507v1m0 2v1m0 1v11m0 1v4M524.5 497v1m0 8v1m0 2v2m0 1v15M525.5 514v14M526.5 506v3m0 1v3m0 1v14M527.5 502v1m0 7v1m0 3v13M528.5 504v1m0 5v1m0 3v13M529.5 514v14M530.5 509v1m0 5v12M531.5 512v1m0 2v13M532.5 496v1m0 1v1m0 5v1m0 4v1m0 4v1m0 1v12M533.5 515v13M534.5 483v1m0 16v1m0 3v1m0 12v11M535.5 508v1m0 3v1m0 4v10M536.5 499v1m0 15v1m0 2v10M537.5 498v1m0 13v1m0 1v1m0 3v10M538.5 480v1m0 19v1m0 6v2m0 8v11M539.5 498v1m0 4v1m0 8v2m0 4v9M540.5 510v1m0 2v2m0 2v10M541.5 501v2m0 2v1m0 8v1m0 3v9M542.5 502v2m0 4v1m0 5v13M543.5 514v1m0 2v11M544.5 507v1m0 4v2m0 1v12M545.5 505v1m0 10v2m0 1v9M546.5 509v2m0 5v12M547.5 493v1m0 15v1m0 4v13M548.5 510v4m0 1v13M549.5 513v12m0 1v2M550.5 506v2m0 8v12M551.5 502v1m0 13v12M552.5 507v1m0 6v2m0 1v11M553.5 500v1m0 9v2m0 4v12M554.5 506v1m0 1v1m0 8v11M555.5 516v1m0 1v10M556.5 507v1m0 1v1m0 5v1m0 1v1m0 1v8M557.5 506v1m0 3v1m0 1v1m0 2v12M558.5 506v1m0 1v1m0 2v3m0 1v13M559.5 496v1m0 18v1m0 1v11M560.5 505v1m0 7v1m0 2v12M561.5 515v12M562.5 511v1m0 3v3m0 1v9M563.5 511v1m0 4v12M564.5 510v1m0 2v9m0 1v1m0 1v3M565.5 507v1m0 2v1m0 2v7m0 1v7M566.5 513v1m0 1v12M567.5 509v1m0 1v1m0 2v14M568.5 510v1m0 1v1m0 1v4m0 1v9M569.5 508v1m0 1v10m0 1v7M570.5 500v1m0 7v1m0 5v1m0 1v12M571.5 503v1m0 4v1m0 7v12M572.5 499v1m0 6v1m0 7v1m0 1v11M573.5 513v2m0 1v1m0 1v10M574.5 516v11M575.5 511v1m0 3v1m0 1v11M576.5 508v1m0 4v2m0 1v9m0 1v1M577.5 503v1m0 5v2m0 3v1m0 1v9m0 1v2M578.5 506v1m0 10v8m0 1v2M579.5 482v1m0 16v1m0 1v1m0 2v2m0 8v1m0 2v11M580.5 507v1m0 3v1m0 2v1m0 1v12M581.5 513v1m0 2v11M582.5 499v1m0 16v12M583.5 502v1m0 14v2m0 1v8M584.5 518v1m0 1v7M585.5 516v1m0 2v4m0 1v4M586.5 496v1m0 21v7m0 1v2M587.5 504v1m0 4v1m0 10v8M588.5 513v1m0 1v1m0 1v11M589.5 516v11M590.5 492v1m0 10v1m0 1v1m0 1v1m0 7v13M591.5 511v1m0 4v12M592.5 484v1m0 31v3m0 1v8M593.5 513v1m0 3v11M594.5 499v1m0 8v1m0 5v1m0 2v11M595.5 504v1m0 12v11M596.5 512v1m0 5v8M597.5 516v1m0 2v9M598.5 511v1m0 6v10M599.5 513v1m0 5v6m0 2v1M600.5 470v1m0 38v1m0 6v1m0 2v9M601.5 515v2m0 1v3m0 1v6M602.5 502v1m0 9v1m0 5v10M603.5 515v1m0 1v10M604.5 500v1m0 15v1m0 3v2m0 1v5M605.5 498v1m0 12v1m0 3v1m0 1v11M606.5 520v7M607.5 517v1m0 1v9M608.5 520v8M609.5 514v1m0 4v9M610.5 515v3m0 1v1m0 1v7M611.5 512v1m0 3v12M612.5 499v1m0 7v1m0 3v1m0 4v1m0 2v8M613.5 515v1m0 1v11M614.5 507v1m0 1v1m0 2v1m0 4v11M615.5 499v1m0 14v6m0 2v5M616.5 516v12M617.5 511v1m0 3v2m0 1v10M618.5 513v1m0 3v11M619.5 515v1m0 2v10M620.5 511v1m0 5v10M621.5 506v1m0 6v2m0 3v1m0 1v7M622.5 515v8m0 1v4M623.5 516v1m0 1v9M624.5 515v1m0 1v11M625.5 504v1m0 12v1m0 1v9M626.5 516v2m0 1v9M627.5 501v1m0 3v1m0 8v2m0 1v10M628.5 508v1m0 2v1m0 4v1m0 1v3m0 1v6M629.5 514v1m0 1v1m0 2v9M630.5 519v8M631.5 515v2m0 1v10M632.5 519v9M633.5 512v1m0 2v1m0 3v9M634.5 519v7m0 1v1M635.5 512v1m0 5v10M636.5 511v2m0 4v1m0 3v7M637.5 499v1m0 13v4m0 2v9M638.5 503v1m0 4v1m0 6v1m0 2v10M639.5 504v2m0 8v1m0 5v2m0 2v4M640.5 520v7M641.5 505v1m0 9v1m0 1v1m0 1v5m0 1v3M642.5 515v2m0 1v2m0 1v7M643.5 502v1m0 8v1m0 3v1m0 2v10M644.5 516v12M645.5 511v1m0 5v11M646.5 507v2m0 3v1m0 2v1m0 1v11M647.5 515v10m0 2v1M648.5 511v1m0 3v13M649.5 513v1m0 3v4m0 1v5M650.5 508v1m0 2v1m0 2v1m0 3v9M651.5 504v1m0 11v12M652.5 507v1m0 8v12M653.5 517v11M654.5 515v1m0 1v1m0 1v9M655.5 513v2m0 2v11M656.5 519v9M657.5 506v1m0 5v1m0 5v7M658.5 514v1m0 2v11M659.5 515v1m0 3v9M660.5 498v1m0 5v1m0 6v13m0 1v2M661.5 520v3m0 1v4M662.5 499v1m0 5v1m0 8v1m0 2v1m0 1v9M663.5 500v1m0 15v2m0 1v9M664.5 499v1m0 15v1m0 1v1m0 1v2m0 1v6M665.5 517v11M666.5 500v1m0 5v1m0 7v1m0 2v11M667.5 518v10M668.5 505v1m0 9v13M669.5 507v2m0 7v12M670.5 514v1m0 1v12M671.5 514v2m0 1v11M672.5 515v1m0 1v11M673.5 499v1m0 15v1m0 1v11M674.5 477v1m0 24v1m0 2v1m0 5v3m0 3v11M675.5 509v1m0 5v8m0 1v4M676.5 516v1m0 2v9M677.5 510v1m0 2v15M678.5 513v1m0 1v13M679.5 501v1m0 9v1m0 3v13M680.5 470v1m0 29v1m0 3v1m0 1v1m0 3v2m0 2v13M681.5 501v1m0 3v2m0 1v1m0 2v1m0 1v15M682.5 505v1m0 4v2m0 1v15M683.5 507v1m0 1v1m0 4v1m0 1v12M684.5 506v2m0 3v1m0 2v14M685.5 506v1m0 1v2m0 1v2m0 1v4m0 1v9M686.5 496v1m0 12v1m0 1v2m0 1v14M687.5 504v1m0 3v2m0 1v1m0 1v6m0 1v8M688.5 510v1m0 2v14M689.5 483v1m0 20v1m0 1v1m0 2v1m0 3v15M690.5 507v1m0 6v13M691.5 500v1m0 11v1m0 3v3m0 1v8M692.5 504v2m0 3v1m0 3v15M693.5 513v1m0 1v10m0 2v1M694.5 508v1m0 5v14M695.5 511v2m0 1v14M696.5 473v1m0 36v1m0 1v1m0 2v13M697.5 501v1m0 1v1m0 6v2m0 2v5m0 1v8M698.5 509v1m0 2v1m0 1v5m0 1v7M699.5 504v1m0 4v1m0 1v1m0 1v14M700.5 499v1m0 6v1m0 5v1m0 2v12M701.5 511v1m0 3v13M702.5 513v9m0 1v5M703.5 513v14M704.5 500v1m0 3v1m0 3v2m0 2v16M705.5 503v1m0 3v1m0 3v17M706.5 507v1m0 6v14M707.5 510v1m0 1v2m0 1v10M708.5 504v2m0 1v1m0 3v1m0 2v12m0 1v1M709.5 502v1m0 9v1m0 1v8m0 1v5M710.5 513v2m0 1v6m0 2v3M711.5 509v1m0 2v1m0 1v1m0 1v12M712.5 507v1m0 6v13M713.5 508v1m0 1v1m0 2v1m0 1v13M714.5 507v1m0 6v14M715.5 508v1m0 4v1m0 1v13M716.5 498v1m0 10v1m0 3v11m0 1v3M717.5 510v1m0 1v1m0 2v4m0 1v8M718.5 509v1m0 5v2m0 2v9M719.5 509v3m0 1v1m0 2v2m0 1v9M720.5 499v1m0 5v1m0 5v1m0 4v12M721.5 505v1m0 3v4m0 1v1m0 1v3m0 1v8M722.5 501v1m0 11v2m0 1v12M723.5 508v2m0 3v13m0 1v1M724.5 509v4m0 2v13M725.5 503v1m0 2v4m0 2v2m0 1v12M726.5 508v1m0 2v1m0 1v2m0 1v7m0 1v4M727.5 512v1m0 2v13M728.5 477v1m0 22v1m0 4v1m0 7v1m0 2v12M729.5 502v1m0 9v2m0 3v11M730.5 510v1m0 3v1m0 1v1m0 1v10M731.5 509v1m0 3v1m0 2v12M732.5 511v1m0 1v1m0 3v11M733.5 511v1m0 1v2m0 1v12M734.5 514v2m0 1v11M735.5 503v1m0 8v1m0 2v1m0 1v1m0 3v7M736.5 511v1m0 4v12M737.5 503v1m0 12v12M738.5 508v1m0 2v1m0 2v1m0 1v12M739.5 500v1m0 13v1m0 2v11M740.5 508v1m0 1v1m0 4v10m0 1v2M741.5 511v1m0 1v2m0 1v9m0 1v2M742.5 503v1m0 6v1m0 6v1m0 1v8M743.5 510v1m0 2v1m0 2v12M744.5 507v1m0 5v4m0 1v10M745.5 506v1m0 8v13M746.5 514v2m0 1v11M747.5 500v1m0 4v1m0 8v1m0 2v11M748.5 505v1m0 2v1m0 5v14M749.5 517v10M750.5 507v1m0 4v2m0 1v1m0 2v9M751.5 514v1m0 3v10M752.5 484v1m0 21v1m0 3v1m0 2v1m0 2v4m0 1v7M753.5 514v2m0 1v1m0 1v9M754.5 499v1m0 6v1m0 1v2m0 3v1m0 1v13M755.5 514v1m0 2v11M756.5 501v1m0 10v3m0 1v12M757.5 508v1m0 1v1m0 5v12M758.5 507v1m0 6v1m0 1v12M759.5 505v1m0 2v2m0 4v14M760.5 501v1m0 7v1m0 4v3m0 1v10M761.5 503v1m0 2v1m0 6v2m0 1v12M762.5 515v13M763.5 500v1m0 10v2m0 3v11M764.5 509v1m0 3v2m0 1v12M765.5 513v14M766.5 499v1m0 10v1m0 2v1m0 1v6m0 1v6M767.5 506v1m0 1v2m0 2v1m0 1v14M768.5 503v1m0 9v3m0 1v11M769.5 506v1m0 4v2m0 2v1m0 1v10M770.5 502v1m0 9v2m0 1v12M771.5 513v1m0 1v13M772.5 513v1m0 1v1m0 2v1m0 1v8M773.5 508v1m0 7v1m0 1v10M774.5 502v1m0 3v1m0 8v1m0 3v4m0 3v2M775.5 520v8M776.5 510v1m0 4v2m0 1v10M777.5 513v1m0 2v1m0 1v10M778.5 513v1m0 2v12M779.5 510v1m0 8v9M780.5 505v1m0 8v1m0 1v1m0 1v9M781.5 500v1m0 9v1m0 3v1m0 3v9M782.5 502v1m0 13v12M783.5 500v1m0 11v1m0 4v10M784.5 517v10M785.5 483v1m0 21v1m0 4v1m0 4v1m0 2v2m0 1v3m0 1v3M786.5 503v1m0 14v9M787.5 510v1m0 9v8M788.5 507v1m0 10v10M789.5 514v1m0 1v1m0 1v10M790.5 517v10M791.5 518v10M792.5 510v1m0 5v1m0 2v9M793.5 515v1m0 1v1m0 1v9M794.5 505v1m0 11v10M795.5 512v1m0 5v10M796.5 514v1m0 3v1m0 1v7M797.5 511v1m0 6v1m0 1v8M798.5 510v1m0 6v1m0 1v9M799.5 510v1m0 8v9M800.5 503v1m0 9v2m0 1v12M801.5 504v1m0 6v1m0 3v13M802.5 483v1m0 24v1m0 3v1m0 4v2m0 1v7M803.5 483v1m0 18v1m0 14v1m0 1v9M804.5 519v9M805.5 480v1m0 38v8M806.5 519v9M807.5 519v9M808.5 509v1m0 8v10M809.5 505v1m0 9v13M810.5 516v2m0 1v8M811.5 502v1m0 11v1m0 2v11M812.5 513v2m0 1v1m0 2v9M813.5 517v11M814.5 517v11M815.5 514v2m0 2v2m0 1v6M816.5 505v1m0 5v2m0 3v12M817.5 510v1m0 1v1m0 2v2m0 1v10M818.5 502v1m0 6v1m0 4v1m0 1v11M819.5 513v1m0 4v10M820.5 514v14M821.5 515v1m0 3v8M822.5 498v1m0 4v1m0 13v1m0 1v8M823.5 514v1m0 2v11M824.5 510v1m0 5v1m0 1v9M825.5 504v1m0 13v1m0 1v8M826.5 513v1m0 4v3m0 1v6M827.5 501v1m0 3v1m0 9v1m0 3v9M828.5 500v1m0 3v1m0 9v4m0 1v9M829.5 510v1m0 8v9M830.5 509v1m0 6v12M831.5 516v2m0 2v8M832.5 506v1m0 6v1m0 3v2m0 1v7M833.5 506v1m0 13v8M834.5 517v2m0 1v8M835.5 503v1m0 14v1m0 1v7M836.5 520v8M837.5 516v2m0 1v9M838.5 516v1m0 2v9M839.5 474v1m0 33v1m0 7v1m0 1v5m0 2v2M840.5 502v1m0 15v10M841.5 510v1m0 4v1m0 2v10M842.5 514v1m0 3v10M843.5 503v1m0 15v5m0 1v3M844.5 485v1m0 31v1m0 1v9M845.5 515v1m0 1v11M846.5 517v1m0 1v9M847.5 501v1m0 15v1m0 1v9M848.5 511v1m0 5v1m0 1v8M849.5 506v1m0 5v1m0 6v9M850.5 505v1m0 3v1m0 3v1m0 4v7m0 1v2M851.5 508v1m0 3v1m0 3v5m0 1v6M852.5 508v1m0 7v1m0 1v9M853.5 509v1m0 5v1m0 2v10M854.5 511v1m0 7v9M855.5 514v1m0 3v9M856.5 499v1m0 3v1m0 12v12M857.5 515v1m0 3v9M858.5 516v1m0 2v9M859.5 513v1m0 4v10M860.5 500v1m0 10v1m0 4v12M861.5 503v1m0 11v1m0 2v10M862.5 477v1m0 39v11M863.5 515v13M864.5 513v1m0 2v11M865.5 513v1m0 1v10m0 1v2M866.5 500v1m0 12v1m0 2v12M867.5 503v1m0 2v1m0 1v1m0 4v1m0 2v12M868.5 497v1m0 2v2m0 10v1m0 2v13M869.5 503v1m0 8v16M870.5 513v1m0 1v13M871.5 511v1m0 3v13M872.5 497v1m0 11v1m0 5v13M873.5 505v1m0 6v2m0 1v13M874.5 510v1m0 1v2m0 1v13M875.5 512v16M876.5 507v1m0 5v1m0 1v5m0 2v6M877.5 509v1m0 3v2m0 1v3m0 1v7M878.5 507v1m0 4v2m0 1v13M879.5 511v2m0 2v2m0 1v4m0 1v5M880.5 506v1m0 2v1m0 5v13M881.5 512v1m0 1v4m0 1v8M882.5 499v1m0 5v1m0 5v1m0 3v13M883.5 512v15M884.5 505v2m0 4v1m0 1v1m0 1v13M885.5 513v4m0 2v9M886.5 511v3m0 1v13M887.5 512v5m0 1v10M888.5 501v1m0 11v15M889.5 510v2m0 1v15M890.5 510v1m0 1v1m0 1v14M891.5 508v1m0 4v13m0 1v1M892.5 487v1m0 18v2m0 2v1m0 1v16M893.5 509v1m0 1v1m0 2v7m0 1v6M894.5 508v1m0 1v1m0 4v12M895.5 509v1m0 2v16M896.5 499v3m0 5v1m0 3v17M897.5 508v1m0 6v7m0 2v3M898.5 510v1m0 2v15M899.5 513v15M900.5 505v1m0 2v2m0 3v15M901.5 506v1m0 9v11M902.5 499v1m0 9v1m0 1v1m0 3v7m0 1v5M903.5 502v1m0 6v2m0 5v12M904.5 505v1m0 6v2m0 1v13M905.5 514v9m0 2v3M906.5 505v1m0 6v1m0 1v2m0 1v11M907.5 508v1m0 5v1m0 1v12M908.5 501v1m0 10v2m0 2v12M909.5 500v1m0 9v1m0 5v12M910.5 512v1m0 1v1m0 1v12M911.5 503v1m0 12v9m0 1v2M912.5 498v1m0 8v1m0 4v1m0 1v14M913.5 511v1m0 4v12M914.5 502v1m0 6v3m0 2v1m0 1v12M915.5 498v1m0 7v1m0 1v2m0 2v2m0 2v12M916.5 503v1m0 5v1m0 3v1m0 1v10m0 2v1M917.5 514v13M918.5 512v3m0 1v12M919.5 502v1m0 12v12M920.5 504v1m0 7v1m0 1v7m0 1v6M921.5 504v1m0 11v12M922.5 500v1m0 11v1m0 2v13M923.5 503v2m0 5v1m0 5v12M924.5 505v1m0 1v1m0 6v2m0 1v8M925.5 501v1m0 9v1m0 4v12M926.5 505v1m0 5v3m0 2v11M927.5 511v1m0 3v13M928.5 504v1m0 10v11m0 1v1M929.5 517v10M930.5 516v11M931.5 508v1m0 1v1m0 5v11M932.5 499v1m0 4v1m0 3v1m0 4v15M933.5 505v1m0 8v14M934.5 502v1m0 8v1m0 1v1m0 1v13M935.5 508v1m0 1v1m0 1v16M936.5 504v1m0 8v15M937.5 510v1m0 2v1m0 1v4m0 1v7M938.5 509v1m0 3v11m0 1v3M939.5 516v11M940.5 502v1m0 1v1m0 3v1m0 7v12M941.5 513v15M942.5 498v1m0 11v1m0 2v3m0 2v9M943.5 503v1m0 6v1m0 2v2m0 1v12M944.5 502v1m0 2v1m0 7v1m0 2v10m0 1v1M945.5 510v1m0 3v14M946.5 504v1m0 2v1m0 4v1m0 1v1m0 1v12M947.5 507v1m0 2v4m0 2v12M948.5 508v2m0 3v12m0 1v2M949.5 508v1m0 5v14M950.5 506v1m0 7v14M951.5 501v1m0 1v1m0 9v15M952.5 505v1m0 6v1m0 3v12M953.5 511v1m0 2v1m0 1v12M954.5 514v14M955.5 478v1m0 33v1m0 2v1m0 1v2m0 1v8M956.5 513v1m0 1v12M957.5 511v1m0 2v2m0 1v11M958.5 498v1m0 17v11M959.5 507v1m0 6v2m0 1v10M960.5 511v1m0 4v12M961.5 508v1m0 6v7m0 1v5M962.5 509v1m0 4v13M963.5 513v1m0 1v13M964.5 512v1m0 1v1m0 1v12M965.5 516v12M966.5 500v1m0 12v1m0 3v4m0 1v6M967.5 511v1m0 4v12M968.5 516v1m0 1v9M969.5 505v1m0 7v1m0 2v1m0 1v10M970.5 513v1m0 4v9M971.5 499v1m0 16v2m0 1v8M972.5 202v1m0 304v1m0 11v9M973.5 500v1m0 12v1m0 3v1m0 1v9M974.5 502v1m0 10v1m0 6v8M975.5 517v11M976.5 491v1m0 25v1m0 2v8M977.5 485v1m0 15v2m0 1v1m0 11v1m0 2v9M978.5 501v1m0 7v1m0 7v11M979.5 500v1m0 14v1m0 2v5m0 1v3M980.5 516v1m0 1v10M981.5 503v1m0 8v2m0 1v2m0 2v9M982.5 517v1m0 1v9M983.5 514v2m0 1v1m0 1v9M984.5 516v1m0 2v9M985.5 473v1m0 31v1m0 10v12M986.5 509v1m0 6v12M987.5 519v9M988.5 518v3m0 1v5M989.5 498v1m0 20v9M990.5 520v8M991.5 519v8M992.5 516v1m0 2v9M993.5 505v1m0 8v1m0 1v1m0 1v10M994.5 514v1m0 2v2m0 1v6M995.5 513v1m0 1v1m0 3v9M996.5 517v10M997.5 502v1m0 8v1m0 4v1m0 3v7M998.5 501v1m0 12v1m0 1v1m0 2v9M999.5 513v1m0 3v1m0 1v9M1000.5 516v2m0 1v9M1001.5 477v1m0 30v2m0 4v2m0 1v10M1002.5 503v1m0 3v1m0 5v1m0 3v6m0 1v3M1003.5 498v1m0 2v2m0 7v1m0 7v9M1004.5 507v1m0 1v1m0 5v1m0 2v10M1005.5 499v1m0 7v1m0 4v1m0 6v9M1006.5 515v2m0 2v9M1007.5 503v1m0 15v9M1008.5 503v1m0 8v1m0 3v1m0 2v9M1009.5 514v1m0 4v8M1010.5 515v2m0 1v4m0 1v5M1011.5 498v1m0 17v1m0 1v1m0 1v8M1012.5 513v1m0 4v10M1013.5 515v1m0 2v10M1014.5 500v1m0 1v1m0 7v1m0 3v2m0 1v3m0 1v7M1015.5 504v1m0 8v1m0 2v1m0 1v9M1016.5 514v1m0 1v10m0 1v1M1017.5 500v1m0 13v1m0 2v4m0 1v6M1018.5 517v11M1019.5 499v1m0 1v1m0 9v1m0 7v8M1020.5 498v1m0 10v1m0 10v7M1021.5 501v2m0 16v5m0 1v2M1022.5 509v1m0 2v1m0 5v10M1023.5 507v2m0 7v1m0 1v10M1024.5 514v1m0 4v9M1025.5 506v1m0 12v9M1026.5 502v1m0 9v2m0 3v11M1027.5 503v1m0 10v14M1028.5 505v1m0 11v1m0 1v8M1029.5 517v1m0 1v9M1030.5 517v10M1031.5 514v3m0 2v8M1032.5 517v1m0 1v8M1033.5 506v1m0 12v1m0 1v7M1034.5 516v1m0 2v9M1035.5 506v1m0 7v1m0 2v11M1036.5 500v1m0 12v1m0 2v1m0 1v10M1037.5 519v9M1038.5 507v1m0 1v1m0 5v1m0 1v10M1039.5 509v1m0 6v2m0 1v2m0 1v6M1040.5 505v1m0 7v1m0 5v9M1041.5 489v1m0 22v1m0 4v11M1042.5 519v9M1043.5 507v1m0 6v1m0 1v1m0 1v5m0 1v4M1044.5 513v1m0 3v11M1045.5 513v1m0 2v1m0 1v9M1046.5 518v3m0 1v6M1047.5 515v2m0 1v5m0 1v4M1048.5 512v1m0 3v12M1049.5 516v12M1050.5 515v8m0 1v4M1051.5 500v1m0 14v13M1052.5 500v1m0 10v1m0 1v1m0 3v11M1053.5 515v9m0 1v3M1054.5 515v13M1055.5 501v2m0 14v4m0 1v6M1056.5 498v2m0 14v1m0 1v11M1057.5 507v1m0 2v2m0 2v1m0 2v11M1058.5 505v1m0 7v1m0 2v12M1059.5 503v1m0 13v11M1060.5 508v2m0 1v1m0 3v8m0 2v2M1061.5 516v12M1062.5 500v1m0 7v1m0 7v12M1063.5 496v1m0 2v1m0 14v14M1064.5 510v18M1065.5 484v1m0 15v1m0 19v8M1066.5 498v1m0 3v1m0 1v1m0 9v11m0 1v1M1067.5 514v14M1068.5 513v15M1069.5 510v1m0 2v1m0 1v12M1070.5 507v1m0 4v16M1071.5 506v1m0 5v10m0 1v5M1072.5 510v17M1073.5 501v1m0 6v3m0 1v1m0 1v12M1074.5 511v2m0 1v14M1075.5 509v4m0 1v14M1076.5 504v1m0 1v1m0 5v1m0 1v6m0 1v7M1077.5 504v1m0 5v2m0 1v11m0 1v3M1078.5 506v3m0 1v1m0 1v16M1079.5 499v1m0 9v1m0 1v1m0 1v5m0 1v9M1080.5 499v1m0 8v1m0 4v15M1081.5 506v1m0 5v16M1082.5 504v1m0 6v17M1083.5 511v1m0 1v15M1084.5 503v1m0 4v1m0 2v1m0 2v14M1085.5 498v1m0 17v7m0 1v4M1086.5 507v1m0 5v1m0 1v13M1087.5 506v1m0 8v13M1088.5 497v1m0 11v1m0 4v14M1089.5 500v1m0 13v14M1090.5 512v15M1091.5 500v1m0 6v2m0 1v8m0 1v3m0 1v4M1092.5 472v1m0 13v1m0 23v2m0 3v13M1093.5 512v1m0 2v4m0 1v8M1094.5 500v1m0 12v15M1095.5 505v1m0 4v1m0 1v1m0 1v14M1096.5 512v1m0 2v13M1097.5 502v1m0 13v3m0 1v8M1098.5 507v1m0 2v1m0 4v13M1099.5 509v1m0 4v14M1100.5 498v1m0 1v1m0 12v15M1101.5 512v2m0 1v8m0 1v4M1102.5 501v1m0 1v1m0 4v1m0 5v8m0 1v5M1103.5 505v1m0 1v1m0 2v1m0 3v14M1104.5 455v1m0 37v1m0 21v1m0 1v11M1105.5 506v1m0 5v1m0 3v12M1106.5 509v1m0 6v11M1107.5 509v1m0 4v2m0 1v2m0 1v8M1108.5 510v1m0 4v9m0 1v3M1109.5 515v12M1110.5 510v1m0 2v1m0 1v2m0 1v10M1111.5 507v1m0 6v1m0 1v12M1112.5 498v1m0 3v1m0 3v1m0 6v2m0 1v12M1113.5 505v1m0 5v17M1114.5 513v15M1115.5 507v1m0 1v1m0 1v2m0 2v13M1116.5 504v2m0 2v1m0 2v1m0 3v13M1117.5 507v1m0 4v1m0 1v4m0 1v9M1118.5 507v1m0 6v14M1119.5 508v1m0 5v14M1120.5 505v1m0 9v13M1121.5 507v1m0 8v12M1122.5 489v1m0 21v3m0 1v12M1123.5 510v1m0 3v1m0 1v12M1124.5 510v1m0 1v1m0 3v12M1125.5 510v1m0 1v1m0 1v1m0 2v11M1126.5 514v1m0 1v12M1127.5 511v4m0 2v4m0 2v5M1128.5 517v11M1129.5 509v1m0 4v1m0 2v8m0 2v1M1130.5 505v1m0 3v1m0 3v3m0 1v11M1131.5 502v1m0 12v1m0 1v5m0 1v2m0 1v1M1132.5 512v1m0 2v12M1133.5 508v1m0 8v11M1134.5 514v1m0 2v10M1135.5 510v1m0 6v11M1136.5 500v1m0 7v1m0 9v1m0 1v7M1137.5 511v1m0 1v1m0 4v8m0 1v1M1138.5 514v1m0 1v11M1139.5 500v1m0 7v1m0 1v1m0 3v1m0 2v11M1140.5 505v2m0 1v1m0 6v1m0 1v10M1141.5 500v1m0 8v1m0 7v11M1142.5 499v1m0 8v1m0 1v1m0 4v1m0 1v11M1143.5 499v1m0 12v3m0 2v11M1144.5 507v1m0 8v5m0 1v6M1145.5 517v11M1146.5 508v1m0 5v1m0 1v12M1147.5 504v1m0 11v12M1148.5 502v1m0 12v1m0 1v11M1149.5 512v1m0 4v10M1150.5 515v3m0 1v5m0 1v3M1151.5 505v1m0 9v9m0 1v3M1152.5 512v1m0 1v14M1153.5 500v1m0 10v2m0 1v14M1154.5 514v1m0 1v11M1155.5 519v8M1156.5 504v1m0 10v2m0 1v10M1157.5 507v2m0 3v2m0 4v4m0 1v4M1158.5 510v1m0 4v1m0 2v9M1159.5 516v1m0 1v10M1160.5 502v1m0 15v10M1161.5 515v1m0 1v11M1162.5 509v1m0 4v4m0 1v9M1163.5 516v1m0 2v9M1164.5 517v11M1165.5 503v1m0 11v2m0 2v9M1166.5 518v1m0 1v8M1167.5 515v1m0 1v1m0 2v7M1168.5 519v9M1169.5 506v1m0 5v1m0 5v1m0 1v6m0 1v1M1170.5 502v1m0 13v1m0 1v9M1171.5 500v1m0 16v11M1172.5 477v1m0 40v10M1173.5 512v1m0 4v1m0 1v9M1174.5 516v1m0 2v8M1175.5 501v1m0 5v1m0 2v1m0 2v1m0 2v1m0 3v8M1176.5 515v1m0 1v4m0 1v6M1177.5 511v1m0 4v1m0 1v1m0 1v8M1178.5 501v1m0 15v1m0 1v2m0 2v5M1179.5 518v6m0 1v3M1180.5 499v1m0 16v1m0 1v10M1181.5 498v1m0 19v9M1182.5 498v1m0 8v1m0 3v1m0 6v10M1183.5 500v1m0 5v1m0 8v2m0 1v10M1184.5 517v11M1185.5 503v1m0 2v1m0 7v1m0 4v9M1186.5 517v11M1187.5 515v2m0 2v9M1188.5 509v1m0 3v1m0 1v1m0 1v11M1189.5 512v1m0 1v1m0 2v10M1190.5 513v1m0 4v10M1191.5 504v1m0 12v11M1192.5 512v1m0 5v9M1193.5 518v10M1194.5 516v1m0 1v9M1195.5 509v1m0 9v9M1196.5 514v1m0 1v1m0 2v8M1197.5 503v1m0 3v1m0 8v1m0 1v10M1198.5 500v1m0 14v1m0 1v11M1199.5 517v1m0 1v9M1200.5 498v1m0 15v1m0 2v11M1201.5 519v8M1202.5 475v1m0 35v1m0 5v1m0 1v8M1203.5 508v1m0 9v9M1204.5 508v1m0 11v7M1205.5 518v1m0 1v2m0 1v5M1206.5 502v1m0 11v1m0 2v1m0 1v9M1207.5 484v1m0 35v4m0 1v2M1208.5 510v1m0 2v2m0 3v9M1209.5 510v1m0 8v8M1210.5 515v1m0 1v2m0 1v8M1211.5 519v9M1212.5 518v10M1213.5 507v1m0 10v10M1214.5 514v1m0 1v1m0 2v9M1215.5 515v1m0 3v8M1216.5 511v1m0 1v1m0 2v1m0 1v10M1217.5 517v1m0 1v8M1218.5 518v10M1219.5 501v1m0 5v1m0 1v1m0 7v11M1220.5 513v1m0 1v1m0 1v11M1221.5 498v1m0 14v1m0 4v10M1222.5 499v1m0 17v1m0 1v9M1223.5 516v12M1224.5 518v10M1225.5 515v1m0 3v9M1226.5 507v1m0 1v1m0 3v1m0 3v5m0 2v4M1227.5 516v2m0 1v8M1228.5 480v1m0 26v1m0 4v1m0 4v11M1229.5 516v12M1230.5 516v12M1231.5 519v9M1232.5 509v1m0 6v10M1233.5 519v9M1234.5 504v1m0 12v1m0 1v9M1235.5 503v1m0 12v2m0 1v9M1236.5 496v1m0 13v1m0 4v2m0 1v10M1237.5 512v1m0 3v2m0 1v9M1238.5 515v1m0 2v10M1239.5 518v10M1240.5 507v1m0 4v1m0 4v6m0 1v3M1241.5 517v11M1242.5 510v1m0 5v12M1243.5 514v1m0 2v10M1244.5 513v1m0 3v11M1245.5 513v1m0 2v12M1246.5 503v1m0 7v3m0 3v8m0 1v2M1247.5 514v2m0 1v11M1248.5 507v1m0 6v1m0 1v12M1249.5 477v1m0 22v1m0 14v13M1250.5 513v1m0 1v13M1251.5 512v2m0 1v2m0 2v9M1252.5 518v1m0 1v8M1253.5 521v7M1254.5 500v1m0 10v1m0 1v1m0 2v1m0 1v10"/>
</g>
<path d="M104.5 56.5H1255.5V579.5H104.5Z" stroke="#000" fill="none"/>
</g>
<g style="opacity:.999">
<text x="676.5" y="32" text-anchor="middle">Traffic Log for 1.0.0.0/8 (Packet Size)</text>
<text x="676.5" y="631" text-anchor="middle">Time</text>
<text transform="translate(38,319) rotate(-90)" text-anchor="middle">Bytes</text>
<text x="77.2" y="603">23-00h</text>
<text x="173.2" y="603">23-12h</text>
<text x="269.2" y="603">24-00h</text>
<text x="365.2" y="603">24-12h</text>
<text x="461.2" y="603">25-00h</text>
<text x="557.2" y="603">25-12h</text>
<text x="653.2" y="603">26-00h</text>
<text x="748.2" y="603">26-12h</text>
<text x="844.2" y="603">27-00h</text>
<text x="940.2" y="603">27-12h</text>
<text x="1036.2" y="603">28-00h</text>
<text x="1132.2" y="603">28-12h</text>
<text x="1228.2" y="603">01-00h</text>
<text x="91" y="584" text-anchor="end">0</text>
<text x="91" y="526" text-anchor="end">100</text>
<text x="91" y="468" text-anchor="end">200</text>
<text x="91" y="410" text-anchor="end">300</text>
<text x="91" y="352" text-anchor="end">400</text>
<text x="91" y="293" text-anchor="end">500</text>
<text x="91" y="235" text-anchor="end">600</text>
<text x="91" y="177" text-anchor="end">700</text>
<text x="91" y="119" text-anchor="end">800</text>
<text x="91" y="61" text-anchor="end">900</text>
<text x="1174" y="77" text-anchor="end">Total</text>
<rect x="1197" y="69" width="33" height="4" fill="#ff0000"/>
<text x="1175.5" y="96" text-anchor="end">UDP</text>
<rect x="1197" y="88" width="33" height="3" fill="#00c000"/>
<text x="1175" y="115" text-anchor="end">TCP</text>
<rect x="1197" y="105" width="33" height="3" fill="#0080ff"/>
<text x="1176.5" y="134" text-anchor="end">ICMP</text>
<rect x="1197" y="126" width="33" height="4" fill="#c000ff"/>
<text x="1175" y="153" text-anchor="end">Other</text>
<rect x="1197" y="146" width="33" height="5" fill="#00eeee"/>
</g>
</svg>
</body></html>
